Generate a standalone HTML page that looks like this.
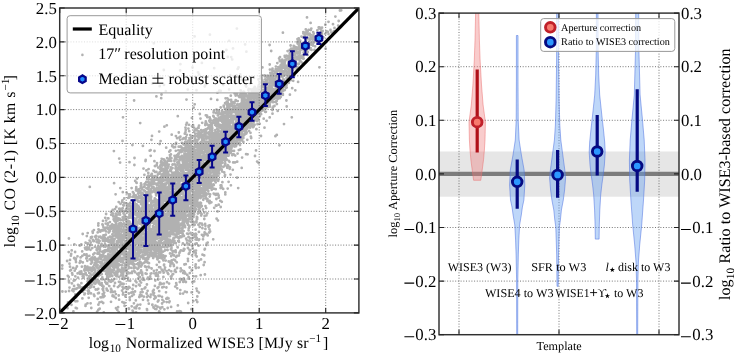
<!DOCTYPE html>
<html><head><meta charset="utf-8"><style>
html,body{margin:0;padding:0;background:#fff;width:735px;height:355px;overflow:hidden}
svg{display:block;will-change:transform}
text{font-family:"Liberation Serif", serif;fill:#000;text-rendering:geometricPrecision}
</style></head><body>
<svg width="735" height="355" viewBox="0 0 735 355">
<defs>
<clipPath id="cl"><rect x="59.7" y="8.0" width="299.2" height="304.9"/></clipPath>
<clipPath id="cr"><rect x="439.0" y="13.1" width="240.0" height="321.6"/></clipPath>
</defs>
<g clip-path="url(#cl)">
<path d="M339.9 10.5h0M341.2 10.3h0M335.4 16.6h0M307.0 17.4h0M338.7 21.0h0M328.5 21.8h0M310.6 22.9h0M325.3 24.7h0M333.0 24.2h0M338.2 25.6h0M341.0 27.0h0M318.7 27.4h0M319.5 27.5h0M322.0 27.7h0M334.5 27.9h0M236.9 28.6h0M311.3 28.6h0M319.0 28.4h0M320.1 28.1h0M305.8 29.4h0M308.7 29.9h0M320.6 29.0h0M330.5 30.0h0M307.8 30.9h0M310.8 30.0h0M317.3 30.3h0M321.5 30.9h0M306.7 31.4h0M322.1 31.7h0M322.6 31.0h0M326.5 31.4h0M326.6 31.8h0M327.9 31.8h0M333.9 31.2h0M282.9 32.7h0M303.3 32.1h0M305.8 32.3h0M307.6 32.6h0M313.2 32.2h0M320.1 32.9h0M331.4 32.4h0M303.4 33.4h0M305.9 33.1h0M309.7 33.7h0M313.7 33.6h0M320.5 33.8h0M325.3 33.8h0M333.1 33.2h0M209.9 34.7h0M305.5 34.3h0M307.3 34.4h0M310.8 34.8h0M322.0 34.1h0M328.5 34.0h0M309.6 35.2h0M313.2 35.5h0M319.1 36.0h0M194.6 36.4h0M301.5 36.6h0M304.7 36.0h0M304.5 36.4h0M303.2 37.3h0M307.8 38.0h0M310.7 37.1h0M311.6 37.4h0M312.7 37.8h0M313.6 37.6h0M313.5 37.4h0M315.8 37.7h0M315.3 37.6h0M316.6 37.1h0M323.4 37.5h0M298.8 38.5h0M305.9 38.6h0M306.8 38.3h0M311.4 39.0h0M317.4 38.2h0M320.1 39.0h0M321.2 38.5h0M297.5 39.1h0M297.8 39.4h0M305.6 39.0h0M309.7 39.9h0M309.5 39.2h0M312.7 39.7h0M312.9 39.0h0M229.1 40.8h0M300.2 40.6h0M306.2 40.1h0M315.6 40.1h0M318.8 40.1h0M298.5 41.3h0M309.4 41.8h0M319.0 41.6h0M318.8 41.6h0M297.3 42.0h0M300.4 42.9h0M305.1 42.5h0M309.8 42.6h0M312.5 42.5h0M314.2 42.3h0M317.7 42.6h0M153.8 43.3h0M297.6 43.5h0M299.4 43.3h0M299.6 43.1h0M301.4 43.7h0M303.9 43.6h0M305.2 43.5h0M308.7 43.6h0M312.8 43.9h0M245.1 44.4h0M269.6 45.0h0M298.8 44.8h0M301.0 44.8h0M304.2 44.4h0M308.8 44.7h0M311.3 44.7h0M321.2 44.7h0M290.6 45.5h0M293.7 45.9h0M300.6 45.6h0M300.3 45.3h0M303.0 45.2h0M303.3 45.5h0M304.8 45.2h0M308.8 45.8h0M313.0 45.5h0M294.7 46.7h0M300.8 46.4h0M300.7 46.4h0M302.1 46.4h0M305.6 46.1h0M308.8 46.9h0M315.1 46.3h0M295.6 47.4h0M296.6 47.4h0M299.0 47.1h0M299.6 48.0h0M308.4 47.4h0M233.0 48.4h0M291.1 48.6h0M292.9 49.0h0M293.1 48.5h0M295.7 48.3h0M295.2 48.5h0M298.4 48.0h0M299.8 48.6h0M300.6 48.8h0M302.0 48.8h0M309.7 49.0h0M310.5 48.1h0M325.6 48.7h0M289.8 49.8h0M294.8 49.9h0M297.5 49.0h0M297.0 49.4h0M299.5 49.9h0M303.4 49.7h0M304.8 49.5h0M306.0 49.8h0M306.6 49.8h0M311.5 49.9h0M226.4 50.0h0M271.2 51.0h0M291.0 50.9h0M292.4 50.5h0M294.6 50.4h0M295.1 50.6h0M296.5 50.4h0M299.9 50.8h0M300.6 50.3h0M304.7 50.4h0M305.1 50.6h0M305.5 50.2h0M314.5 50.0h0M246.4 51.7h0M287.6 51.1h0M294.7 51.4h0M305.1 51.9h0M295.2 52.2h0M295.2 52.7h0M297.8 52.2h0M298.8 53.0h0M300.0 52.9h0M303.6 52.5h0M305.7 52.7h0M305.9 52.1h0M307.8 52.0h0M289.7 53.5h0M290.3 53.5h0M292.0 53.7h0M294.8 53.4h0M297.3 53.6h0M299.3 53.8h0M219.2 54.9h0M289.7 54.6h0M292.6 54.6h0M293.8 54.8h0M306.6 54.5h0M307.7 54.9h0M176.6 55.5h0M286.5 55.7h0M291.0 55.7h0M295.1 55.3h0M300.6 55.9h0M302.6 55.3h0M303.6 55.5h0M284.9 57.0h0M284.7 56.0h0M288.3 56.3h0M296.9 57.0h0M298.3 56.5h0M298.5 56.9h0M298.7 56.4h0M299.3 56.7h0M300.9 56.9h0M302.8 56.2h0M302.5 56.6h0M227.8 57.0h0M231.2 57.1h0M280.0 57.1h0M285.4 57.4h0M288.4 57.1h0M289.8 57.3h0M290.9 57.8h0M292.7 57.7h0M294.6 57.6h0M297.4 58.0h0M300.5 57.2h0M302.7 57.2h0M279.1 58.5h0M286.7 58.6h0M289.5 58.7h0M290.3 58.3h0M292.8 58.2h0M292.7 58.5h0M293.3 58.7h0M300.6 58.1h0M302.0 58.1h0M303.0 58.5h0M303.6 58.5h0M232.2 59.4h0M282.2 59.6h0M289.0 59.7h0M291.9 60.0h0M291.9 59.6h0M292.5 59.4h0M293.4 59.9h0M293.3 59.4h0M295.8 59.9h0M296.5 59.3h0M297.2 59.2h0M298.8 59.3h0M299.3 59.5h0M279.8 60.5h0M281.7 60.6h0M283.4 60.8h0M284.4 60.7h0M285.7 60.1h0M288.6 60.6h0M289.2 60.1h0M291.0 60.1h0M291.4 60.6h0M299.8 60.9h0M279.8 61.2h0M285.0 61.8h0M289.7 61.1h0M289.7 61.5h0M300.7 61.4h0M201.9 62.9h0M282.0 62.7h0M283.3 62.5h0M288.6 62.8h0M288.9 62.8h0M290.8 62.9h0M292.9 62.7h0M295.4 62.5h0M302.0 62.6h0M277.3 63.1h0M284.7 63.3h0M284.2 63.4h0M288.4 63.9h0M288.4 63.7h0M289.0 63.7h0M290.0 63.4h0M289.2 63.6h0M292.0 63.6h0M294.5 63.9h0M295.3 63.1h0M297.6 64.0h0M299.0 63.8h0M298.9 63.7h0M180.4 64.2h0M269.7 64.5h0M280.8 64.9h0M282.4 64.1h0M283.0 64.8h0M284.6 64.7h0M288.1 64.7h0M289.4 64.3h0M292.3 65.0h0M298.3 64.3h0M283.6 65.4h0M283.2 65.4h0M284.9 65.3h0M285.2 65.9h0M285.9 65.7h0M290.1 66.0h0M291.4 65.6h0M293.3 65.6h0M275.9 66.6h0M279.4 66.8h0M281.7 66.6h0M282.2 67.0h0M286.5 66.9h0M286.8 66.4h0M289.1 66.5h0M290.7 66.7h0M291.2 66.4h0M292.2 66.6h0M296.1 66.8h0M192.5 67.5h0M238.5 67.5h0M262.4 67.4h0M278.4 67.1h0M281.1 67.4h0M284.2 67.7h0M284.0 67.2h0M284.2 67.9h0M289.9 67.4h0M290.3 67.5h0M290.5 67.7h0M293.3 67.6h0M294.1 67.4h0M297.7 67.5h0M319.4 67.3h0M214.2 68.2h0M237.7 68.9h0M272.5 68.7h0M278.0 68.8h0M279.2 68.1h0M279.6 68.8h0M281.4 68.9h0M282.3 68.1h0M287.5 68.4h0M287.8 68.0h0M287.3 68.3h0M288.0 68.8h0M290.5 68.9h0M290.1 68.8h0M293.0 68.9h0M163.8 70.0h0M269.9 69.6h0M275.7 69.2h0M276.4 69.3h0M278.1 70.0h0M278.9 69.7h0M280.4 69.1h0M285.3 69.1h0M290.8 69.3h0M293.2 69.8h0M296.6 69.2h0M180.1 70.5h0M272.4 70.4h0M272.7 71.0h0M273.2 70.9h0M280.0 70.2h0M280.2 70.7h0M281.9 70.8h0M281.6 70.7h0M285.0 70.8h0M289.5 70.2h0M292.5 70.5h0M272.7 71.1h0M273.5 71.1h0M275.4 71.9h0M277.2 71.1h0M277.7 71.1h0M280.5 71.7h0M282.7 71.9h0M283.7 71.5h0M283.4 71.9h0M283.0 71.6h0M284.2 71.9h0M286.3 71.2h0M286.0 71.2h0M286.8 71.8h0M288.7 71.2h0M289.9 71.7h0M290.6 71.8h0M198.0 72.3h0M270.3 72.8h0M275.1 72.8h0M276.7 72.1h0M280.6 72.8h0M281.7 72.7h0M283.3 72.0h0M288.0 72.7h0M289.6 72.2h0M270.8 73.4h0M270.7 74.0h0M271.3 73.0h0M272.2 73.7h0M279.9 73.5h0M280.4 73.8h0M280.4 73.6h0M282.4 73.2h0M286.9 73.4h0M286.7 73.4h0M287.2 73.9h0M288.5 73.6h0M290.6 73.5h0M291.4 73.6h0M199.1 74.3h0M240.3 74.3h0M270.7 74.9h0M272.0 75.0h0M273.5 74.4h0M273.4 74.4h0M277.4 74.9h0M277.4 74.4h0M278.9 75.0h0M279.9 74.5h0M280.4 74.2h0M280.6 74.9h0M283.1 74.2h0M284.9 74.4h0M284.9 74.4h0M286.7 74.4h0M287.2 74.5h0M288.0 74.1h0M289.8 74.7h0M290.9 74.3h0M292.1 74.3h0M230.2 75.2h0M236.5 75.5h0M261.8 75.3h0M264.4 75.5h0M265.8 75.9h0M267.8 75.7h0M272.8 75.9h0M276.3 75.4h0M277.7 75.1h0M277.8 75.2h0M284.3 75.5h0M289.3 75.2h0M289.9 75.2h0M291.2 75.1h0M293.6 75.6h0M238.3 76.3h0M260.1 76.4h0M264.9 76.4h0M266.8 76.8h0M267.2 76.1h0M268.1 76.1h0M269.6 76.4h0M269.1 77.0h0M270.7 76.6h0M274.1 76.1h0M277.5 76.1h0M277.8 76.2h0M282.1 76.5h0M288.2 76.2h0M288.7 76.5h0M261.6 78.0h0M267.8 77.5h0M268.9 77.9h0M268.0 78.0h0M271.9 77.8h0M272.4 77.9h0M276.2 77.0h0M276.6 77.3h0M278.5 77.4h0M279.2 77.4h0M282.5 77.0h0M286.6 78.0h0M288.5 77.2h0M289.5 77.9h0M290.3 77.5h0M261.5 78.8h0M269.5 78.2h0M269.4 78.8h0M270.1 78.1h0M270.5 78.9h0M273.7 78.6h0M273.5 78.2h0M274.9 78.6h0M278.2 78.1h0M278.6 78.9h0M287.0 78.6h0M288.5 78.2h0M290.8 78.5h0M212.8 79.0h0M241.4 79.7h0M258.5 79.5h0M262.3 79.8h0M265.3 79.4h0M265.3 79.3h0M266.3 79.6h0M267.5 79.8h0M269.1 79.5h0M269.1 79.6h0M270.3 79.1h0M270.7 79.4h0M271.5 80.0h0M278.4 79.6h0M278.7 79.5h0M282.9 80.0h0M283.4 79.2h0M284.0 79.8h0M289.8 79.8h0M266.6 80.3h0M270.4 80.5h0M271.1 80.3h0M273.8 80.2h0M275.9 80.3h0M276.3 80.8h0M279.7 80.8h0M283.2 80.2h0M285.1 80.9h0M287.5 80.1h0M287.6 80.6h0M290.7 80.2h0M293.2 80.8h0M234.3 81.5h0M244.1 81.0h0M262.5 81.5h0M265.9 81.7h0M265.5 81.7h0M271.5 81.7h0M273.3 81.3h0M275.8 81.9h0M277.5 81.7h0M278.5 81.6h0M279.8 81.8h0M280.5 81.6h0M281.1 81.6h0M281.5 81.1h0M282.3 81.7h0M283.5 81.4h0M286.0 81.1h0M288.6 81.2h0M298.1 81.9h0M259.5 82.7h0M264.1 82.7h0M265.9 82.3h0M265.3 82.1h0M265.8 82.5h0M268.0 82.3h0M269.2 83.0h0M272.2 82.6h0M274.2 82.3h0M282.8 82.7h0M282.3 82.1h0M285.6 82.5h0M285.1 82.5h0M288.8 82.9h0M152.2 83.7h0M250.3 83.6h0M264.6 84.0h0M265.6 83.2h0M269.4 83.8h0M271.1 83.2h0M275.7 83.6h0M278.6 83.1h0M280.5 83.3h0M281.7 83.8h0M164.0 84.9h0M262.7 84.5h0M264.4 84.1h0M264.5 84.6h0M266.5 84.5h0M273.3 84.1h0M274.0 84.1h0M274.1 84.2h0M275.6 84.2h0M278.3 84.2h0M282.1 84.3h0M283.9 84.5h0M284.8 84.4h0M284.8 84.3h0M285.8 84.5h0M286.6 84.9h0M205.3 85.2h0M223.3 85.1h0M245.6 85.4h0M258.8 85.2h0M262.8 85.3h0M263.5 85.4h0M264.9 85.4h0M269.7 85.5h0M272.3 85.4h0M274.6 85.7h0M279.7 85.5h0M281.0 85.8h0M281.2 85.9h0M283.5 85.3h0M284.6 85.4h0M159.7 86.2h0M204.7 86.5h0M246.2 86.5h0M254.8 86.8h0M258.4 86.6h0M259.9 86.6h0M260.0 86.4h0M260.6 86.5h0M263.0 86.8h0M263.4 86.7h0M265.0 86.7h0M269.6 86.5h0M269.1 86.5h0M269.8 86.1h0M270.3 86.9h0M275.1 86.0h0M275.4 86.6h0M280.9 86.7h0M283.0 87.0h0M284.7 86.6h0M254.4 87.7h0M258.3 87.5h0M260.0 87.8h0M263.8 87.1h0M268.1 87.9h0M268.2 87.3h0M271.7 87.3h0M271.2 87.1h0M276.2 87.1h0M276.2 87.6h0M277.0 87.8h0M277.0 87.6h0M282.4 87.0h0M282.3 87.7h0M286.7 87.5h0M286.0 87.9h0M248.8 88.9h0M253.4 88.8h0M255.6 88.6h0M257.8 88.7h0M265.3 88.6h0M266.4 88.4h0M266.8 88.4h0M270.0 88.7h0M272.2 88.5h0M277.0 88.7h0M277.0 88.1h0M280.5 88.0h0M280.4 88.6h0M281.0 88.6h0M282.1 88.8h0M282.8 88.6h0M282.7 88.1h0M292.2 88.2h0M187.8 89.6h0M229.1 89.4h0M248.4 89.9h0M250.7 89.3h0M255.5 89.4h0M256.0 89.4h0M258.3 89.8h0M258.0 89.7h0M259.0 89.2h0M261.5 89.4h0M261.5 89.6h0M264.2 90.0h0M267.2 89.8h0M273.7 89.4h0M273.7 89.5h0M273.7 89.6h0M273.2 89.9h0M273.3 89.1h0M275.0 90.0h0M276.0 89.2h0M276.0 89.7h0M278.8 90.0h0M279.9 89.7h0M282.0 89.9h0M283.9 90.0h0M284.8 90.0h0M196.5 90.2h0M219.3 90.7h0M220.7 90.8h0M240.7 90.4h0M253.5 90.4h0M253.1 90.1h0M256.1 90.2h0M258.5 90.9h0M258.3 90.4h0M258.2 90.4h0M259.3 91.0h0M265.6 90.4h0M265.3 90.3h0M265.3 90.1h0M269.1 90.4h0M269.8 90.2h0M270.2 90.2h0M271.0 90.8h0M272.4 90.6h0M273.7 91.0h0M274.9 90.6h0M277.3 90.3h0M278.7 90.4h0M279.2 90.2h0M283.0 90.8h0M283.3 90.6h0M295.3 90.3h0M165.8 91.2h0M243.5 92.0h0M243.1 92.0h0M244.1 92.0h0M251.9 91.7h0M251.7 91.6h0M252.8 91.0h0M252.8 91.9h0M254.4 91.2h0M260.1 91.8h0M263.6 91.6h0M264.5 91.1h0M270.6 91.8h0M272.0 91.5h0M276.0 91.9h0M276.3 91.3h0M276.3 91.9h0M277.9 91.6h0M278.6 91.9h0M279.4 91.1h0M280.8 91.5h0M217.4 92.7h0M240.8 92.6h0M243.6 92.8h0M243.1 92.8h0M248.8 92.6h0M254.2 92.1h0M255.5 92.7h0M256.9 92.4h0M257.9 92.6h0M257.4 93.0h0M257.7 92.4h0M258.1 92.3h0M258.3 92.5h0M259.5 92.6h0M262.4 92.4h0M262.5 92.3h0M264.3 92.6h0M264.2 92.9h0M266.0 92.1h0M266.1 92.1h0M268.4 92.8h0M269.3 92.0h0M270.9 92.3h0M270.2 92.8h0M271.1 92.7h0M272.5 92.7h0M274.7 92.8h0M275.1 92.7h0M278.0 92.8h0M278.1 92.2h0M281.0 92.2h0M234.6 93.4h0M235.5 93.6h0M237.1 93.3h0M241.1 94.0h0M241.6 93.3h0M255.6 93.1h0M259.0 93.8h0M262.4 93.7h0M263.2 93.7h0M264.5 93.2h0M265.6 93.2h0M266.5 93.8h0M266.6 93.9h0M267.7 93.6h0M268.6 93.2h0M268.3 93.4h0M270.5 93.1h0M271.3 93.5h0M273.3 93.9h0M273.1 93.4h0M278.2 93.7h0M282.8 93.8h0M161.5 94.5h0M240.3 94.4h0M241.4 94.8h0M243.0 94.5h0M244.9 94.0h0M244.8 94.2h0M246.1 94.4h0M249.3 95.0h0M249.7 94.4h0M250.4 94.1h0M252.3 94.1h0M253.9 94.2h0M254.7 94.9h0M254.6 95.0h0M255.8 94.5h0M255.1 94.8h0M264.9 94.9h0M266.0 95.0h0M266.4 94.1h0M268.7 94.5h0M268.7 94.6h0M269.6 94.9h0M273.5 94.2h0M274.1 95.0h0M276.7 95.0h0M278.3 95.0h0M279.9 94.2h0M279.4 94.1h0M282.6 94.8h0M282.9 94.9h0M289.9 94.7h0M230.8 95.7h0M235.6 95.6h0M237.1 95.2h0M242.7 95.2h0M244.5 95.2h0M245.8 95.6h0M246.0 95.3h0M248.6 95.5h0M250.5 95.2h0M250.2 95.6h0M250.6 95.1h0M251.9 95.7h0M251.3 95.9h0M256.9 95.7h0M257.9 95.5h0M258.2 96.0h0M259.2 95.8h0M260.0 95.5h0M261.9 95.0h0M263.3 96.0h0M263.9 96.0h0M265.3 95.1h0M268.4 95.8h0M271.2 95.3h0M272.3 95.6h0M274.2 95.5h0M274.5 95.9h0M278.5 95.7h0M278.1 95.7h0M279.1 95.5h0M156.4 96.4h0M238.9 96.2h0M239.2 97.0h0M240.4 96.9h0M240.2 96.1h0M241.4 96.4h0M243.1 96.9h0M247.1 96.3h0M249.5 97.0h0M251.0 96.2h0M253.2 96.1h0M253.4 96.6h0M254.2 96.3h0M256.7 96.7h0M256.7 96.9h0M257.6 96.2h0M259.5 96.1h0M261.0 96.5h0M262.1 96.9h0M262.1 96.9h0M263.3 96.5h0M264.8 96.6h0M266.5 96.1h0M267.7 96.6h0M269.5 96.6h0M271.4 96.6h0M271.4 96.5h0M278.4 96.2h0M278.7 96.0h0M280.7 96.9h0M241.8 97.9h0M244.2 97.5h0M247.5 97.5h0M248.1 97.1h0M248.7 97.9h0M250.0 97.8h0M251.6 97.9h0M252.6 97.1h0M253.0 97.7h0M255.3 97.9h0M256.9 97.3h0M256.7 97.9h0M257.5 97.0h0M259.3 97.8h0M260.4 97.0h0M264.0 98.0h0M263.5 97.9h0M264.4 97.9h0M265.9 97.4h0M268.9 97.7h0M273.7 97.5h0M275.9 97.5h0M276.5 97.9h0M277.7 97.6h0M278.1 97.0h0M161.2 98.2h0M211.0 98.9h0M225.6 98.3h0M227.3 98.3h0M244.6 98.0h0M247.6 98.7h0M247.7 98.7h0M249.3 98.8h0M249.6 98.1h0M249.4 98.8h0M250.2 98.8h0M250.3 98.8h0M251.3 98.7h0M251.2 99.0h0M254.4 98.1h0M255.8 98.1h0M256.7 98.2h0M257.2 98.8h0M258.3 98.9h0M259.2 98.5h0M259.0 98.3h0M261.7 99.0h0M261.9 98.2h0M264.8 98.7h0M264.2 99.0h0M265.9 98.6h0M266.8 98.6h0M268.3 98.9h0M269.4 98.2h0M269.6 98.8h0M269.4 98.5h0M270.5 98.9h0M270.8 98.5h0M270.5 98.0h0M273.1 98.2h0M273.6 98.8h0M273.4 98.0h0M274.4 98.7h0M274.3 98.3h0M277.2 98.3h0M279.8 98.2h0M186.5 99.6h0M217.3 99.9h0M228.7 99.8h0M231.1 99.8h0M242.0 99.3h0M242.5 99.7h0M244.6 99.1h0M244.1 99.9h0M248.0 99.0h0M248.6 99.5h0M248.2 99.6h0M257.0 99.5h0M257.5 99.3h0M258.6 99.3h0M258.1 99.8h0M258.8 99.1h0M261.4 99.4h0M261.0 99.5h0M264.0 99.9h0M266.0 99.2h0M266.1 99.6h0M266.6 99.6h0M267.9 99.8h0M268.6 99.8h0M270.7 100.0h0M270.2 99.4h0M271.0 99.6h0M272.3 100.0h0M277.6 99.0h0M134.1 100.5h0M235.7 100.1h0M242.6 100.7h0M243.0 100.7h0M243.8 101.0h0M246.8 100.2h0M247.1 100.2h0M247.1 100.3h0M252.7 100.7h0M253.2 100.5h0M253.9 100.3h0M253.3 100.8h0M254.1 101.0h0M255.4 100.9h0M258.5 100.7h0M258.5 100.5h0M263.8 100.2h0M265.3 100.3h0M266.1 100.3h0M267.3 100.5h0M268.7 100.4h0M270.6 100.4h0M276.7 100.9h0M286.4 100.5h0M226.8 101.7h0M231.4 101.6h0M235.5 101.1h0M237.7 101.1h0M241.9 101.1h0M246.5 101.3h0M248.4 101.8h0M249.5 101.2h0M250.1 101.3h0M250.3 101.5h0M250.3 101.9h0M252.5 101.0h0M253.2 101.4h0M254.5 101.0h0M255.7 101.2h0M255.7 101.4h0M256.9 101.4h0M256.7 101.5h0M258.0 101.2h0M259.0 101.4h0M259.4 101.1h0M259.4 101.1h0M259.2 101.4h0M260.1 101.2h0M262.8 101.2h0M262.1 101.7h0M263.1 101.7h0M264.7 101.6h0M265.1 101.7h0M266.1 101.2h0M267.8 101.2h0M268.2 101.2h0M269.5 101.2h0M270.8 101.2h0M272.4 101.2h0M273.0 101.9h0M275.2 101.9h0M276.1 101.5h0M227.8 102.5h0M233.2 102.2h0M234.1 102.9h0M243.7 102.0h0M243.4 102.7h0M245.0 102.8h0M249.5 102.4h0M249.9 102.9h0M250.1 102.1h0M250.5 102.9h0M250.7 102.1h0M252.2 102.2h0M254.7 102.8h0M260.2 102.1h0M260.1 102.3h0M265.6 102.3h0M266.0 102.1h0M266.1 102.9h0M266.5 102.1h0M266.5 102.4h0M266.8 102.3h0M266.8 102.5h0M267.4 102.6h0M267.9 102.8h0M268.8 102.8h0M270.1 102.7h0M273.0 102.2h0M225.1 103.2h0M231.9 103.4h0M231.3 103.6h0M234.5 103.2h0M241.1 103.3h0M241.5 103.7h0M242.4 103.1h0M243.3 103.4h0M244.0 103.1h0M244.4 103.4h0M245.8 103.6h0M245.2 103.6h0M245.6 103.4h0M246.5 103.7h0M247.5 103.0h0M249.9 103.2h0M251.2 103.2h0M253.7 103.1h0M254.1 103.6h0M255.3 103.3h0M257.8 103.4h0M258.4 103.4h0M258.8 103.8h0M260.6 103.9h0M262.0 103.1h0M263.3 103.8h0M264.8 103.2h0M266.5 103.4h0M268.6 103.3h0M269.1 103.4h0M194.7 104.3h0M226.6 104.4h0M228.2 104.5h0M229.3 104.3h0M231.9 104.7h0M231.6 104.8h0M237.0 104.6h0M237.5 104.3h0M239.3 104.5h0M243.0 104.7h0M243.6 104.7h0M243.8 104.0h0M243.7 105.0h0M246.5 104.6h0M247.0 104.3h0M248.1 104.2h0M249.2 104.3h0M249.4 104.9h0M252.2 104.2h0M253.3 104.1h0M254.2 104.2h0M254.8 104.6h0M255.8 104.2h0M256.2 104.8h0M256.6 105.0h0M258.4 104.3h0M262.3 104.5h0M262.4 104.7h0M263.3 104.5h0M267.7 104.1h0M269.7 104.7h0M276.9 104.1h0M223.7 105.7h0M231.2 105.2h0M231.2 105.1h0M232.3 105.7h0M232.1 105.9h0M233.7 105.7h0M238.5 105.9h0M239.2 105.4h0M239.4 106.0h0M241.9 105.6h0M241.6 105.0h0M242.1 105.7h0M244.6 105.1h0M246.3 105.2h0M247.3 106.0h0M251.0 105.0h0M250.3 105.3h0M250.1 105.5h0M252.6 105.7h0M253.3 105.1h0M254.2 105.8h0M257.5 105.2h0M257.4 105.5h0M258.9 105.4h0M259.8 105.1h0M260.5 105.7h0M263.0 106.0h0M263.9 106.0h0M266.2 105.3h0M266.8 105.3h0M269.0 105.9h0M269.1 105.9h0M274.5 106.0h0M223.7 106.5h0M227.3 106.0h0M229.2 106.3h0M229.9 106.2h0M232.2 106.3h0M235.4 106.5h0M242.0 106.5h0M243.3 106.6h0M245.1 107.0h0M246.8 106.6h0M247.3 106.0h0M247.6 106.8h0M248.4 106.1h0M251.5 106.6h0M253.8 106.8h0M253.2 106.6h0M253.9 106.7h0M257.2 106.7h0M258.0 106.4h0M258.8 106.5h0M258.9 106.4h0M258.3 106.9h0M260.9 106.9h0M260.7 106.3h0M262.5 106.8h0M262.5 106.9h0M263.9 106.3h0M264.5 106.4h0M270.0 106.5h0M273.5 106.4h0M286.7 106.5h0M193.7 107.6h0M220.7 107.5h0M228.8 107.2h0M233.4 107.7h0M233.3 107.0h0M234.5 107.0h0M236.6 107.8h0M239.4 107.7h0M239.5 107.8h0M241.4 107.6h0M243.7 107.9h0M243.3 107.0h0M244.4 107.5h0M246.9 107.8h0M247.7 107.7h0M249.6 107.5h0M251.3 107.3h0M253.8 108.0h0M255.3 107.3h0M256.1 107.2h0M257.1 107.8h0M263.8 107.6h0M265.1 107.2h0M267.8 107.0h0M272.7 107.9h0M224.8 108.9h0M225.9 108.8h0M227.1 108.1h0M228.6 108.2h0M230.2 108.8h0M233.1 108.1h0M237.0 108.4h0M236.2 108.0h0M236.7 108.5h0M239.1 108.0h0M241.0 108.2h0M242.4 108.8h0M243.2 108.6h0M243.4 108.5h0M244.3 108.7h0M245.1 108.4h0M249.7 108.6h0M250.2 108.6h0M252.4 108.6h0M255.8 109.0h0M255.2 108.4h0M255.8 108.8h0M257.0 108.2h0M256.5 108.0h0M257.5 108.3h0M258.0 109.0h0M258.0 108.9h0M258.5 108.2h0M259.4 108.6h0M261.2 108.9h0M261.7 108.2h0M262.5 108.5h0M265.0 108.1h0M264.1 108.3h0M265.7 108.6h0M216.5 109.6h0M228.8 109.7h0M228.1 109.9h0M229.6 109.8h0M232.5 109.5h0M233.4 109.6h0M234.8 109.7h0M236.6 110.0h0M240.5 109.7h0M243.3 109.8h0M244.3 109.4h0M248.1 109.3h0M249.5 109.2h0M251.3 109.9h0M252.4 109.1h0M253.4 109.0h0M253.3 109.9h0M254.5 109.8h0M254.3 109.6h0M256.2 110.0h0M256.8 109.3h0M256.2 109.0h0M256.7 109.5h0M258.0 109.5h0M257.4 110.0h0M258.5 109.8h0M213.9 110.9h0M216.9 110.6h0M218.7 110.3h0M222.0 110.8h0M226.1 110.4h0M228.3 110.0h0M231.4 110.1h0M232.8 110.6h0M232.8 111.0h0M233.8 110.6h0M235.8 110.4h0M238.0 110.6h0M238.1 110.5h0M238.6 111.0h0M241.2 110.3h0M241.7 110.5h0M241.4 110.9h0M242.9 110.5h0M244.0 111.0h0M244.1 111.0h0M244.8 110.2h0M246.0 110.9h0M253.9 110.4h0M254.1 110.0h0M255.6 110.1h0M256.0 110.3h0M255.9 110.7h0M256.3 110.4h0M256.9 110.1h0M257.6 110.4h0M261.2 110.3h0M261.9 110.7h0M263.4 110.1h0M272.4 110.0h0M277.7 110.9h0M218.9 111.4h0M225.6 111.8h0M226.6 111.1h0M227.4 112.0h0M230.6 111.1h0M230.3 111.8h0M231.9 111.9h0M233.1 111.7h0M234.9 111.9h0M236.8 112.0h0M237.6 111.0h0M241.0 111.1h0M241.7 111.1h0M244.0 111.2h0M245.0 111.3h0M244.2 111.1h0M246.0 111.5h0M245.8 111.8h0M248.2 111.8h0M248.5 111.3h0M249.4 111.4h0M249.7 111.7h0M256.7 111.5h0M257.4 111.5h0M260.9 111.4h0M265.2 111.8h0M265.9 111.8h0M213.6 112.4h0M215.9 113.0h0M221.8 112.9h0M223.4 112.1h0M224.7 112.1h0M227.9 112.6h0M229.5 112.2h0M230.1 112.6h0M231.1 112.1h0M232.4 112.3h0M234.5 112.2h0M238.2 112.6h0M238.4 112.0h0M239.6 112.9h0M242.1 112.5h0M242.2 112.2h0M243.2 113.0h0M244.6 112.8h0M244.9 112.4h0M247.6 112.3h0M247.6 112.8h0M250.0 112.9h0M251.3 112.8h0M253.7 112.2h0M256.7 112.4h0M258.7 112.5h0M258.9 112.3h0M259.9 112.5h0M259.7 112.5h0M199.8 114.0h0M218.1 113.1h0M219.1 113.9h0M219.0 113.4h0M220.3 113.9h0M221.2 113.9h0M225.7 113.1h0M226.4 114.0h0M227.3 113.5h0M236.7 113.5h0M241.7 113.9h0M241.4 113.9h0M242.0 113.4h0M244.0 113.7h0M244.6 113.3h0M244.3 113.5h0M248.8 113.0h0M249.9 113.7h0M249.3 113.3h0M253.1 113.6h0M253.7 114.0h0M255.9 113.1h0M255.8 113.1h0M255.4 113.0h0M256.4 113.7h0M259.2 113.4h0M272.5 113.7h0M220.4 114.3h0M221.3 114.2h0M222.6 115.0h0M222.7 114.9h0M223.5 114.4h0M228.0 114.3h0M228.5 114.1h0M231.2 114.4h0M231.2 114.7h0M236.1 114.4h0M236.2 114.0h0M238.9 114.6h0M238.1 114.6h0M240.2 114.6h0M241.4 114.1h0M241.3 114.9h0M243.4 114.6h0M246.1 114.0h0M247.3 114.3h0M248.8 114.9h0M252.6 114.9h0M253.9 114.2h0M255.3 114.7h0M256.2 114.6h0M258.9 114.2h0M261.1 114.2h0M205.8 115.3h0M207.0 115.6h0M213.3 115.9h0M217.8 115.3h0M226.8 115.6h0M227.6 115.1h0M229.4 115.8h0M231.1 115.7h0M234.8 115.9h0M238.8 115.1h0M240.1 115.7h0M242.8 115.8h0M243.7 115.7h0M243.0 115.9h0M246.7 115.8h0M247.6 115.1h0M248.7 115.2h0M253.2 115.1h0M256.0 115.8h0M256.5 115.7h0M256.4 115.2h0M177.8 116.2h0M213.7 116.7h0M222.0 117.0h0M222.4 116.3h0M222.7 116.1h0M223.4 116.6h0M224.4 116.4h0M225.9 116.1h0M226.5 116.3h0M226.0 116.3h0M228.1 116.1h0M228.6 116.9h0M228.7 116.0h0M232.6 116.2h0M232.7 116.7h0M232.3 116.4h0M233.6 116.0h0M233.0 116.9h0M234.9 116.9h0M235.3 116.6h0M235.7 116.8h0M235.8 116.4h0M237.7 116.5h0M239.7 116.3h0M244.5 116.4h0M244.8 116.9h0M246.0 116.8h0M245.9 116.4h0M247.9 116.9h0M247.6 116.3h0M247.9 117.0h0M248.8 116.4h0M248.1 116.9h0M249.7 116.8h0M252.0 116.3h0M252.0 116.7h0M255.0 116.2h0M254.3 116.6h0M255.0 116.1h0M256.8 116.8h0M256.0 116.0h0M256.1 116.3h0M259.8 116.3h0M123.0 117.3h0M191.9 117.9h0M207.3 117.2h0M209.7 117.5h0M218.8 118.0h0M220.4 117.5h0M220.5 117.4h0M226.7 117.3h0M228.7 117.3h0M231.0 117.6h0M231.1 117.9h0M233.4 117.7h0M237.1 117.6h0M238.4 117.2h0M238.1 117.2h0M239.3 117.7h0M239.6 117.9h0M241.8 117.1h0M243.0 117.1h0M242.2 117.4h0M243.2 117.6h0M245.0 117.4h0M244.1 117.8h0M246.5 117.4h0M247.0 117.4h0M246.4 117.2h0M247.8 117.6h0M251.2 117.6h0M252.2 117.4h0M252.3 117.4h0M256.7 118.0h0M258.0 117.8h0M269.7 117.4h0M291.8 117.3h0M200.5 118.6h0M215.9 118.7h0M215.8 118.7h0M218.6 118.4h0M222.0 118.2h0M221.0 118.8h0M223.6 118.9h0M224.6 118.3h0M227.7 118.8h0M231.4 118.6h0M233.3 118.5h0M235.5 118.4h0M237.9 118.3h0M238.4 118.3h0M239.3 118.5h0M239.2 118.7h0M240.7 118.2h0M241.8 118.1h0M242.4 118.7h0M243.1 118.7h0M243.8 118.1h0M244.9 118.1h0M244.0 118.7h0M245.4 118.4h0M246.0 118.8h0M248.1 118.7h0M251.9 118.9h0M252.4 118.9h0M252.4 118.9h0M255.5 118.4h0M263.7 118.7h0M210.1 119.1h0M210.3 119.1h0M214.3 119.7h0M215.6 119.9h0M216.6 119.9h0M220.3 119.6h0M223.9 119.7h0M224.9 119.3h0M224.1 119.2h0M225.2 120.0h0M226.5 119.2h0M227.3 119.2h0M231.6 119.8h0M231.4 119.4h0M232.5 119.3h0M232.5 119.7h0M232.8 119.0h0M233.6 119.6h0M235.6 119.0h0M237.1 119.0h0M240.0 119.4h0M239.7 119.1h0M242.4 119.9h0M245.9 119.7h0M245.8 119.0h0M246.5 119.8h0M246.1 119.3h0M246.5 119.7h0M251.4 119.3h0M252.8 119.2h0M253.1 119.7h0M256.2 119.9h0M256.7 119.3h0M256.6 119.8h0M209.3 120.8h0M209.7 120.4h0M209.8 120.2h0M211.0 120.7h0M213.7 120.9h0M213.5 120.5h0M218.9 120.6h0M219.0 120.6h0M220.9 120.7h0M220.5 120.2h0M221.8 120.3h0M221.6 120.3h0M224.0 120.4h0M225.7 120.4h0M225.8 120.3h0M226.3 120.9h0M227.6 120.8h0M227.0 120.2h0M230.0 120.2h0M229.6 120.3h0M231.4 120.7h0M231.3 120.7h0M241.1 120.1h0M243.4 120.6h0M248.0 120.6h0M247.9 120.2h0M249.2 120.9h0M250.4 121.0h0M251.9 120.0h0M252.4 120.9h0M254.4 120.4h0M254.1 120.8h0M258.8 120.1h0M266.6 120.8h0M205.8 121.4h0M209.4 121.1h0M209.8 121.8h0M209.9 121.0h0M210.1 121.7h0M213.4 121.5h0M218.0 121.6h0M218.1 121.1h0M224.0 121.5h0M223.6 121.8h0M225.4 121.2h0M226.3 121.1h0M226.5 121.8h0M228.4 121.1h0M229.2 121.3h0M230.0 121.1h0M230.9 121.3h0M231.6 121.7h0M232.7 121.8h0M236.2 121.2h0M236.2 121.7h0M237.2 121.2h0M237.4 121.8h0M238.2 121.5h0M239.5 121.1h0M240.4 121.2h0M240.5 121.6h0M242.0 121.6h0M242.7 121.0h0M242.9 121.0h0M243.6 121.2h0M243.1 121.4h0M244.5 121.5h0M244.7 121.2h0M247.7 121.3h0M253.8 121.8h0M256.9 121.0h0M186.9 122.8h0M202.2 122.8h0M206.2 122.9h0M213.5 122.6h0M216.2 122.1h0M217.0 122.5h0M222.3 122.1h0M224.6 122.4h0M224.1 122.5h0M225.6 122.6h0M226.7 122.8h0M226.2 122.3h0M228.7 122.1h0M228.2 122.7h0M231.3 122.5h0M233.3 122.9h0M236.5 122.4h0M237.0 122.3h0M238.1 122.7h0M239.5 122.1h0M242.3 122.8h0M243.0 122.2h0M245.9 122.4h0M245.6 122.9h0M246.6 122.1h0M248.8 122.5h0M249.2 122.1h0M250.5 122.8h0M251.3 122.3h0M140.2 123.1h0M205.5 123.3h0M206.3 124.0h0M211.6 123.2h0M214.9 123.2h0M215.4 123.9h0M215.7 123.1h0M218.4 123.6h0M224.5 123.1h0M225.1 123.5h0M229.1 123.8h0M229.8 123.0h0M236.1 123.6h0M237.8 123.4h0M239.7 123.9h0M240.0 123.2h0M241.2 123.9h0M244.0 123.8h0M244.3 123.0h0M244.6 123.8h0M245.8 123.1h0M245.6 123.4h0M246.4 123.9h0M249.5 123.7h0M259.7 123.8h0M186.2 124.7h0M189.0 124.8h0M205.3 125.0h0M205.8 124.7h0M207.2 124.4h0M212.0 124.1h0M215.1 124.9h0M216.8 124.7h0M219.7 124.9h0M223.3 124.1h0M224.7 124.0h0M226.7 124.4h0M228.4 124.5h0M228.8 124.8h0M228.4 124.2h0M233.3 125.0h0M234.7 124.4h0M239.2 124.2h0M242.1 124.6h0M242.9 124.8h0M245.0 124.6h0M247.9 124.0h0M247.1 124.1h0M248.8 124.5h0M248.6 124.1h0M251.6 124.1h0M252.8 124.6h0M254.6 124.8h0M254.3 124.5h0M257.5 124.2h0M284.0 124.1h0M166.8 125.3h0M193.1 125.2h0M199.0 125.6h0M208.4 125.4h0M209.8 125.2h0M209.8 125.8h0M210.3 125.1h0M211.8 125.7h0M211.3 125.7h0M211.4 125.2h0M216.4 125.9h0M218.6 125.6h0M220.8 125.1h0M221.9 125.5h0M221.3 125.2h0M222.4 125.1h0M226.6 125.3h0M230.4 125.7h0M233.3 125.6h0M234.5 125.8h0M234.0 125.6h0M234.7 125.1h0M235.8 125.9h0M239.6 125.8h0M240.7 125.4h0M241.3 125.6h0M241.6 126.0h0M247.8 125.3h0M247.0 125.8h0M249.9 125.8h0M164.4 126.7h0M192.0 126.3h0M209.5 126.8h0M211.0 126.8h0M217.0 126.4h0M218.3 126.1h0M220.1 126.0h0M222.8 126.4h0M223.7 126.1h0M224.1 126.3h0M226.6 126.2h0M227.9 126.4h0M227.3 126.6h0M228.5 126.7h0M228.2 126.2h0M230.3 126.2h0M233.0 126.7h0M235.5 126.5h0M237.0 126.4h0M237.3 126.1h0M239.3 126.5h0M248.2 126.7h0M249.7 126.9h0M249.0 126.9h0M249.2 126.1h0M250.5 126.4h0M250.0 126.8h0M251.4 126.2h0M253.7 126.6h0M185.5 127.7h0M194.0 127.6h0M198.6 127.9h0M198.1 127.6h0M210.6 127.9h0M210.8 127.2h0M211.3 127.7h0M212.1 127.3h0M219.4 127.3h0M221.9 127.9h0M222.3 127.5h0M222.2 127.9h0M223.4 127.8h0M224.9 127.4h0M225.8 127.2h0M226.2 127.0h0M226.4 127.0h0M230.7 127.2h0M231.2 127.4h0M231.5 127.6h0M233.7 127.5h0M234.2 127.6h0M235.3 127.4h0M236.2 127.8h0M239.8 127.2h0M239.2 128.0h0M243.0 127.6h0M243.9 127.8h0M244.6 127.4h0M244.9 127.5h0M245.1 127.6h0M247.3 127.3h0M247.5 127.5h0M249.4 127.4h0M250.1 127.7h0M253.0 127.2h0M264.5 127.7h0M188.4 128.6h0M207.0 129.0h0M208.0 128.2h0M212.0 128.6h0M212.1 128.6h0M212.3 128.6h0M221.1 128.2h0M223.3 128.7h0M223.3 128.6h0M226.7 128.9h0M227.3 128.5h0M230.0 128.8h0M230.9 128.0h0M230.0 128.6h0M230.4 128.7h0M232.2 128.1h0M235.3 128.8h0M236.7 128.8h0M237.6 128.0h0M237.5 128.3h0M238.1 128.8h0M238.3 128.9h0M242.0 128.3h0M242.7 128.4h0M243.1 128.6h0M244.7 128.8h0M246.7 128.9h0M246.7 128.7h0M246.8 128.8h0M196.1 129.1h0M204.8 129.8h0M205.3 129.6h0M205.8 129.7h0M210.1 129.8h0M210.6 129.0h0M217.3 129.0h0M218.5 130.0h0M222.3 129.4h0M222.6 129.5h0M223.7 129.0h0M223.2 129.1h0M225.3 129.5h0M225.8 129.9h0M225.2 129.6h0M226.0 129.7h0M226.3 129.9h0M227.7 129.7h0M227.8 129.7h0M228.8 129.7h0M229.2 129.6h0M231.7 129.0h0M233.3 129.8h0M234.5 129.8h0M235.3 129.8h0M237.1 129.2h0M239.5 129.7h0M240.4 129.2h0M242.1 129.3h0M243.2 129.7h0M244.4 129.0h0M244.6 129.8h0M246.4 129.3h0M256.4 129.2h0M185.7 130.0h0M194.7 130.3h0M196.9 130.4h0M201.2 130.1h0M203.6 130.5h0M203.5 130.6h0M203.4 130.7h0M206.1 130.6h0M212.3 130.5h0M215.3 130.1h0M221.9 130.5h0M222.4 130.3h0M225.0 130.9h0M226.5 130.9h0M227.9 130.4h0M227.9 130.8h0M228.1 130.8h0M228.5 130.9h0M229.3 130.1h0M230.3 130.4h0M231.0 130.9h0M230.6 130.8h0M232.7 130.3h0M232.3 130.8h0M240.7 130.8h0M241.0 130.5h0M241.3 130.5h0M242.6 130.0h0M242.2 130.1h0M242.9 130.5h0M244.4 130.5h0M249.0 130.9h0M249.0 130.8h0M159.2 131.6h0M189.2 131.2h0M194.3 131.9h0M198.7 131.3h0M201.4 131.8h0M202.8 131.6h0M204.7 131.6h0M205.0 131.0h0M205.7 131.3h0M218.3 131.2h0M219.5 131.3h0M222.0 131.5h0M225.3 131.5h0M225.5 131.5h0M229.2 131.5h0M230.5 131.5h0M232.5 131.7h0M233.3 131.1h0M233.8 131.4h0M235.2 131.4h0M237.9 131.7h0M237.8 131.7h0M238.4 131.8h0M239.0 131.6h0M238.9 131.8h0M240.4 131.4h0M240.1 131.7h0M241.9 131.1h0M241.7 131.3h0M241.6 132.0h0M244.1 131.0h0M244.9 131.1h0M245.9 131.2h0M245.7 131.9h0M178.8 132.5h0M185.5 132.2h0M204.6 132.0h0M205.3 132.6h0M208.5 132.6h0M209.7 132.1h0M212.1 132.3h0M215.9 132.6h0M215.2 132.9h0M215.1 132.3h0M216.1 132.0h0M217.8 132.9h0M221.3 132.5h0M221.8 132.6h0M222.1 132.4h0M224.6 132.1h0M224.9 132.5h0M225.2 132.9h0M226.7 132.6h0M229.8 132.1h0M230.5 132.7h0M233.9 132.4h0M235.8 132.7h0M239.0 132.2h0M238.0 132.3h0M239.3 132.4h0M239.7 132.5h0M241.9 132.2h0M241.3 132.6h0M246.7 132.7h0M250.5 132.8h0M184.8 133.7h0M195.2 133.8h0M197.6 133.3h0M200.6 133.2h0M200.2 133.0h0M206.0 133.7h0M206.5 133.0h0M208.5 133.7h0M209.1 133.9h0M210.6 133.2h0M211.4 133.8h0M212.3 133.1h0M213.0 133.2h0M215.0 133.5h0M215.4 133.9h0M216.3 133.3h0M217.1 133.9h0M217.3 133.5h0M217.2 133.1h0M221.6 133.3h0M223.3 133.3h0M225.1 133.4h0M226.4 133.3h0M226.5 133.4h0M226.5 133.8h0M232.3 133.3h0M234.1 133.4h0M235.1 133.2h0M236.2 133.7h0M237.5 133.6h0M238.3 133.9h0M239.7 133.6h0M240.8 133.0h0M241.6 133.9h0M244.7 133.8h0M245.6 133.0h0M245.1 133.9h0M246.3 133.5h0M171.7 134.7h0M186.8 134.8h0M198.2 134.4h0M198.5 134.1h0M200.1 134.9h0M202.7 134.7h0M204.0 134.4h0M214.9 134.4h0M214.3 134.0h0M215.6 134.3h0M216.2 134.3h0M217.9 134.9h0M217.4 134.4h0M219.8 134.8h0M219.5 134.5h0M219.1 134.6h0M220.3 134.4h0M220.7 134.9h0M222.4 134.2h0M223.8 134.8h0M228.2 134.4h0M229.9 134.8h0M231.1 134.1h0M231.8 134.1h0M231.4 134.0h0M235.0 134.4h0M235.1 134.9h0M237.9 134.8h0M239.7 134.4h0M242.6 134.4h0M276.8 134.9h0M152.0 135.9h0M190.2 135.1h0M197.3 135.9h0M198.1 135.7h0M198.9 135.7h0M201.1 135.2h0M202.0 135.1h0M202.8 135.2h0M209.3 136.0h0M210.5 135.7h0M211.5 135.3h0M211.6 135.1h0M213.0 135.7h0M213.3 135.4h0M215.2 135.8h0M217.2 135.6h0M218.5 135.3h0M218.4 135.3h0M218.3 135.8h0M218.7 135.5h0M218.4 135.5h0M219.5 135.2h0M220.5 135.7h0M220.1 135.4h0M220.9 135.9h0M220.4 135.9h0M221.3 135.1h0M223.1 135.3h0M225.3 135.1h0M227.6 135.0h0M236.9 135.9h0M238.0 135.6h0M237.7 135.6h0M242.9 135.1h0M242.6 136.0h0M242.4 135.7h0M243.2 135.7h0M244.3 135.0h0M261.0 136.0h0M175.9 136.1h0M180.4 136.7h0M191.2 136.3h0M192.7 136.5h0M194.7 136.1h0M195.4 136.4h0M201.7 137.0h0M202.9 136.9h0M203.4 136.1h0M205.7 136.1h0M208.1 136.4h0M208.7 136.5h0M208.3 137.0h0M209.5 136.6h0M209.3 136.8h0M209.7 136.4h0M211.3 136.2h0M211.3 136.6h0M213.4 136.7h0M214.2 136.5h0M214.2 136.7h0M214.3 136.6h0M215.8 136.9h0M216.2 136.8h0M218.1 136.9h0M218.7 136.7h0M220.5 136.0h0M222.6 136.8h0M225.8 136.4h0M226.7 136.8h0M226.4 136.1h0M230.5 136.8h0M231.7 136.0h0M232.8 136.3h0M233.4 136.8h0M234.9 136.4h0M235.6 136.2h0M235.7 136.5h0M239.2 137.0h0M241.8 136.1h0M250.9 136.7h0M275.4 136.2h0M179.4 137.5h0M186.1 137.2h0M198.3 137.1h0M200.3 137.3h0M202.9 137.4h0M205.6 137.9h0M206.8 137.4h0M207.1 137.5h0M211.2 137.6h0M215.2 137.4h0M217.7 137.5h0M218.5 137.5h0M220.3 137.5h0M221.3 137.2h0M222.7 137.0h0M222.3 137.5h0M223.0 137.6h0M222.6 137.7h0M222.3 137.7h0M223.6 137.4h0M223.0 137.1h0M223.0 137.1h0M225.0 138.0h0M225.5 137.6h0M226.4 137.8h0M227.6 137.7h0M227.3 137.0h0M228.1 137.0h0M229.5 137.1h0M229.1 138.0h0M230.9 137.6h0M231.2 137.1h0M232.0 137.8h0M233.7 137.6h0M234.9 137.4h0M234.9 137.7h0M235.6 137.7h0M236.9 137.7h0M238.7 137.1h0M240.5 137.9h0M240.3 137.2h0M241.5 137.6h0M243.4 137.9h0M243.2 137.3h0M177.1 138.2h0M183.6 138.2h0M185.6 139.0h0M189.4 138.1h0M191.8 138.1h0M195.2 138.7h0M198.7 138.1h0M204.5 138.3h0M204.6 138.6h0M206.8 138.6h0M206.5 138.5h0M208.5 138.0h0M211.5 138.9h0M212.8 138.3h0M212.2 138.4h0M213.7 138.5h0M213.2 138.5h0M214.2 138.4h0M215.1 138.5h0M215.4 138.3h0M216.5 138.5h0M218.3 138.7h0M222.0 138.1h0M222.2 138.0h0M225.5 138.6h0M225.3 138.6h0M226.8 138.9h0M233.8 138.4h0M233.0 138.4h0M237.7 138.6h0M239.6 138.5h0M240.5 138.5h0M242.7 138.5h0M251.2 138.1h0M151.4 139.8h0M180.1 139.8h0M182.7 139.1h0M190.0 139.7h0M198.5 139.3h0M202.2 139.7h0M202.8 139.5h0M203.1 139.9h0M203.5 139.7h0M203.8 139.6h0M203.1 139.1h0M203.9 139.8h0M203.3 139.2h0M209.8 139.8h0M211.7 139.6h0M212.3 139.4h0M215.7 139.7h0M218.3 139.2h0M218.6 139.4h0M218.7 139.5h0M219.3 139.3h0M220.4 139.2h0M222.3 139.5h0M226.8 139.5h0M226.5 139.2h0M226.6 139.7h0M227.6 139.8h0M227.9 139.6h0M228.2 139.9h0M230.9 139.2h0M231.8 139.6h0M232.2 139.2h0M232.6 139.7h0M233.3 139.4h0M233.9 139.4h0M236.8 139.3h0M237.4 139.4h0M238.4 139.4h0M238.5 139.7h0M240.1 139.1h0M240.2 140.0h0M247.3 139.8h0M122.5 140.9h0M188.6 140.3h0M194.7 140.2h0M196.0 140.1h0M197.3 140.1h0M202.5 140.3h0M210.4 140.2h0M210.1 140.6h0M211.2 140.5h0M212.3 140.5h0M213.8 140.6h0M214.1 140.4h0M216.7 140.3h0M216.8 140.9h0M217.2 140.3h0M218.9 140.8h0M219.1 140.0h0M222.6 140.8h0M223.6 140.9h0M224.7 140.1h0M224.5 140.0h0M225.2 140.7h0M226.5 140.5h0M226.0 140.8h0M226.6 140.9h0M227.9 140.7h0M227.8 140.2h0M229.0 140.4h0M228.1 140.5h0M229.5 140.4h0M229.8 140.7h0M231.6 140.5h0M231.1 140.2h0M236.7 140.0h0M241.8 140.4h0M160.6 141.1h0M185.2 141.9h0M187.2 141.6h0M191.1 141.3h0M192.8 141.6h0M195.7 142.0h0M197.1 141.5h0M201.3 141.9h0M204.3 141.0h0M206.1 142.0h0M206.7 141.6h0M207.6 142.0h0M209.7 141.0h0M209.8 141.2h0M211.8 141.9h0M215.3 141.1h0M216.5 141.7h0M216.8 141.9h0M218.6 141.4h0M220.2 141.5h0M221.4 141.6h0M221.7 141.2h0M223.6 141.8h0M224.9 141.3h0M228.1 141.3h0M228.4 141.4h0M230.5 141.2h0M230.9 141.2h0M233.9 141.1h0M235.6 141.2h0M236.8 142.0h0M237.2 141.7h0M243.4 142.0h0M176.1 143.0h0M181.9 142.8h0M190.3 142.0h0M190.1 142.4h0M190.7 142.1h0M192.0 142.2h0M196.8 142.4h0M199.9 142.9h0M201.6 142.6h0M201.6 142.1h0M206.9 142.0h0M209.4 142.1h0M210.4 142.9h0M212.7 142.6h0M213.6 142.1h0M214.5 142.6h0M214.6 142.8h0M215.2 142.8h0M216.9 142.2h0M216.7 142.8h0M218.6 142.9h0M219.6 142.2h0M220.2 142.9h0M221.3 142.7h0M224.3 142.3h0M224.5 142.7h0M225.1 142.3h0M225.1 142.3h0M226.2 142.3h0M228.0 142.5h0M228.2 142.8h0M229.5 143.0h0M229.1 142.1h0M231.2 142.0h0M231.5 142.4h0M233.3 142.2h0M234.9 142.3h0M239.5 142.7h0M183.9 143.9h0M186.3 143.9h0M187.6 143.6h0M188.3 143.5h0M190.9 143.6h0M195.7 143.1h0M195.3 143.4h0M199.9 143.5h0M201.0 143.4h0M202.3 143.3h0M203.6 143.5h0M209.4 143.6h0M210.1 143.8h0M211.6 143.1h0M212.2 143.5h0M215.0 143.5h0M215.6 143.0h0M216.0 143.7h0M219.3 143.6h0M221.4 143.0h0M222.7 143.6h0M223.1 143.9h0M224.3 143.8h0M224.1 143.3h0M225.3 143.4h0M226.2 143.8h0M226.8 144.0h0M227.7 143.7h0M228.3 143.1h0M230.4 143.8h0M233.0 143.4h0M233.8 143.8h0M236.7 143.9h0M237.6 143.8h0M159.6 144.0h0M175.7 144.2h0M176.1 144.1h0M183.5 144.4h0M185.3 144.8h0M194.6 144.6h0M195.9 144.2h0M197.3 144.1h0M199.0 144.7h0M199.8 144.9h0M200.7 144.1h0M200.2 144.7h0M202.6 144.8h0M207.9 144.9h0M208.7 145.0h0M209.8 144.3h0M210.3 144.7h0M210.9 144.2h0M213.8 144.4h0M214.1 144.2h0M214.9 144.8h0M215.6 144.5h0M215.4 144.4h0M217.4 144.5h0M217.0 144.7h0M218.8 144.9h0M225.7 144.4h0M226.9 144.0h0M228.4 144.9h0M229.6 144.3h0M230.9 144.7h0M231.8 144.8h0M231.5 144.2h0M235.2 144.2h0M237.1 144.2h0M132.4 145.1h0M142.9 145.9h0M172.5 145.1h0M185.9 146.0h0M186.4 145.3h0M188.8 145.6h0M190.0 145.8h0M191.1 145.4h0M195.7 146.0h0M196.9 145.2h0M198.2 145.4h0M200.8 145.2h0M203.1 145.5h0M205.5 145.0h0M208.2 145.5h0M209.4 146.0h0M211.0 145.6h0M212.6 145.6h0M213.3 145.7h0M214.0 145.5h0M215.2 145.2h0M215.1 145.2h0M215.9 145.8h0M217.9 145.1h0M217.0 145.6h0M217.4 145.8h0M218.4 145.3h0M218.3 145.5h0M220.8 145.6h0M220.3 145.6h0M221.5 145.3h0M222.7 145.8h0M224.9 145.3h0M224.8 145.7h0M226.3 145.4h0M227.3 145.6h0M229.9 145.2h0M229.5 145.7h0M230.2 145.0h0M232.8 145.1h0M232.0 145.1h0M235.2 145.4h0M240.0 145.1h0M279.4 145.3h0M172.2 146.2h0M178.7 146.7h0M180.0 146.7h0M180.7 146.4h0M189.3 146.2h0M195.8 146.7h0M195.3 146.1h0M198.9 146.6h0M198.6 146.5h0M198.4 146.3h0M199.8 146.2h0M199.6 146.9h0M199.4 147.0h0M200.3 146.5h0M203.3 146.5h0M203.6 146.2h0M208.7 146.7h0M208.8 146.0h0M210.5 146.6h0M211.2 146.2h0M211.1 146.5h0M211.6 146.5h0M212.7 146.6h0M213.2 146.2h0M219.5 147.0h0M220.4 146.5h0M222.7 146.0h0M225.8 146.3h0M227.6 146.4h0M228.5 146.4h0M230.3 146.4h0M230.5 146.6h0M231.3 146.9h0M231.1 146.9h0M232.4 146.6h0M234.8 146.5h0M236.0 146.2h0M166.2 147.7h0M173.6 147.3h0M175.1 147.1h0M181.2 147.2h0M185.4 147.4h0M187.8 147.4h0M188.6 147.3h0M189.8 147.9h0M191.5 147.2h0M193.4 147.4h0M197.8 147.5h0M200.9 147.2h0M200.1 147.8h0M201.6 147.0h0M204.4 147.4h0M205.5 147.7h0M205.8 147.5h0M206.2 147.7h0M206.2 147.5h0M207.6 147.0h0M207.5 147.7h0M208.6 147.3h0M209.2 147.6h0M209.6 147.7h0M212.0 147.2h0M213.4 147.4h0M215.7 147.9h0M216.2 147.9h0M217.2 147.9h0M217.8 147.9h0M219.6 147.5h0M221.5 147.4h0M223.9 147.5h0M224.4 147.4h0M226.4 147.4h0M226.9 147.1h0M226.6 147.6h0M227.2 147.0h0M227.8 147.6h0M227.4 147.7h0M228.6 147.8h0M228.8 147.2h0M229.8 147.2h0M229.1 147.9h0M231.3 147.5h0M182.6 148.2h0M182.5 148.7h0M184.6 148.5h0M190.2 148.9h0M191.5 148.6h0M191.0 148.5h0M192.1 148.9h0M194.0 148.3h0M197.6 148.3h0M198.5 148.8h0M199.8 148.1h0M202.2 148.8h0M202.9 149.0h0M203.5 148.3h0M205.6 148.5h0M205.3 148.1h0M207.5 148.4h0M209.2 148.9h0M211.0 148.1h0M212.3 148.0h0M212.0 148.7h0M212.1 148.1h0M215.6 148.2h0M215.6 148.0h0M217.1 148.6h0M219.9 148.8h0M219.5 148.6h0M224.5 148.5h0M224.2 148.0h0M226.2 148.1h0M228.9 148.4h0M231.4 148.5h0M183.7 149.2h0M185.3 149.8h0M185.9 149.2h0M188.5 149.9h0M194.4 149.5h0M194.4 149.5h0M196.9 149.8h0M199.4 149.4h0M200.4 149.5h0M200.3 149.3h0M202.2 149.3h0M203.8 149.0h0M205.4 149.8h0M213.2 149.3h0M214.6 149.2h0M215.8 149.7h0M216.8 149.7h0M216.9 149.2h0M218.0 149.7h0M223.7 149.5h0M224.5 149.1h0M226.0 149.6h0M225.3 149.7h0M228.2 149.4h0M231.1 149.8h0M240.4 149.5h0M149.7 150.7h0M150.6 150.2h0M154.5 151.0h0M170.4 150.5h0M175.8 150.8h0M178.3 150.3h0M180.8 150.1h0M182.2 150.1h0M182.8 150.7h0M184.9 150.8h0M186.9 150.7h0M192.7 150.6h0M192.9 150.9h0M198.8 150.1h0M199.1 150.8h0M200.9 150.6h0M200.3 150.5h0M201.7 150.5h0M205.1 150.8h0M205.1 150.6h0M209.2 150.5h0M209.6 150.1h0M211.2 150.3h0M212.8 150.7h0M212.6 150.3h0M218.3 150.3h0M219.4 150.6h0M219.2 150.7h0M220.6 150.3h0M221.5 150.4h0M222.1 150.2h0M225.9 150.4h0M225.8 150.2h0M226.5 150.1h0M226.2 150.4h0M226.1 150.9h0M227.0 150.5h0M231.7 151.0h0M234.0 150.9h0M238.8 150.1h0M256.0 150.4h0M113.9 151.1h0M169.3 151.7h0M180.4 151.9h0M181.3 152.0h0M182.5 151.4h0M187.3 151.0h0M188.9 151.4h0M191.0 151.2h0M192.2 151.4h0M193.1 151.4h0M194.3 152.0h0M194.9 151.3h0M198.3 151.6h0M198.4 151.1h0M207.6 151.1h0M209.7 151.8h0M210.8 151.2h0M212.2 151.9h0M213.9 151.2h0M213.2 151.2h0M218.0 151.9h0M218.6 151.7h0M218.8 151.8h0M220.2 151.0h0M220.8 151.8h0M221.8 151.1h0M222.2 151.2h0M222.2 151.6h0M224.6 151.3h0M224.2 151.4h0M225.9 151.4h0M226.0 151.7h0M227.2 151.0h0M229.7 151.1h0M229.8 151.8h0M188.5 152.8h0M189.8 152.7h0M189.3 152.1h0M190.1 152.4h0M190.0 152.2h0M193.4 152.2h0M195.3 152.3h0M195.5 152.5h0M195.2 152.7h0M197.3 152.4h0M198.7 152.2h0M199.9 152.1h0M201.3 153.0h0M202.4 152.1h0M203.9 152.4h0M204.1 152.1h0M206.5 152.3h0M208.7 152.5h0M209.4 152.1h0M209.6 152.8h0M209.8 152.8h0M213.7 152.4h0M215.4 152.5h0M216.7 152.7h0M218.2 152.6h0M219.4 152.5h0M220.8 152.7h0M220.1 152.5h0M222.2 152.7h0M223.0 152.3h0M227.2 152.6h0M228.4 152.6h0M230.7 152.5h0M178.9 153.6h0M178.4 153.7h0M184.9 153.3h0M184.5 153.7h0M187.4 153.8h0M188.9 153.5h0M192.5 153.8h0M193.8 153.9h0M195.3 153.9h0M196.4 154.0h0M196.1 153.3h0M197.6 153.7h0M198.6 153.6h0M199.5 153.4h0M201.9 153.3h0M203.7 153.4h0M207.3 153.4h0M209.4 153.4h0M212.8 153.0h0M212.1 153.3h0M213.6 153.2h0M214.7 153.6h0M215.8 153.1h0M215.2 153.1h0M215.8 153.5h0M216.3 153.5h0M217.3 153.6h0M220.5 153.7h0M220.2 153.2h0M220.9 153.1h0M220.5 153.8h0M223.6 153.5h0M223.9 153.8h0M224.8 153.4h0M225.9 153.3h0M226.0 153.5h0M230.0 153.1h0M237.6 153.6h0M170.9 154.4h0M178.5 154.2h0M184.4 154.8h0M186.1 154.0h0M187.7 154.4h0M187.8 155.0h0M189.3 154.7h0M191.1 154.3h0M191.1 154.8h0M192.2 154.5h0M194.1 155.0h0M194.1 154.5h0M196.2 154.7h0M197.5 154.0h0M197.4 154.2h0M199.9 154.9h0M205.9 154.6h0M208.2 155.0h0M209.1 154.5h0M210.0 154.2h0M213.2 154.3h0M215.2 154.5h0M215.6 154.1h0M215.1 154.3h0M216.9 154.4h0M217.4 154.5h0M217.1 154.4h0M218.5 154.1h0M218.9 154.0h0M220.9 154.6h0M221.3 154.1h0M222.9 154.0h0M228.9 154.1h0M232.5 154.4h0M233.7 154.3h0M246.1 154.2h0M247.6 154.3h0M150.7 155.8h0M169.9 155.1h0M170.0 155.3h0M174.5 155.8h0M176.9 155.2h0M177.3 155.6h0M181.9 155.8h0M185.9 155.9h0M187.7 155.2h0M191.1 155.4h0M193.7 155.3h0M194.2 155.5h0M194.6 155.4h0M196.5 155.1h0M197.9 155.7h0M203.8 155.4h0M204.5 155.7h0M208.4 155.7h0M208.2 155.8h0M208.7 155.7h0M211.5 155.7h0M212.4 155.9h0M212.9 156.0h0M213.1 155.9h0M213.9 155.6h0M214.0 155.6h0M215.9 155.4h0M216.3 155.2h0M219.4 155.1h0M219.4 155.2h0M219.9 155.5h0M220.3 155.6h0M222.1 155.9h0M224.6 155.4h0M225.3 155.7h0M227.2 155.1h0M227.4 155.7h0M228.7 155.6h0M232.3 155.2h0M235.2 155.6h0M170.2 156.5h0M175.9 156.6h0M177.0 156.0h0M177.7 156.5h0M179.3 156.7h0M180.3 157.0h0M180.1 157.0h0M183.8 156.8h0M184.5 156.7h0M184.9 156.4h0M184.7 156.1h0M184.6 156.3h0M188.4 156.8h0M189.8 156.4h0M189.3 156.5h0M196.6 156.4h0M196.5 156.5h0M198.9 156.2h0M199.8 156.3h0M200.9 156.7h0M202.5 156.2h0M202.4 156.8h0M204.0 156.9h0M203.3 156.8h0M204.1 156.9h0M204.6 156.2h0M205.5 156.8h0M206.1 156.4h0M207.0 156.4h0M207.7 156.2h0M207.7 156.5h0M210.9 156.8h0M214.5 156.4h0M216.9 156.9h0M217.1 156.6h0M217.9 156.9h0M218.8 156.8h0M219.5 156.3h0M219.0 156.5h0M220.1 156.3h0M221.3 156.3h0M221.2 156.2h0M223.0 156.6h0M224.2 156.0h0M255.0 156.0h0M176.3 157.4h0M178.9 157.0h0M181.9 157.3h0M181.3 157.4h0M183.9 157.4h0M184.8 157.7h0M184.8 157.4h0M184.9 157.6h0M185.4 157.4h0M188.0 157.9h0M188.1 157.7h0M189.9 157.5h0M191.4 157.4h0M192.5 157.1h0M194.3 157.6h0M194.1 157.7h0M203.3 157.8h0M205.0 157.8h0M204.6 157.6h0M206.9 157.6h0M207.7 157.3h0M208.3 157.0h0M210.1 157.4h0M210.9 157.6h0M212.3 157.8h0M213.2 157.7h0M215.2 157.3h0M215.8 157.3h0M215.6 157.8h0M221.2 157.9h0M221.1 157.0h0M221.9 157.8h0M223.8 157.8h0M223.5 157.5h0M223.2 157.5h0M224.2 157.5h0M225.8 157.7h0M242.1 157.6h0M119.2 158.6h0M134.5 158.0h0M161.7 158.8h0M167.1 158.2h0M169.3 158.7h0M171.4 158.2h0M175.0 158.3h0M180.5 158.6h0M189.2 158.1h0M189.1 158.5h0M190.0 158.9h0M191.1 158.6h0M193.1 158.8h0M194.7 158.4h0M194.9 158.3h0M195.7 158.6h0M195.6 158.6h0M198.7 158.4h0M200.4 158.6h0M200.7 159.0h0M202.5 158.8h0M202.6 158.3h0M202.8 158.5h0M203.2 158.3h0M205.4 158.1h0M205.6 158.9h0M206.0 158.4h0M208.0 158.3h0M209.1 158.1h0M212.3 158.2h0M212.8 158.8h0M215.7 158.0h0M215.7 158.6h0M216.7 159.0h0M218.0 158.6h0M217.5 158.0h0M219.6 158.0h0M219.4 158.8h0M221.8 158.6h0M222.3 158.2h0M223.2 158.9h0M223.1 158.4h0M226.1 159.0h0M145.7 159.9h0M163.8 159.5h0M176.9 159.6h0M180.0 159.4h0M179.8 159.3h0M181.5 159.4h0M182.9 159.9h0M182.4 159.4h0M183.1 159.6h0M184.0 159.3h0M186.5 159.3h0M186.6 159.2h0M189.5 159.2h0M189.9 159.2h0M192.9 159.7h0M195.0 159.8h0M196.7 159.0h0M197.5 159.3h0M197.2 160.0h0M198.9 159.8h0M199.7 159.3h0M199.9 159.4h0M199.5 159.1h0M200.7 160.0h0M204.5 159.6h0M206.1 159.5h0M206.8 159.2h0M208.7 159.8h0M209.1 159.6h0M209.9 159.6h0M211.7 159.9h0M215.0 159.1h0M214.4 159.0h0M214.7 159.2h0M214.9 159.1h0M215.6 159.8h0M216.1 159.4h0M219.5 159.4h0M219.6 159.6h0M220.4 159.7h0M221.7 159.0h0M222.3 159.4h0M222.6 159.6h0M223.6 159.9h0M224.8 159.3h0M226.8 159.6h0M164.6 160.3h0M164.5 161.0h0M168.1 160.9h0M170.0 160.1h0M169.6 160.7h0M171.2 160.9h0M174.4 160.3h0M179.4 160.7h0M179.6 160.3h0M187.8 160.4h0M190.7 160.3h0M197.7 160.4h0M199.4 160.6h0M201.1 160.3h0M202.6 160.7h0M202.1 160.8h0M203.4 160.8h0M206.1 160.2h0M206.8 160.8h0M209.9 160.9h0M210.1 160.3h0M211.6 160.9h0M211.8 160.3h0M214.1 160.8h0M214.5 160.9h0M216.0 160.1h0M216.2 160.7h0M220.1 160.1h0M228.8 160.8h0M145.5 161.0h0M154.4 161.2h0M161.3 161.1h0M165.3 161.0h0M174.5 161.3h0M182.7 161.5h0M185.3 161.2h0M185.5 161.2h0M186.4 161.9h0M186.4 161.7h0M189.1 161.3h0M189.9 161.6h0M190.3 161.4h0M191.9 161.1h0M191.6 161.8h0M196.5 161.2h0M197.0 161.8h0M198.6 161.2h0M206.6 161.3h0M208.6 161.1h0M210.4 161.8h0M214.5 161.7h0M216.0 161.7h0M216.8 161.2h0M219.6 161.5h0M219.1 161.5h0M221.0 161.0h0M225.1 161.1h0M229.5 161.8h0M237.2 161.7h0M257.1 161.6h0M120.1 162.6h0M129.5 162.2h0M160.9 162.4h0M161.5 162.5h0M161.9 162.5h0M165.4 162.0h0M177.3 162.3h0M179.0 162.8h0M183.1 162.4h0M183.3 162.2h0M184.3 162.7h0M186.9 162.6h0M189.9 162.1h0M190.3 162.5h0M192.0 162.7h0M192.7 162.8h0M193.4 162.1h0M195.9 162.3h0M201.2 162.4h0M207.1 162.3h0M209.8 162.9h0M211.8 162.8h0M212.1 162.9h0M213.0 162.0h0M213.5 162.6h0M215.2 162.8h0M215.2 162.0h0M218.0 163.0h0M219.2 162.7h0M220.3 162.4h0M221.7 162.1h0M222.6 162.8h0M233.2 162.4h0M235.0 162.4h0M258.6 163.0h0M157.0 163.1h0M163.2 163.3h0M164.6 163.5h0M165.2 163.9h0M166.8 163.1h0M177.6 163.2h0M183.7 163.5h0M184.6 163.0h0M185.6 163.7h0M185.2 163.5h0M185.7 163.1h0M189.4 163.8h0M191.6 163.7h0M192.2 163.5h0M192.2 163.9h0M194.6 163.0h0M194.4 163.8h0M196.2 163.9h0M199.5 163.7h0M201.9 163.9h0M201.5 163.7h0M201.5 163.3h0M203.3 163.4h0M204.1 163.1h0M206.7 163.9h0M208.1 163.1h0M208.8 163.9h0M208.5 163.7h0M208.0 163.8h0M210.1 163.8h0M210.9 163.8h0M210.7 163.7h0M210.3 163.4h0M211.9 163.9h0M213.8 163.8h0M214.2 163.8h0M214.7 163.5h0M214.3 164.0h0M214.8 163.6h0M214.8 163.6h0M215.8 163.7h0M216.7 163.3h0M220.4 163.6h0M220.4 163.2h0M225.3 163.4h0M134.4 165.0h0M162.0 165.0h0M165.1 164.4h0M166.3 164.7h0M166.2 164.3h0M168.8 164.7h0M172.5 164.8h0M172.8 164.3h0M174.8 164.4h0M177.5 164.6h0M180.4 164.8h0M182.9 164.7h0M185.1 164.8h0M186.2 164.7h0M188.0 164.8h0M188.0 164.6h0M188.1 164.1h0M194.4 164.8h0M196.4 165.0h0M197.4 165.0h0M198.4 164.3h0M198.9 164.2h0M199.1 164.6h0M201.5 164.3h0M202.3 164.1h0M203.2 164.6h0M204.7 164.8h0M204.4 164.7h0M205.7 164.5h0M208.0 164.5h0M209.4 164.6h0M210.1 164.9h0M214.7 164.3h0M214.6 164.1h0M218.6 164.6h0M220.6 164.8h0M155.3 166.0h0M156.8 165.2h0M160.7 165.1h0M162.5 165.5h0M165.2 165.2h0M165.1 165.8h0M179.8 165.9h0M181.5 165.3h0M185.2 165.7h0M189.1 165.7h0M191.2 165.2h0M192.1 165.1h0M192.7 165.5h0M196.8 165.2h0M198.6 165.2h0M198.0 165.2h0M199.5 165.3h0M201.3 165.2h0M202.7 165.6h0M203.5 165.0h0M206.9 165.1h0M206.5 165.8h0M209.7 165.1h0M209.8 165.8h0M211.6 165.2h0M212.5 165.7h0M213.8 165.9h0M215.7 165.6h0M216.9 165.4h0M218.6 165.6h0M218.5 165.4h0M224.8 165.5h0M227.7 165.2h0M228.3 165.8h0M154.9 166.1h0M160.1 166.3h0M168.3 166.4h0M175.8 166.3h0M179.4 166.6h0M180.3 166.6h0M181.1 166.9h0M182.4 166.6h0M183.4 166.2h0M184.8 166.5h0M185.6 166.2h0M185.1 166.8h0M186.1 166.7h0M186.6 166.7h0M187.3 166.4h0M189.0 166.9h0M190.9 166.8h0M190.4 166.0h0M191.7 166.7h0M191.8 166.9h0M194.0 166.2h0M194.3 166.1h0M195.8 167.0h0M196.9 166.9h0M196.2 166.5h0M198.0 166.8h0M198.8 166.3h0M199.5 166.9h0M199.3 166.0h0M199.5 167.0h0M200.7 166.3h0M201.4 166.5h0M202.6 166.0h0M204.2 166.8h0M208.8 166.5h0M209.0 166.8h0M209.1 166.2h0M209.1 166.2h0M209.7 167.0h0M212.8 166.3h0M212.3 166.6h0M213.1 166.3h0M213.7 166.8h0M215.0 166.6h0M215.3 166.0h0M216.8 166.4h0M217.0 166.1h0M217.9 166.7h0M218.8 166.4h0M221.0 166.0h0M220.2 166.5h0M223.4 166.9h0M227.2 166.7h0M158.2 167.6h0M161.3 168.0h0M165.5 167.5h0M166.8 167.6h0M167.7 167.9h0M170.9 167.5h0M171.2 167.9h0M177.4 167.8h0M178.3 167.4h0M181.1 167.3h0M181.7 167.7h0M182.2 167.6h0M183.7 167.1h0M184.4 167.5h0M184.6 167.9h0M187.2 167.9h0M188.3 167.9h0M189.1 167.3h0M189.4 167.0h0M193.7 167.5h0M195.6 167.9h0M203.7 168.0h0M203.0 167.5h0M203.1 167.8h0M204.2 168.0h0M205.1 167.0h0M205.4 167.4h0M206.3 167.7h0M208.0 167.7h0M209.2 167.9h0M210.7 168.0h0M214.7 167.7h0M217.8 167.5h0M220.5 168.0h0M227.2 167.8h0M230.0 167.5h0M241.7 167.9h0M143.5 168.6h0M163.0 169.0h0M166.5 168.2h0M172.5 168.1h0M175.5 168.5h0M179.6 168.1h0M180.0 168.7h0M180.8 168.9h0M185.1 168.1h0M188.1 168.9h0M191.9 168.5h0M194.0 169.0h0M196.2 168.3h0M198.0 168.2h0M198.4 168.5h0M201.2 168.4h0M201.5 168.5h0M202.0 168.9h0M203.4 168.7h0M205.4 168.3h0M206.7 168.3h0M208.6 168.4h0M209.7 168.4h0M215.1 168.4h0M218.4 168.6h0M229.7 168.8h0M148.6 169.1h0M160.2 169.3h0M162.0 169.8h0M165.5 169.2h0M165.2 169.5h0M166.7 169.1h0M167.1 169.2h0M170.5 169.4h0M171.3 169.1h0M176.8 169.9h0M176.2 169.2h0M176.9 169.1h0M178.8 169.1h0M179.6 169.3h0M180.0 169.7h0M181.7 169.1h0M182.7 169.3h0M182.5 169.3h0M186.1 169.9h0M187.2 169.8h0M188.1 169.1h0M189.6 169.9h0M190.9 169.3h0M191.2 170.0h0M192.8 170.0h0M195.4 169.7h0M195.7 169.6h0M196.9 169.5h0M196.3 169.1h0M197.1 169.9h0M199.7 169.1h0M199.8 169.2h0M200.6 169.1h0M200.5 169.8h0M204.0 169.1h0M203.2 169.3h0M204.9 169.6h0M205.0 169.6h0M204.7 169.1h0M206.7 169.3h0M206.1 169.0h0M208.0 169.1h0M208.1 169.8h0M209.5 169.4h0M210.5 169.4h0M212.5 169.0h0M212.2 169.1h0M215.9 169.2h0M216.4 169.1h0M219.8 169.6h0M221.7 169.5h0M232.8 169.8h0M146.4 170.4h0M153.5 170.7h0M161.3 170.8h0M163.4 170.1h0M164.3 170.8h0M166.1 170.6h0M166.8 170.2h0M170.2 170.5h0M176.3 170.7h0M180.6 170.3h0M181.6 170.3h0M183.3 171.0h0M183.2 170.1h0M188.8 170.0h0M188.4 170.7h0M189.4 170.5h0M196.0 170.2h0M195.4 170.0h0M198.3 170.3h0M200.2 170.1h0M200.1 171.0h0M201.2 170.3h0M202.3 170.5h0M202.7 170.2h0M202.2 171.0h0M204.9 170.9h0M205.6 171.0h0M206.2 170.3h0M207.9 170.4h0M208.3 170.5h0M208.9 171.0h0M208.9 170.8h0M208.3 170.4h0M212.4 170.2h0M214.6 170.6h0M216.9 170.3h0M217.9 170.8h0M218.3 170.7h0M155.0 171.9h0M156.4 171.8h0M163.7 171.2h0M171.0 171.1h0M177.4 171.5h0M177.3 171.2h0M181.8 171.1h0M181.9 171.4h0M181.2 171.2h0M183.5 171.8h0M191.0 171.5h0M190.5 171.5h0M191.7 171.7h0M193.1 171.9h0M194.5 171.3h0M195.9 171.7h0M195.1 171.3h0M196.1 171.9h0M199.2 171.8h0M201.0 171.0h0M203.0 171.2h0M203.2 171.3h0M204.1 171.6h0M205.5 171.5h0M205.7 171.8h0M206.3 171.4h0M208.5 171.3h0M209.8 171.9h0M209.7 171.7h0M212.8 171.1h0M212.9 171.9h0M213.8 171.9h0M213.8 171.3h0M218.6 171.2h0M222.2 171.6h0M159.6 172.5h0M164.5 172.6h0M166.9 172.6h0M166.8 172.2h0M168.2 172.0h0M172.2 172.6h0M174.4 172.6h0M175.9 172.5h0M176.0 172.3h0M176.2 172.6h0M178.9 172.8h0M190.2 172.3h0M190.5 173.0h0M190.4 172.6h0M196.0 172.7h0M197.4 172.7h0M198.5 172.9h0M199.1 173.0h0M200.3 172.6h0M200.6 172.4h0M200.1 172.5h0M201.9 172.7h0M201.5 172.0h0M201.6 172.7h0M201.8 172.6h0M201.1 172.3h0M205.5 173.0h0M205.3 172.4h0M206.3 172.0h0M206.3 172.9h0M207.3 172.5h0M211.3 172.6h0M214.6 172.1h0M215.7 172.9h0M215.7 172.1h0M217.6 172.2h0M224.2 172.4h0M224.2 172.3h0M148.3 173.0h0M151.8 173.8h0M158.5 173.7h0M159.4 173.7h0M165.3 173.4h0M173.8 173.7h0M175.9 173.2h0M177.4 173.4h0M180.5 173.8h0M182.8 174.0h0M184.0 173.2h0M185.2 173.5h0M185.7 173.9h0M186.5 173.3h0M187.5 173.3h0M188.6 173.2h0M190.0 173.5h0M190.9 173.6h0M191.7 173.3h0M193.3 173.0h0M194.1 173.2h0M194.7 173.3h0M194.4 173.7h0M195.8 173.7h0M195.3 173.6h0M196.5 173.4h0M196.4 173.8h0M196.9 173.7h0M197.3 173.7h0M199.7 173.0h0M199.0 173.6h0M200.2 173.0h0M201.7 173.1h0M201.7 173.7h0M201.1 173.4h0M201.3 173.2h0M202.6 173.5h0M204.2 173.7h0M204.0 173.2h0M205.3 173.3h0M205.8 173.5h0M205.1 173.4h0M207.3 173.3h0M210.2 173.9h0M210.3 173.3h0M210.3 173.2h0M213.8 173.6h0M214.1 173.1h0M216.9 173.8h0M219.2 173.4h0M144.4 174.8h0M157.9 174.5h0M161.8 174.5h0M161.9 175.0h0M162.8 174.0h0M163.6 174.0h0M164.2 175.0h0M165.6 174.3h0M166.6 174.7h0M168.9 174.6h0M172.3 174.7h0M173.9 174.9h0M174.1 174.2h0M174.2 174.1h0M175.1 174.8h0M179.5 174.2h0M179.5 174.6h0M180.3 174.3h0M183.6 174.8h0M184.9 174.9h0M184.9 174.4h0M184.1 174.3h0M185.3 174.8h0M190.5 174.2h0M192.5 174.0h0M193.1 175.0h0M196.6 174.9h0M196.2 174.8h0M197.9 174.6h0M197.9 174.7h0M198.1 174.7h0M204.8 174.3h0M205.1 174.2h0M206.9 174.1h0M206.6 174.3h0M206.7 174.9h0M206.5 174.1h0M207.3 174.5h0M208.6 174.6h0M210.3 175.0h0M225.1 174.9h0M230.5 174.6h0M148.0 175.9h0M150.5 175.7h0M152.4 175.8h0M163.9 175.1h0M163.2 175.6h0M163.8 175.6h0M167.4 175.4h0M168.3 175.9h0M168.2 175.5h0M168.8 175.5h0M168.7 175.4h0M170.2 175.2h0M178.5 175.6h0M178.0 175.7h0M179.4 175.7h0M180.6 175.4h0M185.8 175.1h0M186.4 175.3h0M186.2 175.6h0M187.2 175.0h0M190.9 175.9h0M192.0 175.8h0M195.2 175.4h0M195.6 175.1h0M196.4 175.1h0M198.1 175.6h0M198.3 175.7h0M199.6 175.6h0M201.3 175.7h0M201.9 175.0h0M201.6 175.4h0M204.2 175.2h0M207.4 175.3h0M211.3 175.8h0M212.8 175.7h0M213.3 175.5h0M213.5 175.5h0M215.6 175.7h0M216.1 175.6h0M218.3 175.8h0M224.8 175.9h0M153.5 176.6h0M155.1 176.2h0M156.8 176.7h0M161.4 176.5h0M163.6 176.3h0M163.3 176.1h0M165.8 176.6h0M166.5 176.4h0M168.0 176.6h0M171.9 176.5h0M176.8 176.2h0M177.1 176.9h0M177.1 176.8h0M179.0 176.7h0M180.3 176.5h0M181.8 176.1h0M184.0 176.1h0M185.8 176.5h0M186.8 177.0h0M188.2 176.3h0M192.9 176.0h0M192.2 176.8h0M194.6 176.2h0M195.5 176.1h0M196.3 176.1h0M197.8 176.9h0M198.6 176.9h0M198.5 176.8h0M200.3 176.6h0M200.2 176.9h0M200.6 176.8h0M203.5 176.4h0M205.0 176.3h0M204.2 176.5h0M204.6 176.7h0M204.9 176.4h0M207.0 176.3h0M207.9 176.8h0M209.5 177.0h0M209.4 177.0h0M210.2 176.0h0M211.7 176.3h0M212.5 176.2h0M214.9 176.7h0M147.3 177.2h0M148.4 177.7h0M160.6 177.3h0M165.6 177.5h0M167.7 177.9h0M171.3 178.0h0M172.6 177.3h0M173.4 178.0h0M174.4 177.2h0M174.7 177.9h0M175.9 177.1h0M175.8 177.9h0M176.4 177.4h0M176.9 177.4h0M176.7 177.4h0M177.3 177.4h0M180.7 177.1h0M183.4 177.2h0M187.5 177.9h0M192.7 177.6h0M192.6 177.3h0M196.2 177.2h0M197.6 177.8h0M199.5 177.2h0M200.6 177.7h0M200.5 177.3h0M201.1 177.8h0M201.3 177.9h0M202.3 177.6h0M203.8 177.3h0M205.9 177.9h0M206.1 177.3h0M210.2 177.7h0M211.8 177.5h0M213.0 177.8h0M216.3 177.3h0M237.1 177.7h0M137.1 178.6h0M147.2 179.0h0M152.4 178.4h0M153.8 178.3h0M156.8 178.9h0M158.3 178.1h0M161.5 178.4h0M163.0 178.3h0M163.1 178.3h0M168.5 178.4h0M170.9 178.7h0M172.2 178.7h0M172.8 178.7h0M173.6 178.5h0M173.3 178.7h0M174.7 178.5h0M177.6 178.1h0M177.3 178.6h0M177.8 178.9h0M177.9 178.0h0M181.0 178.7h0M183.4 178.8h0M185.4 178.8h0M188.6 178.1h0M189.5 178.6h0M190.0 178.9h0M190.2 179.0h0M192.0 178.7h0M198.6 178.9h0M199.4 178.5h0M202.9 178.7h0M204.7 178.1h0M206.4 178.6h0M207.0 178.5h0M206.8 178.9h0M207.7 178.6h0M208.8 179.0h0M212.8 178.3h0M213.7 178.9h0M148.6 179.6h0M151.0 179.6h0M153.9 179.6h0M153.0 179.9h0M153.4 179.9h0M156.5 179.5h0M159.2 179.1h0M160.3 179.2h0M163.2 179.6h0M169.5 179.4h0M172.1 179.6h0M172.4 179.6h0M174.5 179.3h0M177.8 179.2h0M178.3 179.1h0M178.4 179.9h0M178.5 179.9h0M179.3 179.2h0M179.6 179.9h0M181.0 179.5h0M181.3 179.0h0M182.8 179.6h0M187.7 179.5h0M191.3 179.2h0M192.3 179.1h0M193.1 179.7h0M194.5 179.5h0M194.5 179.3h0M194.8 179.6h0M195.6 179.8h0M197.4 179.5h0M198.1 179.6h0M202.4 179.4h0M203.8 179.5h0M203.0 179.5h0M211.4 179.0h0M214.6 179.5h0M216.9 179.4h0M218.6 179.3h0M135.2 180.9h0M154.7 180.3h0M158.2 180.2h0M159.2 180.8h0M160.7 180.9h0M161.1 180.5h0M162.8 180.1h0M163.1 180.6h0M163.9 180.5h0M163.3 180.1h0M164.0 180.2h0M165.6 180.3h0M167.1 180.0h0M169.8 180.6h0M170.4 180.4h0M171.1 180.7h0M171.6 180.6h0M172.5 180.6h0M174.3 180.3h0M174.1 180.3h0M175.9 180.8h0M175.4 180.7h0M177.8 180.6h0M177.1 180.0h0M178.8 180.4h0M178.7 180.0h0M178.1 180.4h0M178.6 180.1h0M180.4 180.2h0M181.4 180.0h0M182.6 180.3h0M184.0 180.0h0M185.0 180.1h0M184.3 180.3h0M186.0 181.0h0M188.2 180.8h0M191.8 180.4h0M193.8 180.3h0M193.8 180.6h0M196.8 180.1h0M196.3 180.9h0M203.0 180.6h0M205.0 180.8h0M204.6 180.2h0M206.8 180.1h0M206.4 180.7h0M208.7 180.8h0M209.8 180.6h0M210.3 180.7h0M210.4 180.6h0M212.0 180.2h0M211.8 180.8h0M211.3 180.9h0M212.4 180.2h0M214.3 180.2h0M218.2 180.8h0M146.3 181.8h0M151.7 181.6h0M153.6 181.8h0M160.4 181.1h0M168.8 181.2h0M168.3 182.0h0M171.2 181.2h0M172.6 181.9h0M172.2 181.0h0M174.5 181.2h0M178.4 181.7h0M179.6 181.2h0M179.9 181.5h0M182.7 181.3h0M183.6 181.1h0M184.0 181.6h0M187.7 181.8h0M187.3 181.9h0M192.6 181.4h0M192.2 181.8h0M193.8 181.1h0M196.3 181.6h0M196.3 181.6h0M199.4 181.3h0M202.8 181.8h0M202.4 181.0h0M208.4 181.5h0M209.2 181.3h0M210.6 181.4h0M215.2 181.1h0M228.6 181.8h0M136.3 182.3h0M136.6 182.9h0M148.5 182.2h0M149.3 182.3h0M150.8 182.5h0M153.0 182.5h0M158.4 182.9h0M160.9 182.2h0M160.6 182.2h0M161.8 183.0h0M167.5 182.6h0M168.2 182.7h0M168.6 182.7h0M174.8 182.6h0M185.0 182.0h0M185.7 182.2h0M187.2 182.1h0M188.1 182.2h0M191.5 183.0h0M191.3 182.3h0M193.2 182.9h0M193.3 182.0h0M194.2 182.1h0M196.8 182.5h0M200.1 182.7h0M201.7 182.1h0M203.7 182.5h0M204.7 182.5h0M204.5 182.9h0M209.0 182.4h0M208.8 182.7h0M210.9 182.7h0M215.7 182.4h0M222.4 182.2h0M114.1 183.2h0M141.0 183.5h0M145.2 183.5h0M149.4 183.9h0M150.8 183.7h0M153.5 183.0h0M154.3 183.4h0M155.9 183.6h0M160.6 183.4h0M164.2 184.0h0M165.8 183.3h0M166.9 183.0h0M168.9 183.5h0M170.3 183.4h0M172.3 183.3h0M173.8 183.3h0M176.5 183.8h0M177.2 183.5h0M178.1 183.4h0M184.8 183.2h0M187.7 183.7h0M187.9 183.7h0M187.2 183.9h0M187.7 183.4h0M188.7 183.5h0M188.1 183.9h0M189.2 183.3h0M192.0 183.4h0M192.3 183.9h0M192.7 183.1h0M194.0 183.1h0M194.6 183.5h0M195.4 183.6h0M197.9 183.4h0M197.7 183.2h0M198.0 183.8h0M199.1 183.2h0M199.9 183.7h0M202.3 183.5h0M202.9 183.4h0M203.4 183.1h0M205.6 184.0h0M206.0 183.5h0M206.8 183.7h0M206.4 183.5h0M207.7 183.6h0M208.9 183.2h0M144.6 184.6h0M144.5 184.1h0M152.3 184.1h0M153.7 184.0h0M156.5 184.4h0M161.5 184.3h0M162.7 184.4h0M163.3 184.9h0M163.8 184.2h0M165.9 184.3h0M169.1 184.4h0M170.7 184.8h0M170.5 184.3h0M172.5 184.9h0M174.6 184.5h0M174.2 184.4h0M176.3 184.6h0M176.2 184.2h0M177.3 185.0h0M178.6 184.6h0M178.4 184.1h0M179.1 184.2h0M179.4 184.7h0M181.3 184.9h0M181.1 184.7h0M183.8 184.0h0M183.0 184.5h0M183.4 184.0h0M187.5 184.7h0M188.5 184.3h0M190.5 184.7h0M191.2 184.6h0M193.8 184.6h0M194.5 184.9h0M195.3 184.8h0M195.9 184.1h0M196.1 184.4h0M197.6 184.8h0M198.6 184.1h0M198.1 184.5h0M199.1 184.6h0M201.6 184.4h0M204.5 184.3h0M205.7 184.2h0M209.4 184.4h0M210.5 185.0h0M211.3 185.0h0M211.9 184.8h0M213.4 184.4h0M140.8 185.9h0M141.4 185.0h0M147.4 185.0h0M149.7 185.5h0M151.4 185.5h0M156.9 185.3h0M158.6 185.7h0M161.9 185.7h0M161.1 185.5h0M162.1 185.3h0M163.1 185.6h0M164.8 185.9h0M165.3 185.8h0M169.3 185.9h0M169.0 185.9h0M171.9 185.0h0M172.4 185.2h0M173.2 185.8h0M174.6 185.8h0M176.5 185.5h0M178.8 185.8h0M180.3 185.9h0M183.4 185.4h0M183.1 185.1h0M183.8 185.0h0M184.4 185.0h0M188.0 185.4h0M192.1 185.1h0M194.4 185.2h0M195.0 186.0h0M196.1 185.9h0M199.3 185.1h0M200.6 185.1h0M203.8 185.2h0M203.9 185.6h0M203.6 185.6h0M206.1 185.3h0M208.0 185.8h0M208.2 185.6h0M212.0 185.0h0M213.8 185.1h0M220.6 185.5h0M221.4 185.5h0M230.9 185.3h0M89.8 186.9h0M144.6 186.1h0M144.1 187.0h0M148.8 187.0h0M162.0 186.7h0M165.3 186.7h0M176.8 186.6h0M178.1 186.5h0M179.3 186.9h0M183.7 186.6h0M184.8 186.7h0M184.2 186.2h0M191.4 186.1h0M194.9 186.5h0M197.0 186.1h0M198.9 186.5h0M198.9 186.1h0M199.7 186.1h0M203.4 186.2h0M207.5 186.7h0M209.3 186.0h0M212.1 186.4h0M220.9 186.3h0M221.4 186.3h0M136.3 187.2h0M140.7 187.7h0M141.4 187.7h0M142.4 187.6h0M148.4 187.4h0M151.9 187.9h0M152.1 187.9h0M153.5 187.1h0M159.7 187.8h0M160.3 187.4h0M161.8 187.9h0M162.3 187.8h0M164.0 187.9h0M165.5 187.9h0M166.2 187.5h0M168.5 187.6h0M168.4 187.1h0M169.4 187.5h0M170.9 187.4h0M171.4 187.8h0M171.6 187.4h0M175.7 187.4h0M176.2 187.5h0M177.6 187.3h0M180.5 187.8h0M182.4 187.0h0M190.1 187.6h0M193.6 187.8h0M193.6 187.8h0M194.0 187.5h0M193.8 187.7h0M195.8 187.8h0M195.8 187.9h0M196.9 187.1h0M196.1 187.2h0M200.8 187.8h0M204.5 187.2h0M205.2 187.1h0M208.8 187.8h0M208.7 187.3h0M211.2 187.2h0M211.3 187.5h0M222.1 187.8h0M120.3 188.1h0M131.6 188.1h0M136.2 188.7h0M146.4 188.3h0M153.9 188.3h0M156.6 188.1h0M158.0 188.4h0M158.9 188.1h0M161.4 188.5h0M163.5 188.7h0M163.1 188.8h0M164.3 188.6h0M166.5 188.4h0M167.9 188.9h0M168.9 188.6h0M171.4 188.3h0M174.7 188.4h0M178.1 188.7h0M180.4 188.2h0M181.5 188.4h0M184.6 188.7h0M185.6 188.0h0M187.9 188.9h0M190.7 188.0h0M190.5 188.0h0M191.9 188.1h0M193.2 188.8h0M196.0 188.1h0M196.9 188.5h0M197.9 188.6h0M198.7 188.3h0M200.5 189.0h0M200.1 188.3h0M202.8 188.5h0M203.8 188.3h0M206.0 188.1h0M207.5 188.9h0M208.5 188.3h0M210.9 188.0h0M213.7 188.7h0M220.6 188.1h0M223.2 188.9h0M227.7 188.6h0M238.2 188.1h0M138.8 189.3h0M138.1 189.8h0M141.7 189.2h0M148.1 189.0h0M150.7 189.1h0M150.7 189.9h0M153.8 189.3h0M155.6 189.1h0M157.3 189.3h0M160.0 189.3h0M159.7 189.3h0M163.1 189.1h0M165.8 190.0h0M167.3 189.7h0M170.5 189.1h0M171.3 189.4h0M173.0 189.8h0M172.8 189.3h0M172.1 189.3h0M175.6 189.7h0M179.5 189.2h0M182.4 189.3h0M184.4 189.8h0M185.4 189.1h0M186.0 189.8h0M186.3 189.0h0M186.5 189.4h0M188.8 189.8h0M192.9 189.6h0M195.0 189.3h0M197.0 189.0h0M196.8 189.9h0M198.7 189.9h0M198.8 189.7h0M200.0 189.3h0M200.9 189.4h0M200.9 189.7h0M201.6 189.1h0M201.3 189.0h0M202.9 189.9h0M203.6 189.2h0M205.2 189.2h0M211.7 189.8h0M215.7 189.2h0M136.0 190.3h0M137.7 191.0h0M143.9 190.4h0M153.9 190.2h0M154.4 190.7h0M155.9 190.6h0M159.4 190.7h0M159.6 190.8h0M161.6 190.9h0M163.7 190.9h0M168.5 190.5h0M171.7 190.2h0M172.4 190.1h0M180.7 190.9h0M181.3 190.1h0M181.9 190.8h0M184.2 190.2h0M185.0 190.2h0M186.3 190.4h0M186.9 190.2h0M188.8 190.2h0M189.8 190.4h0M190.8 190.0h0M191.3 190.4h0M191.6 190.3h0M191.3 190.9h0M192.0 190.6h0M192.0 190.2h0M192.7 190.5h0M195.9 190.8h0M198.6 190.4h0M199.3 190.6h0M201.1 190.7h0M203.0 190.2h0M205.3 190.3h0M205.1 190.6h0M207.4 190.3h0M140.4 191.3h0M145.2 191.4h0M148.9 191.3h0M148.1 191.8h0M148.7 191.8h0M150.9 191.1h0M152.9 191.5h0M154.7 191.8h0M158.8 191.4h0M159.7 191.0h0M160.2 191.4h0M161.4 191.7h0M163.9 191.8h0M164.3 191.8h0M164.6 191.7h0M168.1 191.0h0M168.8 191.6h0M170.5 191.8h0M171.7 191.9h0M171.1 191.9h0M176.6 191.7h0M177.2 191.9h0M179.6 191.9h0M181.2 191.5h0M185.4 191.0h0M187.3 191.0h0M188.4 191.7h0M188.4 191.7h0M190.0 191.5h0M190.6 191.5h0M191.4 191.2h0M196.4 191.1h0M196.1 191.2h0M197.7 191.0h0M199.0 191.3h0M199.7 191.1h0M200.1 191.7h0M200.7 191.5h0M201.1 191.6h0M204.8 191.2h0M208.3 191.1h0M122.8 192.2h0M126.7 192.7h0M132.9 192.1h0M139.4 192.1h0M139.9 192.2h0M140.3 192.8h0M142.4 192.8h0M145.8 192.2h0M146.2 192.1h0M146.3 192.8h0M148.2 192.7h0M149.6 192.7h0M152.1 192.2h0M158.9 192.2h0M162.1 192.0h0M163.4 192.5h0M164.4 192.1h0M165.1 193.0h0M165.7 192.1h0M167.9 192.7h0M169.3 192.4h0M169.2 192.6h0M171.0 192.7h0M174.2 192.5h0M174.9 192.8h0M174.1 192.8h0M177.1 192.5h0M178.9 192.8h0M183.2 192.6h0M186.4 192.8h0M187.9 193.0h0M187.6 192.9h0M194.0 192.4h0M196.4 192.5h0M197.2 192.7h0M201.7 192.1h0M203.0 192.5h0M204.1 192.1h0M225.3 192.5h0M133.7 193.3h0M138.1 193.6h0M141.1 193.4h0M142.8 193.6h0M146.4 193.4h0M147.5 193.7h0M148.0 193.3h0M150.3 193.3h0M156.0 193.9h0M156.5 194.0h0M162.6 193.5h0M167.9 193.8h0M172.2 193.8h0M173.7 193.1h0M173.2 193.0h0M174.2 193.3h0M176.5 194.0h0M177.9 194.0h0M180.0 193.9h0M180.4 193.6h0M182.8 193.4h0M182.1 193.2h0M182.0 193.8h0M182.7 194.0h0M187.4 193.7h0M188.3 193.3h0M188.4 193.8h0M189.9 193.8h0M193.2 193.8h0M195.7 193.7h0M195.1 193.1h0M198.2 193.5h0M198.5 194.0h0M199.0 193.9h0M200.3 193.6h0M202.3 193.2h0M203.0 193.4h0M203.2 193.9h0M205.6 193.2h0M206.1 193.4h0M208.5 193.6h0M213.7 193.6h0M216.1 193.9h0M217.9 194.0h0M115.6 194.3h0M128.7 194.5h0M130.0 194.4h0M150.1 194.6h0M150.4 194.9h0M160.1 194.1h0M162.0 194.9h0M165.5 194.2h0M165.9 194.6h0M170.0 194.3h0M171.3 195.0h0M174.8 194.5h0M176.5 194.4h0M178.8 194.8h0M178.6 194.6h0M185.8 194.1h0M189.1 195.0h0M190.5 194.9h0M193.7 194.6h0M196.6 194.1h0M197.8 194.2h0M198.8 194.9h0M200.2 194.4h0M204.8 194.6h0M206.3 194.9h0M210.1 194.4h0M214.4 194.2h0M215.9 194.9h0M216.2 194.8h0M225.3 194.4h0M129.1 195.8h0M133.6 195.7h0M135.8 195.4h0M139.1 195.7h0M141.5 196.0h0M144.7 195.2h0M146.7 195.7h0M147.8 195.7h0M150.0 195.0h0M156.2 195.4h0M160.5 195.2h0M163.4 195.9h0M164.5 195.3h0M165.4 195.6h0M165.8 195.4h0M168.0 195.2h0M169.8 195.2h0M173.6 195.7h0M174.9 195.9h0M177.1 195.1h0M178.2 195.1h0M178.0 195.8h0M183.9 195.7h0M183.7 195.8h0M186.6 195.7h0M187.4 195.8h0M190.3 195.1h0M191.0 195.6h0M191.9 195.5h0M193.8 195.3h0M194.3 195.4h0M194.9 195.2h0M195.9 195.4h0M195.2 195.2h0M196.9 195.0h0M203.4 195.5h0M203.3 195.8h0M205.7 195.7h0M205.4 195.9h0M218.6 195.5h0M129.8 196.8h0M132.5 196.9h0M134.2 196.9h0M135.4 196.8h0M135.6 196.7h0M146.9 196.4h0M150.4 196.1h0M151.2 196.7h0M159.3 196.5h0M160.8 196.8h0M167.8 196.3h0M167.5 196.9h0M172.8 196.8h0M174.7 196.2h0M174.5 196.2h0M178.3 196.8h0M179.8 196.1h0M179.5 196.6h0M184.8 196.4h0M190.0 196.3h0M190.0 196.1h0M191.1 196.9h0M193.0 196.5h0M195.9 196.5h0M197.1 196.9h0M198.5 197.0h0M198.7 196.6h0M202.1 196.1h0M209.7 196.6h0M128.1 197.9h0M129.3 197.5h0M137.2 197.1h0M139.4 197.8h0M141.1 197.7h0M141.9 197.3h0M145.6 197.0h0M148.3 197.5h0M150.1 197.3h0M151.0 197.8h0M163.2 197.3h0M163.7 197.6h0M165.9 197.1h0M166.6 197.8h0M168.0 197.8h0M168.4 197.6h0M169.7 197.8h0M174.0 197.7h0M177.9 197.2h0M179.7 197.6h0M181.3 197.1h0M182.7 197.5h0M183.3 197.1h0M184.9 197.3h0M187.9 197.5h0M189.6 197.9h0M189.4 197.5h0M190.9 197.7h0M192.7 197.1h0M193.8 197.4h0M195.4 197.1h0M196.3 197.8h0M201.0 197.0h0M201.2 197.2h0M206.0 197.9h0M218.8 197.7h0M124.2 198.5h0M135.7 198.8h0M136.0 199.0h0M137.1 198.7h0M140.9 198.5h0M142.3 198.3h0M142.0 198.9h0M143.7 198.4h0M148.1 198.3h0M149.5 198.1h0M154.8 198.4h0M160.7 198.1h0M162.6 198.6h0M164.8 198.8h0M168.0 198.6h0M168.8 198.5h0M168.2 198.4h0M169.1 198.7h0M172.0 198.8h0M172.6 198.9h0M175.7 198.7h0M176.0 199.0h0M180.2 198.4h0M183.3 198.6h0M185.8 198.5h0M186.5 198.6h0M187.2 198.1h0M188.4 199.0h0M188.4 198.7h0M190.6 198.6h0M190.2 198.6h0M190.0 199.0h0M190.9 198.2h0M191.3 198.4h0M192.3 198.0h0M194.5 198.2h0M195.6 198.3h0M196.7 198.2h0M196.2 198.7h0M197.9 198.7h0M200.5 198.1h0M203.8 198.4h0M136.1 199.3h0M142.2 199.0h0M149.1 199.6h0M150.4 199.4h0M155.7 199.3h0M155.4 199.9h0M161.9 200.0h0M161.2 199.9h0M162.2 199.1h0M162.5 199.7h0M166.0 199.6h0M166.4 199.7h0M168.3 199.2h0M168.6 199.6h0M173.0 199.2h0M173.1 199.6h0M173.4 199.8h0M173.7 199.5h0M174.3 199.6h0M174.5 200.0h0M175.2 199.1h0M176.4 199.8h0M177.2 199.8h0M177.5 199.1h0M179.7 199.1h0M180.2 199.4h0M182.4 199.2h0M183.4 199.7h0M183.5 199.2h0M185.1 199.3h0M185.7 199.9h0M188.6 199.2h0M190.5 199.3h0M191.2 199.5h0M192.5 199.2h0M194.6 199.1h0M196.7 199.2h0M197.3 200.0h0M197.2 199.5h0M203.3 199.8h0M206.5 199.1h0M207.5 199.1h0M216.4 199.0h0M122.4 200.4h0M132.9 200.3h0M132.5 200.6h0M133.1 200.7h0M134.5 200.7h0M137.5 200.6h0M142.4 200.3h0M145.1 201.0h0M145.5 200.5h0M147.1 200.8h0M149.8 200.5h0M150.1 200.4h0M151.9 200.8h0M154.1 200.6h0M155.9 200.7h0M155.8 200.2h0M157.7 200.4h0M159.6 200.5h0M160.1 200.8h0M160.6 200.2h0M161.7 200.9h0M163.6 200.1h0M163.9 200.8h0M165.3 200.8h0M167.2 200.3h0M169.0 200.7h0M174.4 200.3h0M175.3 200.3h0M177.4 200.8h0M177.7 200.7h0M177.6 200.8h0M178.0 200.8h0M179.8 200.5h0M179.3 200.2h0M180.9 200.2h0M180.7 200.6h0M180.8 200.6h0M181.9 201.0h0M181.0 200.1h0M182.4 200.2h0M184.6 200.6h0M184.7 201.0h0M186.4 200.8h0M186.1 200.6h0M190.4 200.2h0M191.7 200.5h0M193.8 200.7h0M193.4 200.3h0M194.1 200.9h0M196.5 200.6h0M209.7 200.8h0M220.3 200.8h0M122.1 202.0h0M138.6 201.7h0M138.1 201.6h0M138.6 201.0h0M141.2 201.1h0M141.0 201.6h0M143.5 201.6h0M144.7 201.3h0M146.1 201.3h0M148.7 201.0h0M152.5 201.8h0M156.1 201.6h0M157.4 201.7h0M157.4 201.5h0M158.6 201.6h0M158.3 201.8h0M160.7 201.8h0M161.8 201.3h0M167.3 201.2h0M169.3 201.8h0M170.6 201.8h0M171.6 201.8h0M175.8 201.0h0M176.6 201.1h0M179.7 201.6h0M180.4 201.9h0M181.7 201.8h0M181.1 201.6h0M181.1 201.2h0M182.5 201.4h0M185.1 201.7h0M185.2 201.7h0M186.1 201.2h0M188.6 201.5h0M188.7 201.5h0M188.0 201.3h0M193.7 201.3h0M194.6 202.0h0M195.7 201.1h0M195.4 201.4h0M197.4 201.9h0M207.4 201.2h0M209.2 201.2h0M221.8 201.8h0M118.7 202.1h0M124.3 202.9h0M140.8 202.3h0M142.1 202.5h0M144.7 202.5h0M144.1 202.4h0M145.8 202.9h0M147.1 202.4h0M151.9 202.0h0M152.8 202.4h0M152.2 202.1h0M153.2 202.1h0M155.0 202.4h0M157.9 202.9h0M158.9 202.3h0M163.1 202.5h0M168.9 202.2h0M168.8 202.8h0M169.9 202.3h0M171.0 202.6h0M171.2 202.3h0M172.8 202.5h0M177.0 202.7h0M179.9 202.8h0M180.2 202.9h0M184.8 203.0h0M188.1 202.7h0M190.2 203.0h0M191.4 202.2h0M191.4 202.8h0M191.7 202.5h0M192.0 202.7h0M191.9 202.8h0M192.6 202.2h0M192.1 202.9h0M192.6 202.3h0M193.1 202.2h0M193.4 202.4h0M195.6 202.4h0M200.3 202.6h0M200.5 202.9h0M209.3 202.8h0M211.4 202.3h0M120.5 203.8h0M126.4 203.5h0M130.2 203.0h0M134.1 203.5h0M135.0 203.4h0M142.9 203.9h0M144.2 203.8h0M145.5 203.0h0M145.5 203.2h0M146.9 203.8h0M151.2 203.1h0M156.2 203.5h0M157.0 203.5h0M158.9 203.5h0M158.8 203.9h0M159.8 203.7h0M160.6 203.9h0M160.9 203.2h0M161.9 203.4h0M167.7 203.3h0M169.4 203.6h0M171.5 203.8h0M171.5 203.4h0M171.6 203.8h0M172.0 203.4h0M171.7 203.6h0M177.0 203.6h0M178.0 203.7h0M178.1 203.2h0M180.9 203.1h0M181.7 203.7h0M183.7 204.0h0M183.2 203.3h0M183.3 203.3h0M186.0 203.2h0M186.1 203.3h0M187.3 203.7h0M188.0 203.6h0M189.7 203.7h0M191.4 203.3h0M192.6 203.7h0M192.3 203.8h0M192.6 203.3h0M193.1 203.3h0M193.3 203.6h0M195.6 203.5h0M196.4 203.7h0M198.0 203.1h0M198.6 203.9h0M201.0 203.1h0M209.6 203.2h0M127.4 204.2h0M128.4 204.1h0M129.4 204.5h0M132.6 204.3h0M134.5 204.4h0M136.6 204.5h0M141.0 204.0h0M142.6 204.3h0M145.3 204.6h0M147.9 204.6h0M147.6 204.8h0M155.5 204.6h0M156.6 204.7h0M156.7 204.9h0M158.6 204.1h0M161.6 204.9h0M165.1 204.9h0M165.8 204.3h0M168.2 204.3h0M169.2 204.9h0M170.7 204.7h0M171.5 204.6h0M172.3 204.6h0M172.1 204.9h0M173.8 204.8h0M179.3 204.5h0M179.5 204.7h0M180.2 204.2h0M186.4 204.5h0M187.0 204.2h0M188.9 204.1h0M190.8 204.4h0M192.7 204.4h0M192.6 204.2h0M192.7 204.3h0M194.0 204.6h0M194.3 205.0h0M195.4 204.2h0M196.0 204.3h0M196.2 204.6h0M200.2 204.2h0M218.7 204.7h0M123.3 205.1h0M123.7 205.5h0M128.0 205.8h0M133.6 205.2h0M136.0 205.8h0M136.1 205.2h0M138.2 205.8h0M142.4 205.1h0M143.3 205.4h0M146.2 206.0h0M150.2 205.1h0M150.1 205.8h0M151.4 205.4h0M151.6 205.9h0M152.0 205.9h0M153.8 205.0h0M154.9 205.8h0M154.2 205.5h0M158.9 205.3h0M162.0 205.8h0M161.9 205.4h0M162.6 205.4h0M164.6 205.0h0M166.7 205.4h0M168.4 205.8h0M170.4 205.7h0M171.5 205.3h0M172.9 205.4h0M172.9 205.4h0M174.5 205.7h0M176.7 205.1h0M176.0 205.2h0M180.1 205.8h0M180.3 205.1h0M182.1 205.3h0M183.4 205.5h0M184.7 205.4h0M185.0 205.5h0M187.6 205.6h0M194.0 205.9h0M193.5 205.6h0M196.6 205.2h0M215.9 205.5h0M216.5 205.7h0M116.3 206.9h0M127.0 206.8h0M127.1 206.7h0M129.7 206.1h0M130.7 206.8h0M130.4 206.0h0M131.1 206.9h0M134.0 206.3h0M133.5 206.0h0M138.8 207.0h0M142.7 206.5h0M143.0 206.1h0M145.2 206.9h0M146.8 206.1h0M147.9 207.0h0M150.8 206.7h0M152.2 206.5h0M155.3 206.4h0M156.3 206.5h0M159.5 206.2h0M159.2 207.0h0M165.1 206.4h0M165.6 206.8h0M170.1 206.3h0M170.4 206.1h0M173.2 206.8h0M176.1 206.8h0M177.1 206.8h0M177.2 206.4h0M179.0 206.4h0M179.8 206.8h0M181.4 206.1h0M182.8 206.3h0M182.8 206.7h0M185.5 206.2h0M185.7 206.5h0M185.4 206.8h0M187.5 206.4h0M188.0 206.3h0M191.7 206.8h0M193.4 206.1h0M195.9 206.3h0M197.7 206.5h0M198.7 206.4h0M200.9 206.2h0M201.4 206.6h0M201.8 206.0h0M205.5 206.2h0M127.2 207.7h0M132.7 207.4h0M134.5 207.7h0M136.0 207.5h0M141.9 207.6h0M142.8 208.0h0M142.9 207.1h0M144.2 207.8h0M146.5 207.4h0M147.4 207.4h0M147.3 207.6h0M157.0 207.6h0M158.6 207.5h0M163.2 207.9h0M165.1 208.0h0M166.6 207.9h0M166.2 207.2h0M167.4 207.9h0M167.7 207.9h0M168.3 207.8h0M168.1 207.7h0M170.6 207.5h0M171.5 207.1h0M172.4 207.7h0M175.0 207.4h0M176.9 207.2h0M178.2 207.6h0M179.6 207.2h0M183.2 207.5h0M183.7 207.9h0M184.5 207.5h0M187.0 207.2h0M188.1 207.5h0M188.2 207.8h0M190.9 207.2h0M190.7 207.9h0M191.7 207.9h0M198.5 207.1h0M214.2 207.8h0M220.7 207.0h0M119.4 209.0h0M119.1 208.8h0M120.4 208.9h0M122.7 208.2h0M126.7 208.9h0M131.7 208.8h0M132.3 208.9h0M134.7 208.1h0M138.4 208.1h0M140.0 208.6h0M140.1 208.6h0M141.1 208.9h0M142.8 208.4h0M144.3 208.1h0M146.1 209.0h0M146.7 208.5h0M150.2 208.3h0M152.2 208.6h0M155.0 208.1h0M156.7 209.0h0M157.6 209.0h0M158.8 208.8h0M161.0 208.5h0M160.7 208.0h0M161.1 208.7h0M166.8 208.9h0M166.1 208.5h0M167.2 208.9h0M171.5 208.6h0M172.5 208.7h0M173.2 208.3h0M173.2 208.4h0M173.1 208.4h0M174.6 208.3h0M175.8 208.7h0M175.3 208.7h0M178.1 208.7h0M178.4 208.3h0M179.8 208.4h0M179.9 208.8h0M181.8 208.4h0M185.0 208.9h0M190.1 208.2h0M190.1 208.9h0M192.5 208.4h0M195.1 208.3h0M199.7 208.3h0M206.2 208.1h0M115.0 209.1h0M125.9 209.7h0M128.8 209.2h0M128.6 209.0h0M130.0 209.1h0M130.9 209.1h0M132.1 209.2h0M132.5 209.3h0M133.4 209.8h0M133.2 209.4h0M134.1 209.7h0M135.4 209.0h0M137.3 209.2h0M138.9 209.4h0M138.2 209.3h0M142.2 209.2h0M143.4 209.5h0M148.2 209.4h0M149.3 209.3h0M151.1 209.1h0M152.8 209.8h0M155.3 209.2h0M158.8 209.4h0M160.2 209.0h0M167.0 209.3h0M168.3 209.6h0M168.7 210.0h0M169.6 209.6h0M171.8 209.2h0M172.3 209.2h0M173.6 209.5h0M173.7 209.9h0M173.2 209.2h0M173.8 210.0h0M174.1 209.2h0M180.4 209.7h0M181.9 209.3h0M182.3 209.0h0M186.3 209.1h0M188.4 209.7h0M190.2 209.9h0M191.6 209.6h0M193.3 209.6h0M196.2 209.2h0M199.0 209.9h0M199.3 209.1h0M203.0 209.5h0M112.7 210.0h0M120.5 210.9h0M122.4 210.9h0M122.7 210.9h0M125.9 210.9h0M126.2 210.0h0M130.3 210.8h0M136.7 210.3h0M136.4 210.6h0M138.9 210.3h0M141.5 210.2h0M142.0 210.6h0M146.8 210.4h0M147.9 210.4h0M150.3 210.3h0M152.0 211.0h0M155.1 210.7h0M155.8 210.6h0M156.0 210.6h0M157.1 210.4h0M158.1 210.2h0M160.0 210.9h0M162.2 211.0h0M163.1 210.2h0M164.5 210.7h0M165.3 210.3h0M167.0 210.1h0M170.2 210.5h0M173.5 210.5h0M174.6 210.8h0M175.4 210.6h0M175.7 210.6h0M177.6 210.2h0M179.3 210.5h0M180.6 210.4h0M180.7 210.5h0M183.1 210.6h0M184.8 210.9h0M186.3 210.8h0M186.2 210.1h0M188.8 210.9h0M192.3 210.8h0M195.4 210.3h0M117.4 211.3h0M123.2 211.6h0M124.7 211.3h0M129.6 211.1h0M130.8 212.0h0M131.5 211.4h0M134.4 211.8h0M140.3 211.8h0M141.5 211.9h0M143.6 211.3h0M144.6 211.0h0M145.2 211.8h0M146.4 211.9h0M148.0 211.0h0M149.9 211.6h0M151.6 211.5h0M151.4 211.7h0M153.9 211.5h0M153.3 211.8h0M155.8 211.9h0M155.8 211.2h0M157.8 211.4h0M158.1 211.6h0M162.1 211.7h0M163.1 211.6h0M164.2 211.4h0M167.4 211.1h0M167.6 211.3h0M168.4 211.8h0M168.8 211.9h0M173.5 211.6h0M174.6 211.5h0M176.7 211.2h0M176.7 211.8h0M177.4 211.5h0M177.7 211.2h0M178.7 211.1h0M179.3 211.3h0M181.3 211.2h0M182.9 211.4h0M182.3 211.9h0M183.7 211.3h0M187.4 211.7h0M189.3 211.6h0M192.7 211.8h0M194.6 211.6h0M199.9 211.4h0M217.6 211.4h0M111.0 212.0h0M120.2 212.1h0M127.5 212.4h0M133.4 212.8h0M133.2 212.9h0M139.7 212.5h0M141.8 212.9h0M144.6 212.5h0M146.9 212.1h0M147.1 212.9h0M148.8 212.5h0M151.4 212.5h0M151.6 212.8h0M152.9 212.2h0M152.2 212.4h0M153.4 212.8h0M159.6 212.3h0M160.1 212.1h0M167.7 212.8h0M170.2 212.2h0M171.4 212.1h0M173.8 212.3h0M174.3 212.9h0M175.6 212.0h0M178.9 212.1h0M184.2 212.1h0M190.5 212.9h0M193.3 212.8h0M194.7 212.1h0M198.5 212.4h0M204.3 212.5h0M106.1 214.0h0M112.7 213.4h0M112.5 213.5h0M115.7 213.7h0M118.5 213.0h0M119.6 213.7h0M123.5 213.4h0M130.4 213.3h0M131.9 213.0h0M133.3 213.7h0M134.3 213.9h0M135.1 213.1h0M135.3 213.2h0M137.7 213.7h0M137.7 213.1h0M139.9 213.6h0M139.9 213.5h0M140.9 213.4h0M141.7 213.4h0M141.8 213.7h0M144.4 214.0h0M145.4 213.5h0M145.0 213.4h0M146.8 213.6h0M150.7 213.9h0M153.8 213.6h0M157.4 213.7h0M159.2 213.1h0M160.0 213.6h0M160.4 213.7h0M163.2 213.2h0M164.6 213.8h0M164.5 213.8h0M166.6 213.7h0M167.9 213.8h0M167.4 213.9h0M167.0 213.6h0M168.5 213.8h0M168.5 213.4h0M169.5 213.2h0M171.4 213.5h0M172.2 213.5h0M173.0 213.3h0M173.8 213.1h0M175.2 213.5h0M176.4 213.4h0M178.2 213.7h0M180.3 213.5h0M182.7 213.6h0M183.5 213.1h0M184.2 213.1h0M185.4 213.3h0M185.0 213.6h0M191.0 213.1h0M192.9 213.8h0M193.0 213.8h0M193.8 213.9h0M197.9 213.6h0M198.3 213.3h0M200.9 213.2h0M207.3 213.3h0M111.2 214.8h0M115.9 214.3h0M116.6 214.9h0M118.7 214.4h0M120.0 214.7h0M129.4 215.0h0M132.2 214.8h0M132.9 214.1h0M137.8 214.2h0M138.6 214.3h0M138.9 214.2h0M144.1 214.6h0M145.4 214.6h0M146.2 214.9h0M147.0 214.6h0M151.3 214.4h0M152.9 214.5h0M157.3 214.7h0M157.3 214.4h0M158.7 214.2h0M158.1 214.1h0M159.5 214.6h0M160.3 214.2h0M160.3 214.7h0M163.4 214.8h0M164.6 214.5h0M165.8 214.2h0M168.5 214.4h0M169.1 214.8h0M170.6 214.9h0M171.9 214.8h0M173.8 214.6h0M174.1 214.9h0M176.5 214.7h0M177.0 214.6h0M178.3 214.2h0M180.6 214.0h0M182.6 214.7h0M185.4 214.9h0M188.6 214.7h0M188.3 214.6h0M191.1 214.9h0M193.0 214.2h0M194.1 214.6h0M194.0 214.5h0M201.6 214.2h0M113.3 215.7h0M124.9 215.6h0M124.6 215.0h0M130.5 215.1h0M133.2 215.5h0M136.3 215.3h0M140.4 215.9h0M143.1 215.4h0M143.4 215.1h0M144.0 215.2h0M148.3 215.4h0M150.5 215.6h0M150.9 215.1h0M153.7 215.8h0M161.6 215.0h0M163.5 215.3h0M164.6 215.6h0M164.0 215.5h0M166.7 215.3h0M170.0 215.5h0M170.3 215.7h0M171.9 215.8h0M172.9 215.2h0M173.3 215.3h0M175.8 215.4h0M176.7 215.3h0M177.9 215.8h0M180.3 215.8h0M180.2 215.6h0M181.7 215.1h0M184.3 215.4h0M185.7 216.0h0M188.0 215.2h0M188.1 215.8h0M189.4 215.4h0M191.8 215.6h0M191.5 215.6h0M192.0 215.4h0M201.2 215.6h0M204.6 215.9h0M206.4 215.4h0M113.3 216.5h0M114.5 216.6h0M125.0 216.3h0M131.7 216.8h0M133.0 216.3h0M137.8 216.9h0M139.9 216.3h0M139.1 216.7h0M139.3 216.9h0M142.6 216.6h0M143.8 216.8h0M145.0 216.8h0M146.7 216.2h0M149.5 216.2h0M153.1 216.1h0M155.1 216.4h0M159.6 216.7h0M159.1 216.7h0M161.7 216.2h0M161.1 216.7h0M161.7 216.8h0M163.1 216.5h0M164.7 216.2h0M164.1 216.2h0M165.5 216.8h0M166.4 216.8h0M167.2 216.9h0M170.2 216.9h0M170.6 216.1h0M173.5 217.0h0M173.5 216.7h0M175.1 216.6h0M176.7 216.8h0M177.2 216.5h0M182.4 216.2h0M184.5 216.6h0M189.3 216.5h0M191.7 216.6h0M191.4 216.8h0M193.3 216.0h0M196.8 216.9h0M105.2 217.8h0M116.4 217.2h0M122.7 217.5h0M122.9 217.1h0M123.9 217.4h0M128.1 217.5h0M128.8 217.7h0M130.2 217.5h0M131.7 217.1h0M131.6 217.3h0M141.6 217.7h0M143.3 217.2h0M146.9 217.9h0M149.3 217.2h0M151.8 217.1h0M151.7 217.4h0M152.8 217.2h0M153.2 217.5h0M154.4 217.8h0M157.7 217.6h0M162.1 217.6h0M165.7 217.8h0M167.6 217.4h0M168.4 217.8h0M168.4 217.6h0M170.4 217.3h0M170.9 217.7h0M171.9 217.2h0M172.2 217.0h0M174.1 217.2h0M175.1 217.2h0M179.5 217.3h0M179.7 217.5h0M179.9 217.3h0M180.4 217.3h0M181.7 217.8h0M182.0 217.6h0M183.1 217.8h0M184.1 217.7h0M185.7 217.3h0M193.5 217.0h0M197.2 217.5h0M108.4 218.4h0M108.0 218.3h0M115.3 218.2h0M117.7 218.2h0M119.5 218.6h0M122.9 218.6h0M125.5 218.2h0M132.4 218.3h0M133.5 218.2h0M133.9 218.1h0M136.4 218.4h0M141.1 218.3h0M143.7 218.5h0M145.1 218.6h0M146.0 218.9h0M147.2 218.8h0M151.3 218.2h0M153.5 218.7h0M154.5 218.6h0M157.5 218.7h0M159.5 218.5h0M163.7 218.6h0M163.2 218.7h0M165.8 218.8h0M165.5 218.3h0M166.0 218.8h0M167.9 218.5h0M167.7 218.5h0M168.3 218.6h0M170.1 218.0h0M170.9 218.8h0M171.2 218.8h0M173.4 218.1h0M175.6 218.9h0M175.5 218.7h0M176.9 218.5h0M177.3 218.3h0M182.1 218.6h0M184.0 218.3h0M183.9 218.7h0M184.2 218.6h0M184.5 218.7h0M185.5 218.9h0M185.2 218.2h0M189.7 218.8h0M190.8 218.9h0M191.0 218.2h0M196.9 218.5h0M204.3 219.0h0M216.6 218.7h0M113.7 219.3h0M113.6 219.3h0M114.8 219.5h0M115.7 219.1h0M116.7 219.4h0M119.1 220.0h0M123.6 219.1h0M125.8 219.2h0M125.2 219.3h0M125.7 219.1h0M135.0 219.5h0M134.8 219.6h0M136.3 219.6h0M139.8 219.3h0M139.2 220.0h0M140.4 219.4h0M140.6 219.4h0M142.1 219.8h0M144.2 219.9h0M145.1 219.1h0M147.9 219.2h0M150.0 219.3h0M153.0 219.7h0M158.7 219.4h0M161.6 219.3h0M162.9 219.8h0M163.2 219.1h0M164.9 220.0h0M166.3 219.4h0M172.4 219.9h0M172.8 219.9h0M177.8 219.8h0M177.4 220.0h0M179.9 219.1h0M179.7 219.5h0M180.0 219.7h0M184.1 219.2h0M185.1 219.9h0M186.8 219.5h0M187.3 219.7h0M187.3 219.8h0M188.5 219.3h0M188.4 219.2h0M191.8 219.4h0M196.7 219.1h0M197.2 219.0h0M103.0 220.9h0M106.2 220.6h0M114.1 220.4h0M116.4 220.6h0M117.1 220.9h0M118.1 220.4h0M120.4 220.1h0M120.9 220.1h0M123.3 220.0h0M123.3 220.5h0M127.8 220.7h0M128.2 220.8h0M141.7 220.4h0M142.1 221.0h0M143.4 220.2h0M148.3 220.7h0M155.3 220.8h0M156.8 220.8h0M157.6 220.9h0M161.9 220.6h0M161.3 220.8h0M161.1 220.8h0M162.6 220.9h0M165.9 220.7h0M165.2 220.9h0M166.2 220.3h0M167.6 220.1h0M167.3 220.5h0M169.1 220.8h0M169.8 220.9h0M169.1 220.4h0M170.5 220.7h0M171.6 220.4h0M172.0 220.8h0M174.1 220.8h0M176.2 220.5h0M178.4 220.3h0M178.3 220.7h0M182.7 220.7h0M185.5 220.7h0M217.9 220.4h0M115.0 221.3h0M114.7 221.1h0M115.2 221.5h0M126.5 221.6h0M127.5 221.2h0M129.5 221.6h0M133.1 221.3h0M133.4 222.0h0M134.3 221.4h0M134.9 221.4h0M135.6 221.0h0M137.2 221.7h0M140.2 221.9h0M141.3 221.3h0M145.8 221.2h0M145.2 221.3h0M146.7 221.5h0M147.9 221.0h0M149.1 221.6h0M150.5 221.2h0M152.1 221.1h0M153.5 221.9h0M153.4 221.6h0M155.4 221.0h0M156.2 221.6h0M159.5 221.5h0M159.5 221.1h0M162.1 221.3h0M163.5 221.6h0M164.8 221.7h0M166.7 221.9h0M167.1 221.7h0M168.8 221.7h0M168.8 221.9h0M169.6 221.4h0M169.4 221.0h0M169.3 221.1h0M170.6 221.8h0M170.3 221.2h0M171.5 221.5h0M175.5 221.8h0M177.1 221.3h0M183.1 221.5h0M183.4 221.7h0M185.4 221.4h0M186.8 221.5h0M188.5 221.5h0M191.2 221.9h0M192.8 221.3h0M196.5 221.3h0M196.0 221.3h0M109.9 222.1h0M115.7 222.3h0M128.3 222.8h0M129.5 222.4h0M129.6 222.8h0M129.1 223.0h0M136.3 222.0h0M137.0 222.5h0M138.4 222.2h0M138.2 222.1h0M141.7 223.0h0M142.2 222.6h0M143.2 222.0h0M147.8 222.2h0M150.7 222.5h0M152.0 222.5h0M151.9 222.3h0M152.6 222.7h0M154.2 222.2h0M159.4 222.2h0M166.4 222.6h0M167.1 222.9h0M168.5 222.5h0M171.6 222.3h0M172.4 222.8h0M172.4 222.5h0M173.5 222.7h0M175.8 222.9h0M176.8 222.4h0M178.5 222.5h0M182.9 222.1h0M183.4 222.4h0M183.5 222.5h0M187.7 222.3h0M187.5 222.8h0M193.6 222.4h0M196.4 222.4h0M98.4 223.4h0M105.7 223.6h0M107.8 223.4h0M118.7 223.7h0M119.3 223.6h0M119.6 223.5h0M121.0 223.1h0M120.1 223.3h0M123.9 223.5h0M124.3 223.6h0M127.3 223.8h0M132.0 224.0h0M135.5 223.6h0M137.4 223.5h0M139.9 223.8h0M140.5 223.4h0M141.2 223.6h0M144.1 223.4h0M147.2 223.9h0M149.5 223.0h0M150.0 223.6h0M153.9 223.8h0M153.6 223.3h0M156.0 223.1h0M158.0 223.6h0M160.3 223.8h0M161.9 223.4h0M164.9 223.4h0M165.8 223.3h0M165.9 223.6h0M167.8 223.7h0M167.1 223.7h0M168.1 223.1h0M170.0 223.6h0M173.1 223.7h0M174.2 223.5h0M174.0 223.9h0M174.9 224.0h0M176.5 223.2h0M178.3 223.4h0M181.3 223.7h0M183.8 223.3h0M183.9 223.8h0M187.1 223.2h0M187.6 223.4h0M199.9 223.3h0M201.8 223.7h0M205.1 223.9h0M102.4 224.3h0M107.7 225.0h0M112.2 224.3h0M115.9 224.0h0M118.9 224.4h0M121.6 224.3h0M123.2 224.2h0M125.4 224.6h0M126.9 224.3h0M126.7 224.9h0M129.8 224.2h0M131.7 224.1h0M132.2 224.6h0M132.3 224.6h0M133.1 224.8h0M135.0 224.3h0M135.3 224.6h0M141.9 224.5h0M141.7 224.7h0M144.2 224.6h0M145.9 224.3h0M147.9 224.9h0M155.8 224.0h0M156.8 224.5h0M157.8 224.5h0M159.3 224.8h0M163.1 224.7h0M163.8 224.1h0M165.6 224.3h0M165.5 224.9h0M171.8 224.2h0M172.6 224.9h0M176.2 224.1h0M177.5 224.7h0M178.6 224.2h0M179.1 224.4h0M182.9 224.8h0M184.1 224.9h0M188.0 224.8h0M192.4 224.9h0M194.7 224.8h0M198.4 224.8h0M98.3 225.5h0M102.8 225.2h0M110.4 226.0h0M114.0 225.3h0M116.1 225.9h0M120.4 225.6h0M129.3 225.7h0M132.0 225.2h0M133.5 225.1h0M133.7 225.9h0M134.6 225.7h0M137.2 225.3h0M143.0 225.9h0M143.2 225.8h0M146.5 225.2h0M149.6 225.8h0M156.3 225.5h0M158.6 225.6h0M158.2 225.9h0M159.4 225.4h0M160.7 225.9h0M162.6 225.7h0M164.1 225.5h0M170.0 225.5h0M169.4 225.1h0M170.3 225.4h0M171.0 225.8h0M171.3 225.7h0M172.6 225.4h0M173.5 225.1h0M175.6 225.9h0M175.7 225.9h0M176.8 225.4h0M180.2 225.4h0M180.3 225.2h0M182.8 225.4h0M182.5 225.6h0M182.8 225.5h0M184.9 225.7h0M189.5 225.8h0M193.8 225.2h0M202.4 225.1h0M205.4 225.8h0M208.5 225.8h0M209.7 225.5h0M110.2 226.4h0M112.0 226.2h0M113.7 226.1h0M115.2 226.2h0M116.2 226.1h0M117.5 226.2h0M117.7 226.3h0M118.3 226.2h0M121.8 226.3h0M125.1 226.2h0M126.0 226.1h0M126.5 226.6h0M129.8 226.1h0M130.4 226.1h0M130.5 226.5h0M131.8 226.3h0M135.1 226.5h0M142.4 226.3h0M144.9 226.7h0M147.1 226.6h0M147.1 226.1h0M147.7 226.9h0M153.0 226.1h0M154.0 226.7h0M156.8 226.7h0M156.4 226.8h0M156.3 226.4h0M158.9 226.6h0M159.3 226.7h0M159.9 226.4h0M160.5 226.7h0M161.0 226.7h0M162.1 226.2h0M166.2 226.7h0M167.0 226.2h0M168.7 226.1h0M171.6 226.6h0M172.9 226.5h0M173.8 226.4h0M173.6 226.1h0M176.1 226.1h0M177.4 226.5h0M178.6 226.4h0M179.7 226.1h0M183.8 226.1h0M199.8 226.9h0M103.4 227.1h0M106.2 227.7h0M106.9 227.9h0M107.7 227.7h0M108.2 227.7h0M110.8 227.6h0M111.5 227.1h0M113.1 227.5h0M115.7 227.2h0M119.3 227.1h0M123.6 227.1h0M131.9 227.9h0M133.3 227.3h0M139.8 227.9h0M142.3 227.0h0M144.2 228.0h0M145.4 227.9h0M146.4 227.1h0M149.4 227.3h0M153.4 227.6h0M154.8 227.1h0M154.7 228.0h0M154.5 227.4h0M159.3 227.2h0M161.5 227.2h0M162.9 227.6h0M165.1 227.3h0M167.1 227.3h0M169.2 227.1h0M171.1 228.0h0M171.8 227.9h0M172.8 227.2h0M173.1 227.7h0M176.5 227.4h0M179.5 227.7h0M182.4 227.7h0M185.1 227.2h0M189.3 227.1h0M208.6 227.1h0M104.9 228.6h0M108.0 228.8h0M111.5 228.5h0M113.1 228.7h0M115.3 228.3h0M116.0 228.6h0M118.1 228.7h0M120.8 228.7h0M127.5 228.9h0M128.2 228.7h0M128.8 228.7h0M131.0 228.9h0M130.5 228.0h0M133.8 228.9h0M136.4 228.7h0M136.3 228.7h0M137.2 228.2h0M138.5 228.2h0M138.6 229.0h0M139.8 229.0h0M141.3 228.7h0M141.2 228.1h0M143.8 228.3h0M145.3 228.2h0M146.5 228.2h0M153.2 228.3h0M153.3 228.1h0M153.8 228.2h0M157.3 228.9h0M158.2 228.1h0M160.7 228.3h0M161.8 228.2h0M161.8 228.7h0M162.0 228.5h0M163.3 229.0h0M164.9 228.7h0M165.7 228.3h0M166.6 229.0h0M168.6 228.3h0M172.3 228.8h0M175.4 228.5h0M176.3 228.8h0M178.1 228.3h0M179.0 228.5h0M179.4 228.6h0M182.0 228.3h0M182.6 228.8h0M188.7 228.4h0M202.4 228.2h0M205.4 229.0h0M98.5 229.5h0M99.0 229.9h0M102.7 229.8h0M105.1 229.2h0M109.0 229.7h0M108.9 229.7h0M109.5 229.4h0M113.6 229.3h0M115.2 229.4h0M115.6 229.4h0M118.3 230.0h0M119.8 230.0h0M122.7 229.7h0M122.7 229.5h0M123.5 229.3h0M125.3 229.7h0M130.7 229.7h0M130.5 229.8h0M133.4 229.0h0M133.3 229.5h0M135.5 229.9h0M139.1 229.6h0M139.0 229.6h0M140.5 229.8h0M141.0 229.2h0M141.9 229.3h0M144.0 229.8h0M144.1 229.9h0M147.7 229.3h0M147.3 229.2h0M148.6 229.2h0M150.2 229.4h0M151.5 229.2h0M152.3 229.1h0M152.6 229.2h0M152.3 229.3h0M154.8 229.7h0M155.2 229.9h0M155.1 229.8h0M157.3 229.6h0M157.2 229.4h0M158.6 230.0h0M159.1 229.7h0M161.8 229.1h0M163.5 229.4h0M164.9 229.7h0M165.6 229.6h0M165.5 229.0h0M166.3 229.9h0M168.2 229.2h0M170.7 230.0h0M170.9 229.6h0M173.0 229.6h0M177.0 229.4h0M178.3 229.0h0M195.6 229.7h0M209.5 229.3h0M93.9 230.1h0M101.3 230.4h0M102.9 230.5h0M105.0 230.3h0M109.8 230.5h0M114.3 230.3h0M115.8 230.5h0M116.9 230.1h0M123.8 230.6h0M125.3 230.5h0M128.6 230.1h0M130.4 230.8h0M131.5 230.9h0M137.9 230.5h0M138.3 230.7h0M143.0 230.1h0M143.3 230.7h0M145.1 230.6h0M151.5 230.6h0M151.5 230.1h0M155.7 230.2h0M157.5 230.9h0M158.5 230.1h0M159.8 230.2h0M162.1 230.0h0M163.3 230.7h0M165.4 230.3h0M165.7 230.1h0M166.2 231.0h0M166.9 230.4h0M167.3 230.5h0M173.5 230.3h0M173.6 230.3h0M175.7 230.8h0M177.0 230.6h0M179.5 230.8h0M181.4 230.6h0M188.6 230.3h0M92.6 231.5h0M100.3 231.7h0M106.1 231.4h0M109.6 231.4h0M113.1 231.4h0M113.6 231.7h0M116.4 231.7h0M118.1 231.9h0M119.0 231.9h0M119.1 231.3h0M121.4 231.4h0M121.8 231.8h0M124.4 231.9h0M126.7 231.7h0M129.0 231.2h0M129.2 231.0h0M130.3 231.3h0M132.8 231.1h0M132.2 231.7h0M138.3 231.3h0M139.7 231.4h0M141.9 231.7h0M143.0 231.5h0M148.8 231.5h0M151.2 231.7h0M151.5 231.2h0M151.3 231.8h0M151.8 231.9h0M154.3 231.4h0M157.6 231.1h0M158.4 231.5h0M159.6 231.5h0M161.3 231.2h0M162.8 231.7h0M162.1 231.4h0M165.3 231.5h0M166.8 231.2h0M170.5 231.7h0M172.8 231.4h0M173.4 231.4h0M175.8 231.3h0M179.8 231.8h0M179.1 232.0h0M181.4 231.5h0M182.8 231.7h0M183.6 231.1h0M198.9 231.9h0M210.1 231.5h0M92.8 232.8h0M97.7 232.4h0M108.7 232.5h0M113.8 232.4h0M119.2 232.1h0M124.6 233.0h0M125.4 232.4h0M129.4 232.8h0M129.5 232.7h0M131.8 232.1h0M133.9 232.6h0M133.9 232.6h0M135.9 232.2h0M139.1 232.6h0M141.0 232.6h0M142.2 232.6h0M147.9 232.1h0M151.5 232.5h0M154.3 232.1h0M155.4 232.0h0M157.4 232.5h0M159.1 232.4h0M161.3 232.5h0M161.4 232.3h0M162.0 232.5h0M164.5 232.9h0M165.9 232.9h0M169.4 232.3h0M170.6 232.1h0M171.3 232.9h0M173.1 232.5h0M179.3 232.2h0M180.6 232.7h0M181.7 232.7h0M182.2 232.8h0M204.6 232.5h0M209.2 232.5h0M87.7 233.1h0M115.6 233.6h0M118.0 233.3h0M119.2 233.5h0M124.2 233.7h0M125.9 233.0h0M128.9 233.6h0M128.2 233.5h0M131.8 233.6h0M133.8 233.1h0M135.5 233.1h0M136.3 233.9h0M138.4 233.3h0M138.3 233.5h0M138.3 233.2h0M138.7 234.0h0M138.8 233.5h0M140.3 233.5h0M140.9 233.2h0M142.5 233.7h0M142.3 233.9h0M143.3 233.2h0M144.4 233.6h0M145.0 233.9h0M149.7 233.7h0M150.2 233.9h0M152.8 233.1h0M153.4 233.4h0M154.2 233.3h0M155.9 233.4h0M155.2 233.8h0M157.7 233.7h0M159.4 233.3h0M163.8 233.2h0M166.0 233.3h0M165.8 233.9h0M166.7 233.0h0M167.8 233.5h0M167.2 233.7h0M170.7 233.2h0M171.7 233.4h0M172.3 233.4h0M173.5 233.5h0M177.0 233.0h0M177.9 233.9h0M178.7 233.7h0M182.7 233.8h0M182.4 233.6h0M187.1 233.6h0M188.4 233.8h0M190.6 233.0h0M195.6 233.9h0M195.8 233.8h0M195.8 234.0h0M206.4 233.9h0M82.7 234.0h0M105.8 234.7h0M112.4 234.4h0M115.6 234.3h0M116.4 234.9h0M117.1 234.5h0M119.8 234.1h0M120.3 234.2h0M121.8 234.8h0M126.6 234.3h0M126.7 234.9h0M126.4 234.4h0M130.9 234.4h0M135.8 234.4h0M136.8 234.5h0M141.1 234.6h0M142.2 234.2h0M144.3 234.7h0M146.8 234.2h0M148.0 234.0h0M149.6 234.1h0M152.6 234.4h0M152.0 234.5h0M154.0 234.5h0M157.7 234.1h0M160.7 234.8h0M160.7 234.4h0M161.2 234.4h0M162.4 234.6h0M164.8 234.5h0M166.8 234.2h0M166.2 234.7h0M167.7 234.6h0M167.9 234.3h0M168.0 234.3h0M170.7 234.0h0M172.1 234.1h0M173.7 234.4h0M173.5 234.1h0M174.7 234.5h0M191.6 234.6h0M193.7 234.2h0M196.3 234.6h0M201.9 234.8h0M204.4 234.7h0M206.9 234.3h0M96.1 235.8h0M103.4 235.3h0M104.4 235.3h0M113.2 235.4h0M115.0 235.7h0M118.7 235.1h0M121.6 236.0h0M122.1 235.3h0M122.5 235.1h0M124.7 235.8h0M128.7 235.9h0M130.7 235.6h0M132.3 235.3h0M132.9 235.4h0M134.5 235.2h0M137.9 235.3h0M140.0 236.0h0M141.3 235.8h0M144.7 235.9h0M146.5 235.9h0M147.2 235.8h0M152.5 235.3h0M155.3 235.3h0M155.1 235.3h0M157.9 235.4h0M158.7 235.7h0M161.6 235.9h0M162.2 235.7h0M163.0 235.9h0M164.7 235.8h0M164.7 235.8h0M167.4 235.8h0M168.1 235.5h0M168.6 235.2h0M168.7 235.8h0M170.0 235.0h0M175.4 235.3h0M176.4 235.4h0M182.7 235.6h0M183.9 235.7h0M207.7 235.4h0M86.8 236.1h0M91.9 237.0h0M95.0 236.6h0M98.7 236.8h0M100.3 236.6h0M104.0 236.8h0M110.1 236.6h0M112.8 236.1h0M116.9 236.7h0M120.4 236.4h0M120.5 236.6h0M124.9 236.4h0M129.1 236.6h0M131.9 236.2h0M132.0 236.6h0M131.8 237.0h0M132.4 237.0h0M132.4 236.7h0M134.3 236.8h0M135.9 236.1h0M136.4 236.5h0M138.3 236.8h0M138.1 236.9h0M140.7 236.1h0M145.6 236.7h0M150.0 236.7h0M149.6 236.2h0M150.8 236.3h0M150.0 236.8h0M153.1 236.2h0M154.0 236.6h0M153.1 236.2h0M154.0 236.6h0M155.5 236.4h0M164.0 236.5h0M164.8 236.6h0M169.8 236.3h0M170.0 236.2h0M180.2 236.3h0M183.9 236.1h0M188.5 236.9h0M194.7 236.7h0M195.8 236.5h0M203.3 236.4h0M90.9 237.9h0M91.0 237.2h0M95.6 237.2h0M100.8 237.5h0M102.7 237.5h0M102.2 238.0h0M105.0 237.7h0M104.6 237.7h0M108.3 237.7h0M111.7 237.5h0M116.6 237.3h0M118.1 237.2h0M119.1 237.0h0M121.0 237.9h0M122.4 237.8h0M124.0 237.8h0M123.4 237.5h0M128.2 237.9h0M128.4 237.9h0M130.3 237.5h0M130.8 237.1h0M130.6 237.7h0M132.7 237.2h0M134.0 237.3h0M134.6 237.1h0M135.1 237.8h0M136.3 237.1h0M140.6 237.5h0M141.4 237.6h0M142.2 237.5h0M143.4 237.3h0M146.0 237.2h0M145.2 237.7h0M146.8 237.6h0M147.7 237.2h0M147.4 237.1h0M149.6 237.7h0M152.6 237.6h0M153.3 237.3h0M156.6 237.8h0M156.5 237.6h0M156.0 237.7h0M159.7 237.9h0M161.1 237.9h0M162.5 237.5h0M162.4 237.8h0M164.8 237.3h0M165.3 237.8h0M165.6 237.5h0M165.1 237.7h0M166.9 237.1h0M167.1 237.7h0M173.6 237.8h0M175.6 237.1h0M177.6 237.0h0M181.5 237.0h0M192.6 237.9h0M68.9 238.5h0M102.1 238.3h0M103.9 238.9h0M103.8 238.4h0M106.2 238.9h0M112.4 238.1h0M114.6 238.9h0M118.4 238.5h0M120.6 238.1h0M121.0 239.0h0M121.9 238.1h0M122.0 239.0h0M122.9 238.9h0M126.8 238.1h0M126.3 238.1h0M128.1 238.8h0M128.6 238.7h0M132.6 238.2h0M132.0 238.7h0M135.0 238.8h0M135.5 238.6h0M136.3 238.4h0M138.8 238.8h0M139.3 238.5h0M140.8 238.9h0M141.2 238.2h0M144.2 238.4h0M151.9 239.0h0M151.4 238.9h0M152.7 238.3h0M154.5 238.7h0M154.1 238.7h0M155.4 238.6h0M156.8 238.3h0M157.0 238.6h0M157.3 238.5h0M162.1 238.7h0M162.1 238.2h0M163.2 238.3h0M165.8 238.5h0M174.0 238.1h0M178.4 238.0h0M179.3 238.1h0M186.1 238.7h0M190.0 238.2h0M192.2 238.5h0M196.8 238.0h0M96.3 239.3h0M98.1 239.6h0M107.6 239.3h0M108.9 239.8h0M111.1 239.3h0M112.7 239.0h0M112.6 239.1h0M113.8 239.4h0M114.4 239.1h0M121.4 239.9h0M122.7 239.5h0M123.6 239.8h0M123.2 239.3h0M127.8 239.9h0M128.6 239.3h0M128.5 239.3h0M129.2 239.4h0M129.0 239.7h0M131.0 239.6h0M133.1 239.2h0M134.4 239.5h0M137.1 239.3h0M137.0 239.8h0M138.8 239.4h0M142.8 239.4h0M143.1 239.8h0M145.3 239.7h0M145.1 239.9h0M148.7 239.4h0M148.4 239.3h0M149.8 239.5h0M150.8 239.6h0M155.7 239.3h0M155.7 239.3h0M160.9 239.3h0M162.1 239.8h0M164.6 239.3h0M165.8 239.5h0M166.4 239.8h0M168.7 239.7h0M169.0 240.0h0M169.9 239.8h0M173.0 239.4h0M195.6 239.4h0M196.5 239.7h0M199.2 239.3h0M203.0 239.3h0M213.2 239.3h0M89.6 240.6h0M92.9 240.0h0M93.3 241.0h0M93.1 240.1h0M98.7 240.3h0M99.6 241.0h0M102.8 240.7h0M105.9 240.9h0M109.1 240.3h0M113.9 240.2h0M118.4 240.5h0M118.9 240.3h0M121.4 241.0h0M122.3 240.4h0M126.2 240.8h0M127.3 240.1h0M130.4 240.6h0M131.2 240.0h0M132.1 240.7h0M132.8 240.7h0M135.2 240.1h0M138.1 240.4h0M138.6 240.6h0M140.4 240.6h0M141.2 240.6h0M141.6 240.8h0M143.7 240.2h0M143.3 240.3h0M143.5 240.4h0M145.4 240.5h0M147.2 240.3h0M153.7 240.3h0M153.2 240.2h0M153.9 240.6h0M158.9 240.9h0M160.8 240.9h0M165.7 240.5h0M167.5 240.3h0M168.1 240.3h0M168.2 240.3h0M168.8 240.9h0M169.8 240.6h0M171.2 241.0h0M174.5 241.0h0M186.9 240.5h0M189.8 240.9h0M189.2 240.7h0M198.7 240.0h0M94.0 241.0h0M97.1 241.8h0M98.5 241.8h0M98.8 241.5h0M104.8 241.4h0M108.4 241.8h0M110.5 241.3h0M111.8 241.5h0M111.6 241.6h0M113.7 241.1h0M116.8 241.3h0M117.9 241.4h0M120.1 241.5h0M120.4 241.8h0M122.0 241.3h0M125.3 241.5h0M131.2 241.2h0M132.4 241.5h0M136.1 241.2h0M138.3 241.7h0M139.5 241.7h0M139.3 241.7h0M147.3 241.6h0M147.8 242.0h0M149.4 242.0h0M152.3 241.5h0M153.4 241.8h0M154.1 241.7h0M154.0 241.2h0M158.8 241.4h0M159.5 241.6h0M160.5 241.4h0M166.1 241.9h0M167.3 241.8h0M168.6 241.7h0M170.0 241.6h0M172.9 241.8h0M178.3 241.2h0M178.8 241.0h0M178.1 241.1h0M179.0 241.9h0M190.7 241.9h0M190.7 241.6h0M85.6 242.7h0M90.7 242.3h0M96.7 242.1h0M98.8 242.2h0M110.1 242.0h0M112.6 242.4h0M117.4 242.8h0M117.7 242.4h0M119.2 242.2h0M120.6 242.6h0M122.3 242.0h0M126.4 242.6h0M126.1 242.1h0M129.8 242.0h0M132.3 242.1h0M134.1 242.6h0M137.4 242.4h0M145.1 242.8h0M145.4 242.4h0M145.0 242.7h0M146.1 242.3h0M148.3 242.4h0M148.9 242.9h0M150.8 242.3h0M151.5 242.6h0M151.8 242.8h0M153.1 242.9h0M155.7 242.1h0M155.1 242.3h0M155.0 242.2h0M158.5 242.5h0M159.2 242.7h0M161.7 242.8h0M164.3 242.5h0M164.6 242.2h0M166.8 242.8h0M169.1 242.7h0M170.8 242.6h0M174.5 242.0h0M174.0 242.8h0M207.7 242.6h0M87.8 244.0h0M87.9 243.4h0M98.7 243.2h0M101.6 243.9h0M111.4 243.8h0M112.4 243.2h0M114.4 243.3h0M124.6 243.7h0M127.2 243.6h0M129.6 243.9h0M129.1 244.0h0M132.6 243.9h0M133.9 243.0h0M133.5 243.1h0M133.1 243.7h0M136.0 243.7h0M136.7 243.1h0M137.2 243.2h0M139.0 243.2h0M141.4 243.1h0M143.3 243.4h0M143.2 243.3h0M144.4 243.7h0M147.3 243.3h0M147.2 243.7h0M147.9 243.0h0M150.0 243.7h0M150.8 243.8h0M151.8 243.3h0M153.4 243.3h0M154.1 244.0h0M154.1 243.6h0M155.4 243.4h0M156.0 243.1h0M157.6 243.8h0M157.5 243.2h0M160.2 243.3h0M162.1 243.4h0M164.1 243.8h0M166.0 243.5h0M167.3 243.4h0M170.1 243.8h0M173.9 243.0h0M175.8 243.1h0M182.9 243.5h0M187.2 243.1h0M195.3 243.9h0M196.7 243.4h0M206.7 243.5h0M74.4 244.4h0M81.3 244.4h0M90.5 244.7h0M91.2 244.8h0M105.0 244.2h0M109.6 245.0h0M112.5 244.0h0M114.4 244.6h0M115.8 244.6h0M117.7 244.4h0M121.0 244.2h0M120.8 245.0h0M122.7 244.2h0M123.0 244.6h0M124.3 244.9h0M124.4 244.2h0M126.5 244.1h0M129.3 244.5h0M131.5 244.8h0M132.8 244.1h0M133.1 244.5h0M134.6 244.1h0M134.7 244.9h0M136.3 244.1h0M139.9 244.9h0M141.4 244.4h0M142.3 244.7h0M143.9 244.4h0M143.3 244.2h0M147.6 244.8h0M148.8 244.3h0M148.7 244.2h0M150.7 244.1h0M151.0 244.5h0M151.4 244.6h0M155.1 244.2h0M159.4 244.8h0M168.2 244.3h0M169.7 244.6h0M172.1 244.8h0M184.9 244.8h0M188.9 244.6h0M188.9 244.2h0M206.5 245.0h0M79.7 245.5h0M80.2 245.4h0M90.2 245.2h0M102.1 245.7h0M107.7 245.7h0M109.5 245.2h0M110.5 245.2h0M111.1 245.1h0M112.8 245.0h0M115.4 245.4h0M116.6 245.2h0M124.3 245.6h0M130.3 245.5h0M131.8 245.3h0M134.9 245.9h0M134.5 245.1h0M134.8 245.2h0M139.2 245.1h0M139.2 245.7h0M139.2 245.8h0M139.5 246.0h0M140.6 245.6h0M141.3 245.2h0M142.1 245.4h0M143.7 245.9h0M144.8 245.4h0M149.8 245.6h0M152.5 245.8h0M155.1 245.5h0M157.5 245.0h0M158.4 245.9h0M165.8 245.8h0M168.6 245.1h0M171.6 245.8h0M191.8 245.6h0M192.6 245.3h0M198.6 245.7h0M95.0 246.8h0M98.1 246.7h0M98.7 246.6h0M100.3 246.9h0M103.7 246.5h0M105.3 246.8h0M107.9 246.6h0M114.6 246.2h0M117.5 246.5h0M117.8 246.9h0M120.0 246.1h0M120.5 246.6h0M121.5 246.1h0M124.7 246.6h0M125.7 246.4h0M127.6 246.1h0M128.0 246.5h0M128.4 246.4h0M129.4 247.0h0M131.6 246.5h0M132.4 246.2h0M134.3 246.9h0M134.3 247.0h0M135.3 246.9h0M138.4 246.4h0M141.6 246.7h0M142.2 246.9h0M144.2 246.8h0M144.0 246.8h0M146.7 246.1h0M148.0 246.1h0M150.2 246.7h0M156.3 246.6h0M157.5 246.2h0M160.3 246.7h0M162.6 246.6h0M166.8 246.7h0M166.7 246.8h0M167.3 246.9h0M169.2 246.0h0M85.4 247.6h0M85.0 247.8h0M87.0 247.3h0M89.1 247.5h0M99.2 247.2h0M109.0 247.4h0M113.1 247.1h0M116.3 247.3h0M118.2 247.0h0M119.9 247.4h0M122.0 247.8h0M122.7 247.3h0M124.8 247.7h0M130.3 247.9h0M132.0 247.4h0M134.8 247.8h0M135.4 247.7h0M137.4 247.5h0M140.9 247.2h0M144.0 247.1h0M145.6 247.5h0M148.3 248.0h0M150.7 247.1h0M151.2 247.6h0M153.1 247.3h0M153.7 247.9h0M155.6 247.3h0M156.0 247.5h0M158.3 247.4h0M158.1 247.8h0M158.1 247.9h0M160.1 247.2h0M164.2 247.0h0M171.5 248.0h0M177.7 247.4h0M177.5 247.1h0M187.9 248.0h0M85.4 248.1h0M86.2 248.2h0M92.3 248.1h0M97.0 248.5h0M99.8 248.2h0M111.0 248.2h0M112.0 248.4h0M113.8 248.1h0M114.2 248.8h0M115.5 248.4h0M120.8 248.1h0M121.5 248.5h0M122.3 248.5h0M122.0 248.9h0M124.0 248.3h0M124.5 248.9h0M126.8 248.5h0M129.0 248.3h0M136.0 248.6h0M135.0 248.5h0M135.9 248.8h0M137.3 248.3h0M138.6 248.1h0M146.1 249.0h0M147.8 248.4h0M147.4 248.2h0M147.9 248.3h0M151.2 248.7h0M156.0 248.3h0M155.7 248.2h0M155.1 248.1h0M155.3 248.4h0M156.9 248.2h0M157.8 248.8h0M158.5 248.2h0M159.6 248.7h0M161.0 248.4h0M160.1 248.9h0M183.9 249.0h0M192.7 248.3h0M85.5 249.2h0M86.7 249.5h0M88.0 249.3h0M90.5 249.8h0M96.7 249.6h0M97.5 249.2h0M97.2 249.9h0M99.9 249.6h0M108.3 249.2h0M108.1 249.5h0M108.4 249.2h0M112.6 249.9h0M113.2 249.1h0M116.7 249.3h0M121.0 249.3h0M121.9 249.9h0M121.3 249.6h0M122.6 249.4h0M128.6 249.1h0M130.2 249.0h0M131.8 249.1h0M132.7 249.2h0M135.8 249.5h0M138.0 249.7h0M139.5 249.9h0M141.1 250.0h0M143.8 249.2h0M143.8 249.4h0M144.3 249.6h0M145.9 250.0h0M145.5 249.0h0M148.8 249.7h0M150.3 249.4h0M152.8 249.2h0M153.3 249.3h0M153.7 249.5h0M157.8 249.6h0M157.5 249.7h0M159.7 249.7h0M160.3 249.4h0M165.3 249.9h0M167.6 250.0h0M170.9 249.4h0M184.4 249.2h0M189.5 249.8h0M204.6 249.6h0M204.9 249.0h0M71.7 250.4h0M96.7 250.0h0M104.8 250.5h0M105.7 250.5h0M107.6 250.3h0M107.5 250.0h0M108.7 250.1h0M111.4 250.6h0M114.5 250.2h0M121.2 250.8h0M123.0 250.4h0M131.4 250.8h0M132.2 250.5h0M132.4 250.4h0M136.4 250.0h0M138.9 250.5h0M139.6 250.1h0M150.9 250.8h0M154.4 250.6h0M155.1 250.5h0M155.8 250.5h0M156.1 250.3h0M161.4 250.5h0M164.6 250.8h0M172.2 250.6h0M175.6 250.4h0M180.9 250.3h0M183.0 250.7h0M183.8 250.5h0M190.3 250.1h0M196.0 250.6h0M82.2 251.4h0M99.8 251.5h0M102.2 251.7h0M102.3 251.8h0M103.6 251.3h0M104.7 251.0h0M104.0 251.9h0M104.0 251.0h0M105.4 251.5h0M107.7 251.1h0M108.4 251.2h0M110.1 251.8h0M111.6 251.4h0M113.8 251.3h0M115.1 251.4h0M118.3 251.3h0M122.1 252.0h0M124.1 251.7h0M124.7 251.7h0M125.8 251.2h0M129.4 251.9h0M130.1 251.5h0M130.1 251.9h0M130.9 251.3h0M134.4 251.0h0M134.0 251.6h0M138.4 251.7h0M140.1 251.3h0M142.6 251.9h0M144.1 251.7h0M146.1 251.7h0M147.2 252.0h0M147.3 251.1h0M151.2 251.8h0M157.9 251.1h0M159.0 251.2h0M160.0 251.7h0M161.3 252.0h0M162.7 251.9h0M172.8 251.3h0M173.8 251.4h0M180.1 251.6h0M194.3 251.0h0M194.1 251.9h0M68.7 252.1h0M75.1 252.0h0M97.8 252.6h0M103.5 252.9h0M104.1 252.5h0M113.8 252.2h0M113.5 252.4h0M115.9 252.9h0M116.1 252.7h0M118.0 252.7h0M119.4 252.9h0M119.3 252.7h0M120.1 252.9h0M120.3 252.3h0M122.1 252.4h0M125.6 252.6h0M128.4 252.4h0M129.6 252.3h0M131.0 252.4h0M134.4 253.0h0M135.2 252.0h0M140.2 252.1h0M142.7 252.2h0M144.3 252.6h0M146.1 252.2h0M147.7 252.3h0M150.0 252.3h0M153.7 252.8h0M154.5 252.3h0M155.5 252.2h0M161.2 252.3h0M175.8 252.2h0M179.4 252.9h0M189.6 252.6h0M193.6 252.3h0M71.2 253.9h0M94.6 253.2h0M97.4 253.7h0M99.2 253.7h0M112.7 253.0h0M112.7 253.7h0M114.8 253.5h0M116.7 253.9h0M120.3 253.9h0M121.8 253.7h0M123.3 253.4h0M123.8 253.6h0M128.6 253.3h0M129.4 253.4h0M129.2 253.4h0M129.4 253.2h0M130.9 253.7h0M132.6 253.0h0M133.6 253.3h0M136.1 253.7h0M137.8 253.2h0M137.4 253.6h0M137.9 253.2h0M139.1 254.0h0M140.2 253.2h0M146.1 253.8h0M146.1 253.7h0M149.6 253.2h0M151.4 253.4h0M152.8 253.8h0M155.3 253.1h0M156.0 253.5h0M158.5 253.5h0M161.3 253.0h0M161.3 253.4h0M170.0 253.5h0M172.2 253.7h0M188.8 253.9h0M195.8 253.2h0M84.2 254.5h0M85.1 254.6h0M86.6 254.3h0M93.3 254.5h0M100.2 255.0h0M102.6 254.8h0M103.3 254.8h0M108.2 254.5h0M109.5 254.9h0M110.3 254.3h0M113.4 254.6h0M113.5 254.8h0M114.0 254.1h0M116.5 254.5h0M116.1 254.3h0M119.0 254.8h0M120.5 254.5h0M122.3 254.1h0M122.9 254.3h0M123.1 254.2h0M124.7 254.6h0M124.8 254.2h0M125.4 254.1h0M126.0 254.7h0M125.5 255.0h0M125.9 254.3h0M126.9 254.1h0M128.0 254.1h0M133.4 254.8h0M134.2 254.4h0M135.0 254.5h0M135.5 254.4h0M142.7 254.8h0M145.4 254.6h0M146.9 254.1h0M153.8 254.9h0M160.8 254.5h0M173.4 254.8h0M202.5 254.7h0M70.9 255.7h0M82.3 255.9h0M89.4 255.8h0M109.1 255.2h0M110.8 255.1h0M111.5 255.4h0M112.9 255.8h0M115.1 255.0h0M117.7 255.6h0M118.8 255.4h0M119.9 255.5h0M124.4 255.5h0M130.1 255.5h0M132.5 255.1h0M133.2 255.9h0M138.6 255.0h0M143.6 255.7h0M148.0 255.8h0M148.3 255.3h0M149.0 255.9h0M149.7 255.6h0M151.7 255.5h0M153.0 255.3h0M152.3 256.0h0M153.4 255.7h0M154.4 255.3h0M155.8 255.3h0M158.5 255.5h0M161.1 255.4h0M163.3 255.5h0M174.1 255.5h0M177.0 255.8h0M178.9 255.5h0M192.0 255.3h0M195.7 255.3h0M204.2 255.4h0M77.5 256.3h0M86.8 256.2h0M87.3 256.5h0M99.8 256.9h0M100.9 256.4h0M101.9 256.3h0M102.3 257.0h0M102.4 256.3h0M104.6 256.5h0M104.8 256.9h0M104.9 257.0h0M105.6 256.3h0M105.2 256.9h0M105.8 256.4h0M108.8 256.2h0M109.2 256.7h0M111.8 256.9h0M117.0 257.0h0M117.2 256.1h0M118.7 256.9h0M118.6 256.8h0M119.3 256.6h0M124.6 256.8h0M125.8 256.6h0M125.2 256.3h0M127.1 256.4h0M127.6 256.0h0M130.9 256.0h0M130.2 256.3h0M131.9 256.8h0M133.0 256.7h0M136.1 256.1h0M138.7 256.3h0M140.8 256.3h0M140.7 256.9h0M141.9 256.6h0M153.9 256.6h0M158.6 256.6h0M159.7 256.2h0M164.6 256.9h0M165.6 256.1h0M171.2 256.2h0M196.7 256.5h0M74.3 257.9h0M80.6 257.4h0M91.5 257.9h0M92.4 257.5h0M94.8 257.4h0M99.9 257.2h0M106.3 257.1h0M107.4 257.2h0M107.6 257.1h0M109.5 257.1h0M114.9 257.4h0M114.5 257.6h0M116.3 257.1h0M118.1 257.2h0M119.4 257.1h0M120.9 257.8h0M120.0 257.5h0M122.3 257.8h0M127.0 257.7h0M128.2 257.3h0M128.6 257.6h0M132.5 257.1h0M135.7 257.1h0M135.2 257.8h0M149.1 257.1h0M156.6 257.1h0M159.7 257.6h0M161.5 257.3h0M162.1 257.5h0M164.5 257.9h0M176.2 257.1h0M74.1 258.3h0M75.9 258.7h0M75.0 258.3h0M86.7 258.3h0M86.3 258.4h0M92.4 258.9h0M92.2 258.5h0M94.3 258.4h0M97.0 258.9h0M98.0 258.9h0M98.9 258.4h0M104.8 258.8h0M106.8 258.6h0M109.0 258.5h0M116.3 258.2h0M117.9 258.4h0M117.5 258.2h0M117.6 258.1h0M120.2 258.5h0M122.9 258.8h0M127.2 258.4h0M128.6 258.5h0M128.7 258.2h0M128.5 258.6h0M129.3 258.1h0M130.8 258.6h0M130.3 258.4h0M134.3 258.7h0M137.3 258.0h0M142.9 258.1h0M143.1 258.5h0M144.6 258.4h0M146.9 258.0h0M153.2 258.1h0M158.0 258.2h0M161.5 258.3h0M161.9 258.2h0M187.9 258.8h0M70.0 259.9h0M89.7 259.3h0M90.9 259.9h0M94.5 259.6h0M94.6 259.1h0M100.8 259.2h0M103.9 259.7h0M105.4 259.1h0M105.3 259.3h0M106.9 259.1h0M107.1 259.3h0M108.3 260.0h0M110.6 259.2h0M110.1 259.1h0M114.0 259.3h0M123.5 259.4h0M123.1 259.3h0M123.4 259.7h0M124.3 259.3h0M125.9 259.0h0M126.3 259.4h0M127.5 259.3h0M133.5 259.0h0M134.4 259.4h0M136.6 259.2h0M137.6 259.7h0M139.7 259.3h0M145.8 259.9h0M145.3 259.2h0M147.5 259.4h0M148.1 259.0h0M157.6 259.4h0M157.3 259.1h0M173.8 259.6h0M174.6 259.8h0M201.0 259.4h0M75.7 260.1h0M80.3 260.9h0M87.3 260.8h0M91.2 260.7h0M94.7 260.1h0M95.6 260.4h0M96.1 261.0h0M97.6 260.8h0M102.8 260.4h0M104.7 260.1h0M106.0 260.1h0M108.2 260.2h0M112.7 260.1h0M112.8 260.9h0M112.4 260.4h0M113.0 260.7h0M114.3 260.4h0M116.4 260.2h0M118.8 260.4h0M119.4 260.7h0M121.5 260.7h0M127.3 260.1h0M127.4 260.1h0M128.2 260.7h0M130.6 260.8h0M133.3 261.0h0M135.6 260.7h0M163.4 260.4h0M165.7 260.6h0M171.7 260.5h0M175.2 260.6h0M198.8 260.6h0M67.1 261.0h0M80.8 261.6h0M91.9 261.3h0M96.4 261.2h0M97.6 261.5h0M99.3 261.9h0M106.8 261.8h0M111.4 261.5h0M113.0 261.5h0M113.4 261.2h0M113.6 261.2h0M114.4 261.4h0M114.7 261.9h0M117.1 261.6h0M120.7 261.8h0M120.7 261.3h0M126.5 261.9h0M128.4 262.0h0M130.9 262.0h0M139.9 262.0h0M145.1 261.6h0M168.7 261.5h0M169.3 261.8h0M170.9 261.3h0M188.0 261.1h0M76.0 262.1h0M79.7 262.8h0M82.8 262.4h0M92.0 262.5h0M100.8 262.7h0M101.5 262.2h0M105.2 262.6h0M107.0 262.5h0M112.9 262.7h0M113.2 262.5h0M114.1 262.2h0M114.6 262.8h0M117.1 262.3h0M122.9 262.1h0M123.5 262.6h0M127.9 262.7h0M130.0 262.5h0M133.1 262.2h0M140.5 262.2h0M145.2 262.2h0M145.1 262.2h0M147.7 262.6h0M147.1 262.1h0M159.2 262.0h0M171.3 263.0h0M176.8 262.3h0M204.6 262.2h0M69.5 263.7h0M91.0 263.7h0M94.9 263.0h0M96.4 263.2h0M100.7 263.5h0M102.0 263.3h0M101.9 263.5h0M102.3 263.6h0M104.6 263.4h0M111.2 263.6h0M113.9 263.1h0M113.6 263.5h0M114.9 263.6h0M116.6 263.7h0M117.7 263.5h0M130.0 263.6h0M132.6 263.9h0M132.4 263.9h0M138.2 263.2h0M139.5 263.1h0M141.1 263.4h0M143.6 263.2h0M149.0 263.2h0M170.6 264.0h0M172.4 263.1h0M94.4 264.7h0M95.3 264.9h0M102.5 265.0h0M106.6 264.1h0M109.5 264.5h0M109.1 264.8h0M110.8 264.8h0M112.3 265.0h0M113.5 264.1h0M114.9 265.0h0M118.0 264.4h0M119.0 264.5h0M121.9 265.0h0M125.1 264.5h0M126.7 264.8h0M128.4 264.6h0M132.3 264.1h0M134.5 264.5h0M137.9 264.2h0M137.1 264.1h0M138.6 264.4h0M156.8 264.8h0M164.1 264.6h0M173.6 264.6h0M184.4 264.5h0M185.8 264.2h0M195.7 264.5h0M62.3 265.5h0M96.1 265.4h0M97.6 265.0h0M101.9 265.6h0M104.6 266.0h0M109.9 266.0h0M110.9 265.8h0M110.5 265.4h0M113.4 265.0h0M113.9 265.7h0M113.1 265.3h0M115.5 265.8h0M118.3 265.7h0M119.7 265.1h0M124.7 265.7h0M126.0 265.3h0M133.9 266.0h0M138.9 265.9h0M140.1 265.8h0M141.7 265.1h0M164.0 265.3h0M170.3 266.0h0M173.9 266.0h0M203.7 265.0h0M70.0 266.7h0M76.9 266.5h0M81.9 266.7h0M85.0 266.2h0M87.5 266.7h0M93.0 267.0h0M95.7 266.3h0M95.9 266.0h0M96.3 266.5h0M100.1 266.3h0M104.7 266.1h0M113.3 266.9h0M115.7 266.8h0M116.6 266.2h0M125.9 266.2h0M128.7 266.6h0M141.0 266.6h0M145.0 266.3h0M145.2 266.7h0M146.1 267.0h0M148.6 266.7h0M195.4 266.4h0M73.1 267.8h0M86.9 267.8h0M87.0 267.8h0M89.8 267.6h0M92.0 267.9h0M96.8 267.3h0M99.3 267.5h0M101.6 267.3h0M101.1 267.1h0M104.0 267.8h0M107.5 267.0h0M110.0 268.0h0M109.3 267.7h0M113.6 267.2h0M113.1 267.3h0M114.4 267.9h0M117.9 267.2h0M122.1 267.6h0M129.4 267.6h0M131.2 267.8h0M135.6 267.6h0M138.5 267.9h0M149.1 267.4h0M159.1 267.2h0M160.3 267.3h0M165.1 267.6h0M189.7 267.5h0M198.7 267.6h0M62.2 268.6h0M75.7 268.7h0M84.9 268.5h0M88.0 269.0h0M93.9 268.1h0M98.3 268.2h0M104.8 268.5h0M105.6 268.0h0M108.0 268.5h0M109.8 268.5h0M117.5 268.6h0M124.8 268.0h0M128.6 268.3h0M133.8 268.3h0M151.6 268.5h0M177.1 268.0h0M180.7 268.4h0M196.0 268.0h0M84.4 269.6h0M88.6 269.2h0M89.7 269.6h0M90.2 269.5h0M92.7 269.8h0M95.2 269.3h0M107.5 269.4h0M109.1 269.2h0M109.3 269.9h0M117.7 269.3h0M119.1 269.7h0M119.4 270.0h0M120.8 270.0h0M122.9 269.0h0M125.5 269.1h0M137.6 269.1h0M161.7 269.7h0M164.6 269.4h0M175.1 269.9h0M192.0 269.8h0M70.1 270.6h0M71.0 270.0h0M74.7 270.7h0M84.4 270.3h0M84.7 270.7h0M85.3 270.0h0M86.6 270.1h0M88.0 270.4h0M97.8 270.9h0M98.7 270.1h0M103.9 270.9h0M104.5 270.7h0M107.1 270.8h0M110.3 270.0h0M111.5 270.0h0M113.1 270.2h0M114.0 270.0h0M122.7 270.3h0M124.2 270.0h0M125.3 270.8h0M126.7 270.2h0M141.1 270.5h0M146.9 270.0h0M153.9 270.8h0M156.8 270.1h0M162.7 270.8h0M169.0 270.2h0M181.9 270.3h0M191.7 270.5h0M79.7 271.9h0M81.3 271.4h0M91.7 271.4h0M94.9 271.2h0M105.3 271.1h0M106.0 271.6h0M106.3 271.8h0M107.1 272.0h0M108.4 271.2h0M112.2 271.7h0M116.4 271.7h0M116.7 271.3h0M117.9 271.6h0M118.6 271.4h0M120.4 271.1h0M122.5 271.6h0M126.2 271.3h0M132.1 271.6h0M134.3 271.1h0M166.6 271.1h0M171.3 271.3h0M174.7 271.2h0M175.9 271.9h0M180.6 271.3h0M183.8 271.1h0M184.5 271.9h0M89.3 272.9h0M94.8 272.2h0M109.8 272.4h0M114.3 272.9h0M116.4 272.3h0M117.5 272.6h0M121.8 272.4h0M121.3 272.7h0M123.4 272.7h0M127.9 272.5h0M135.2 272.3h0M142.1 272.4h0M156.3 272.9h0M159.1 272.4h0M160.2 272.4h0M163.6 272.7h0M163.9 272.4h0M72.1 273.2h0M77.6 273.4h0M80.1 273.9h0M81.9 273.7h0M85.7 273.2h0M94.0 273.4h0M96.8 273.5h0M97.7 273.1h0M101.4 273.6h0M107.1 273.0h0M109.2 273.6h0M111.3 273.7h0M116.1 273.8h0M129.7 273.2h0M132.0 273.0h0M138.4 273.4h0M139.6 273.0h0M139.1 273.4h0M142.2 273.4h0M145.6 273.5h0M146.6 273.8h0M150.7 273.7h0M151.5 273.3h0M154.3 273.3h0M167.7 273.1h0M183.2 273.1h0M185.0 273.5h0M185.3 273.4h0M189.8 273.1h0M72.4 274.7h0M83.0 274.4h0M84.4 274.1h0M90.7 274.3h0M93.5 274.1h0M93.8 274.9h0M100.6 274.5h0M100.3 274.6h0M101.8 274.2h0M106.1 274.1h0M108.0 274.3h0M107.7 274.5h0M108.8 274.0h0M109.9 274.8h0M111.3 274.4h0M114.7 274.5h0M117.3 274.2h0M123.1 274.6h0M127.2 274.2h0M137.4 274.0h0M157.7 274.8h0M168.3 274.1h0M172.5 274.5h0M173.2 274.1h0M187.3 274.9h0M204.9 274.5h0M67.8 275.8h0M83.4 275.8h0M86.6 275.1h0M91.4 275.1h0M97.1 275.5h0M97.0 275.8h0M116.1 275.8h0M117.1 275.1h0M121.0 275.4h0M122.9 275.8h0M126.2 275.8h0M138.4 275.1h0M142.3 275.0h0M155.9 275.7h0M200.7 275.2h0M75.3 276.3h0M82.7 276.2h0M89.0 276.3h0M94.5 276.1h0M95.7 276.7h0M95.5 276.4h0M98.4 276.0h0M107.2 276.7h0M108.1 277.0h0M109.9 276.4h0M112.2 276.0h0M116.9 276.3h0M119.0 276.8h0M123.4 276.4h0M139.4 276.9h0M150.2 276.3h0M158.1 276.4h0M163.4 276.9h0M170.8 276.6h0M171.6 276.1h0M193.5 276.3h0M196.1 276.3h0M68.8 277.0h0M78.0 277.6h0M83.3 277.3h0M83.7 277.1h0M83.0 277.9h0M90.7 277.4h0M102.3 277.3h0M123.0 277.9h0M128.0 277.9h0M139.9 277.2h0M143.1 277.9h0M147.9 277.7h0M188.7 277.2h0M87.9 278.3h0M88.9 278.9h0M89.1 278.2h0M106.6 278.9h0M122.0 278.6h0M123.6 279.0h0M124.7 278.3h0M138.1 278.5h0M150.6 278.7h0M171.4 278.5h0M180.4 279.0h0M183.8 278.5h0M188.9 278.7h0M89.2 279.6h0M96.0 279.7h0M96.5 279.7h0M101.7 279.1h0M102.1 279.3h0M104.7 279.8h0M107.5 279.1h0M114.4 279.0h0M142.8 279.7h0M144.2 279.9h0M148.5 279.2h0M158.1 279.5h0M181.3 279.1h0M181.7 279.8h0M68.9 281.0h0M73.7 280.8h0M74.9 280.2h0M97.6 280.4h0M97.0 280.2h0M109.8 280.5h0M112.7 280.8h0M112.7 280.2h0M128.2 280.4h0M130.2 280.8h0M135.5 281.0h0M139.9 281.0h0M155.3 280.5h0M184.2 280.0h0M87.6 281.5h0M92.0 281.7h0M94.1 281.3h0M97.3 281.4h0M99.1 281.4h0M99.1 281.7h0M99.1 281.2h0M109.0 281.1h0M111.0 281.8h0M110.4 281.5h0M118.9 281.8h0M183.3 281.9h0M194.2 281.4h0M69.1 282.4h0M96.0 282.5h0M105.3 282.1h0M120.2 282.1h0M136.5 282.3h0M141.1 282.6h0M160.1 282.8h0M167.0 282.2h0M179.8 282.0h0M185.9 282.0h0M192.4 282.2h0M71.9 283.4h0M81.4 283.2h0M90.7 283.6h0M94.0 283.3h0M95.3 283.7h0M98.7 283.3h0M99.6 283.9h0M101.1 283.8h0M101.7 283.1h0M106.2 283.6h0M107.2 283.2h0M107.3 283.9h0M115.0 283.0h0M122.1 283.6h0M161.2 283.9h0M161.6 283.9h0M163.9 283.6h0M169.1 283.6h0M176.2 283.2h0M78.0 284.8h0M91.5 284.6h0M91.7 284.8h0M100.4 284.7h0M120.4 284.6h0M123.6 284.0h0M133.2 285.0h0M138.9 284.7h0M146.9 284.5h0M159.7 284.4h0M176.5 284.9h0M74.1 285.9h0M79.5 285.6h0M86.2 286.0h0M89.8 285.7h0M90.3 285.8h0M91.4 285.1h0M102.1 285.8h0M102.2 285.1h0M114.1 286.0h0M119.3 285.9h0M139.9 285.5h0M154.9 285.9h0M78.7 286.6h0M93.9 286.9h0M103.5 286.5h0M109.3 286.1h0M128.9 286.9h0M136.0 286.2h0M163.7 286.9h0M175.2 286.6h0M69.5 287.6h0M78.7 287.4h0M80.6 287.5h0M82.3 287.7h0M83.9 287.1h0M87.4 287.6h0M89.9 287.7h0M91.1 287.1h0M117.9 287.1h0M122.6 287.0h0M125.2 287.7h0M125.8 287.3h0M126.5 287.3h0M129.7 287.6h0M145.4 287.4h0M158.5 287.1h0M162.3 287.4h0M166.4 287.5h0M75.3 288.9h0M76.1 288.9h0M77.1 288.3h0M98.3 288.8h0M103.2 288.2h0M106.6 288.6h0M111.0 288.9h0M123.4 288.5h0M132.6 289.0h0M144.5 288.4h0M157.6 288.0h0M177.2 288.3h0M196.5 288.6h0M73.0 289.1h0M84.1 289.9h0M84.1 289.5h0M84.5 289.8h0M84.1 289.8h0M95.7 289.5h0M97.3 289.5h0M102.6 289.1h0M106.8 289.9h0M111.4 289.9h0M127.8 289.0h0M141.9 289.4h0M153.7 289.9h0M72.3 290.4h0M72.9 290.0h0M87.8 290.6h0M88.6 290.5h0M103.2 290.4h0M107.7 290.7h0M122.0 290.6h0M147.6 290.8h0M180.3 290.1h0M197.1 290.9h0M62.4 291.5h0M65.7 291.6h0M69.1 291.0h0M73.5 291.3h0M82.7 291.7h0M82.6 291.3h0M88.4 291.5h0M89.0 291.4h0M110.9 292.0h0M111.5 291.6h0M112.9 292.0h0M114.9 291.6h0M126.0 291.9h0M135.0 291.5h0M152.9 291.2h0M159.2 291.2h0M184.9 291.6h0M104.2 292.6h0M123.2 292.8h0M131.3 292.7h0M132.7 292.2h0M140.7 292.4h0M142.6 292.1h0M153.1 292.7h0M154.0 292.9h0M166.0 292.3h0M186.8 292.2h0M191.6 292.4h0M198.9 292.6h0M84.9 293.6h0M88.3 293.7h0M91.0 293.4h0M98.0 293.3h0M98.9 293.0h0M128.8 293.5h0M146.6 293.5h0M180.2 293.7h0M183.1 293.6h0M75.3 294.3h0M84.4 294.4h0M93.9 294.7h0M102.7 294.1h0M102.9 294.9h0M103.6 294.3h0M115.8 294.1h0M122.9 294.6h0M133.8 294.4h0M140.0 294.9h0M150.9 294.6h0M94.4 296.0h0M112.7 295.3h0M118.7 295.5h0M125.4 295.3h0M132.0 295.9h0M140.0 295.7h0M141.1 296.0h0M141.6 295.4h0M153.6 295.1h0M158.5 295.8h0M159.6 295.9h0M104.5 296.1h0M112.5 296.1h0M113.9 296.5h0M125.4 296.5h0M143.8 296.7h0M147.0 297.0h0M147.9 296.0h0M150.4 297.0h0M155.2 296.3h0M162.0 296.8h0M197.3 296.5h0M74.9 297.3h0M76.1 297.3h0M88.7 297.8h0M100.5 297.3h0M101.8 297.3h0M103.5 297.0h0M129.7 297.5h0M139.3 297.0h0M155.8 297.5h0M167.4 297.8h0M82.4 298.4h0M97.7 298.9h0M115.8 298.0h0M154.3 298.8h0M166.3 298.7h0M167.4 298.5h0M168.5 298.4h0M72.9 300.0h0M73.4 299.9h0M119.1 299.7h0M129.8 300.0h0M143.0 299.8h0M162.4 299.8h0M135.8 300.4h0M148.0 300.4h0M158.5 300.5h0M196.3 300.1h0M70.7 301.1h0M75.4 301.3h0M77.3 301.2h0M101.6 301.8h0M111.0 301.8h0M157.8 301.6h0M163.9 301.6h0M169.6 301.4h0M193.3 301.1h0M197.3 302.0h0M68.0 302.3h0M99.5 302.3h0M103.2 303.0h0M122.4 302.1h0M124.6 302.8h0M166.7 302.1h0M169.2 302.3h0M87.5 303.3h0M90.6 303.3h0M124.1 303.0h0M133.9 303.3h0M148.8 303.7h0M162.1 303.5h0M188.2 303.0h0M71.5 304.8h0M85.7 304.6h0M98.4 304.7h0M137.7 304.8h0M140.3 304.6h0M152.4 305.0h0M152.4 304.6h0M85.5 305.9h0M124.6 305.9h0M155.5 305.6h0M177.9 305.4h0M131.7 306.3h0M136.7 306.2h0M157.5 306.7h0M171.1 306.9h0M75.8 307.9h0M91.3 308.0h0M118.1 307.2h0M134.5 307.7h0M153.5 307.5h0M159.9 307.6h0M162.3 307.2h0M167.7 308.0h0M67.5 308.2h0M76.9 308.3h0M99.7 308.7h0M116.0 308.2h0M116.0 308.3h0M128.8 308.5h0M129.0 308.9h0M134.8 308.1h0M136.2 308.3h0M139.4 308.4h0M155.0 308.8h0M156.4 309.0h0M160.4 308.5h0M98.3 310.0h0M117.3 309.9h0M146.9 309.1h0M164.4 309.3h0M191.4 309.2h0M132.6 310.6h0M147.1 310.1h0M73.4 311.5h0M97.1 311.6h0M133.1 312.0h0M159.1 311.4h0M177.1 311.5h0M179.7 311.3h0M179.4 311.2h0M180.9 311.7h0M103.8 312.3h0M118.7 312.1h0M136.1 312.5h0M159.7 312.5h0" stroke="#b1b1b1" stroke-width="2.80" stroke-linecap="round" fill="none"/>
<path d="M126.2 8.0V312.9M192.7 8.0V312.9M259.2 8.0V312.9M325.7 8.0V312.9M59.7 41.9H358.9M59.7 75.8H358.9M59.7 109.6H358.9M59.7 143.5H358.9M59.7 177.4H358.9M59.7 211.3H358.9M59.7 245.1H358.9M59.7 279.0H358.9" stroke="#666" stroke-width="0.9" stroke-dasharray="1 1.7" fill="none"/>
<path d="M57.7 314.9L360.9 6.0" stroke="#000" stroke-width="3.2" fill="none"/>
<path d="M133.0 200.3V258.6M130.5 200.3h5M130.5 258.6h5M145.9 195.2V245.9M143.4 195.2h5M143.4 245.9h5M159.2 192.4V234.6M156.7 192.4h5M156.7 234.6h5M172.7 183.4V215.8M170.2 183.4h5M170.2 215.8h5M185.9 175.5V200.3M183.4 175.5h5M183.4 200.3h5M199.2 159.9V183.0M196.7 159.9h5M196.7 183.0h5M212.1 145.8V167.5M209.6 145.8h5M209.6 167.5h5M225.6 131.7V152.5M223.1 131.7h5M223.1 152.5h5M238.9 116.8V137.3M236.4 116.8h5M236.4 137.3h5M252.0 102.3V120.8M249.5 102.3h5M249.5 120.8h5M265.4 84.2V105.9M262.9 84.2h5M262.9 105.9h5M279.2 74.1V93.8M276.7 74.1h5M276.7 93.8h5M292.3 51.3V77.2M289.8 51.3h5M289.8 77.2h5M305.4 37.5V54.4M302.9 37.5h5M302.9 54.4h5M318.9 32.7V43.9M316.4 32.7h5M316.4 43.9h5" stroke="#06068a" stroke-width="2.0" fill="none"/>
<polygon points="133.00,225.25 129.75,227.12 129.75,230.88 133.00,232.75 136.25,230.88 136.25,227.12" fill="#2090ff" stroke="#06068a" stroke-width="2.3"/>
<polygon points="145.90,216.85 142.65,218.72 142.65,222.47 145.90,224.35 149.15,222.47 149.15,218.72" fill="#2090ff" stroke="#06068a" stroke-width="2.3"/>
<polygon points="159.20,209.75 155.95,211.62 155.95,215.38 159.20,217.25 162.45,215.38 162.45,211.62" fill="#2090ff" stroke="#06068a" stroke-width="2.3"/>
<polygon points="172.70,196.25 169.45,198.12 169.45,201.88 172.70,203.75 175.95,201.88 175.95,198.12" fill="#2090ff" stroke="#06068a" stroke-width="2.3"/>
<polygon points="185.90,182.45 182.65,184.32 182.65,188.07 185.90,189.95 189.15,188.07 189.15,184.32" fill="#2090ff" stroke="#06068a" stroke-width="2.3"/>
<polygon points="199.20,168.05 195.95,169.93 195.95,173.68 199.20,175.55 202.45,173.68 202.45,169.93" fill="#2090ff" stroke="#06068a" stroke-width="2.3"/>
<polygon points="212.10,153.05 208.85,154.93 208.85,158.68 212.10,160.55 215.35,158.68 215.35,154.93" fill="#2090ff" stroke="#06068a" stroke-width="2.3"/>
<polygon points="225.60,138.05 222.35,139.93 222.35,143.68 225.60,145.55 228.85,143.68 228.85,139.93" fill="#2090ff" stroke="#06068a" stroke-width="2.3"/>
<polygon points="238.90,122.85 235.65,124.72 235.65,128.47 238.90,130.35 242.15,128.47 242.15,124.72" fill="#2090ff" stroke="#06068a" stroke-width="2.3"/>
<polygon points="252.00,108.45 248.75,110.33 248.75,114.08 252.00,115.95 255.25,114.08 255.25,110.33" fill="#2090ff" stroke="#06068a" stroke-width="2.3"/>
<polygon points="265.40,91.75 262.15,93.62 262.15,97.38 265.40,99.25 268.65,97.38 268.65,93.62" fill="#2090ff" stroke="#06068a" stroke-width="2.3"/>
<polygon points="279.20,80.15 275.95,82.03 275.95,85.78 279.20,87.65 282.45,85.78 282.45,82.03" fill="#2090ff" stroke="#06068a" stroke-width="2.3"/>
<polygon points="292.30,60.15 289.05,62.02 289.05,65.78 292.30,67.65 295.55,65.78 295.55,62.02" fill="#2090ff" stroke="#06068a" stroke-width="2.3"/>
<polygon points="305.40,42.15 302.15,44.02 302.15,47.77 305.40,49.65 308.65,47.77 308.65,44.02" fill="#2090ff" stroke="#06068a" stroke-width="2.3"/>
<polygon points="318.90,34.55 315.65,36.42 315.65,40.17 318.90,42.05 322.15,40.17 322.15,36.42" fill="#2090ff" stroke="#06068a" stroke-width="2.3"/>
</g>
<rect x="67.1" y="15.7" width="194.3" height="77.2" rx="3" fill="#fff" fill-opacity="0.75" stroke="#999" stroke-width="1"/>
<path d="M72.8 29H91.8" stroke="#000" stroke-width="3.2"/>
<circle cx="82.4" cy="54.9" r="1.3" fill="#b1b1b1"/>
<polygon points="82.40,75.45 79.15,77.33 79.15,81.08 82.40,82.95 85.65,81.08 85.65,77.33" fill="#2090ff" stroke="#06068a" stroke-width="2.3"/>
<text font-size="16"><tspan x="98.6" y="34.9">Equality</tspan><tspan x="98.2" y="58.8">17</tspan><tspan x="113.2" y="58.8" font-size="16.5" font-style="italic">″</tspan><tspan x="124.3" y="58.8">resolution point</tspan><tspan x="98.6" y="83.9">Median</tspan><tspan x="168.6" y="83.9">robust scatter</tspan></text>
<path d="M152.4 78.2H163.3M157.85 72.9V83.3M152.4 83.2H163.3" stroke="#000" stroke-width="0.95"/>
<rect x="59.7" y="8.0" width="299.2" height="304.9" fill="none" stroke="#303030" stroke-width="1.45"/>
<path d="M59.7 312.9v-5M59.7 8.0v5M126.2 312.9v-5M126.2 8.0v5M192.7 312.9v-5M192.7 8.0v5M259.2 312.9v-5M259.2 8.0v5M325.7 312.9v-5M325.7 8.0v5M59.7 8.0h5M358.9 8.0h-5M59.7 41.9h5M358.9 41.9h-5M59.7 75.8h5M358.9 75.8h-5M59.7 109.6h5M358.9 109.6h-5M59.7 143.5h5M358.9 143.5h-5M59.7 177.4h5M358.9 177.4h-5M59.7 211.3h5M358.9 211.3h-5M59.7 245.1h5M358.9 245.1h-5M59.7 279.0h5M358.9 279.0h-5M59.7 312.9h5M358.9 312.9h-5" stroke="#222" stroke-width="1.1" fill="none"/>
<text x="56.8" y="13.7" font-size="16.8" text-anchor="end">2.5</text>
<text x="56.8" y="47.6" font-size="16.8" text-anchor="end">2.0</text>
<text x="56.8" y="81.5" font-size="16.8" text-anchor="end">1.5</text>
<text x="56.8" y="115.3" font-size="16.8" text-anchor="end">1.0</text>
<text x="56.8" y="149.2" font-size="16.8" text-anchor="end">0.5</text>
<text x="56.8" y="183.1" font-size="16.8" text-anchor="end">0.0</text>
<text x="56.8" y="217.0" font-size="16.8" text-anchor="end">0.5</text>
<text x="56.8" y="250.8" font-size="16.8" text-anchor="end">1.0</text>
<text x="56.8" y="284.7" font-size="16.8" text-anchor="end">1.5</text>
<text x="56.8" y="318.6" font-size="16.8" text-anchor="end">2.0</text>
<text x="60.3" y="328.7" font-size="16.8">2</text>
<text x="126.8" y="328.7" font-size="16.8">1</text>
<text x="192.7" y="328.7" font-size="16.8" text-anchor="middle">0</text>
<text x="259.2" y="328.7" font-size="16.8" text-anchor="middle">1</text>
<text x="325.7" y="328.7" font-size="16.8" text-anchor="middle">2</text>
<text font-size="15.8" y="348.4"><tspan x="88.8">log</tspan><tspan x="109.7" y="352.4" font-size="11.2">10</tspan><tspan x="125.8" y="348.4" textLength="182.8" lengthAdjust="spacing">Normalized WISE3 [MJy sr</tspan><tspan x="309.2" y="342.3" font-size="11.2">−1</tspan><tspan x="322.9" y="348.4">]</tspan></text>
<g transform="translate(15.2,247.2) rotate(-90)"><text font-size="15.8" y="0"><tspan x="0">log</tspan><tspan x="20.6" y="4" font-size="11.2">10</tspan><tspan x="36.6" y="0" textLength="119" lengthAdjust="spacing">CO (2-1) [K km s</tspan><tspan x="156.6" y="-6.2" font-size="11.2">−1</tspan><tspan x="166.9" y="0">]</tspan></text></g>
<g clip-path="url(#cr)">
<rect x="439.0" y="151.5" width="240.0" height="45.2" fill="#e6e6e6"/>
<path d="M439.0 173.9H679.0" stroke="#7c7c7c" stroke-width="4.2"/>
<path d="M459.0 13.1V334.7M559.0 13.1V334.7M659.0 13.1V334.7M439.0 66.7H679.0M439.0 120.3H679.0M439.0 227.5H679.0M439.0 281.1H679.0" stroke="#666" stroke-width="0.9" stroke-dasharray="1 1.7" fill="none"/>
<polygon points="475.9,0.0 475.6,13.0 475.0,40.0 474.3,60.0 472.9,85.0 471.3,105.0 469.0,122.0 469.4,140.0 470.0,150.0 470.9,160.0 472.2,170.0 473.6,180.3 480.8,180.3 482.2,170.0 483.5,160.0 484.4,150.0 485.0,140.0 485.4,122.0 483.1,105.0 481.5,85.0 480.1,60.0 479.4,40.0 478.8,13.0 478.5,0.0" fill="rgba(240,120,120,0.38)" stroke="rgba(235,110,110,0.55)" stroke-width="0.9" stroke-linejoin="round"/>
<polygon points="516.4,35.5 516.4,80.0 516.2,120.0 515.3,140.0 513.0,155.0 510.3,170.0 509.6,185.0 510.5,200.0 512.0,207.0 513.1,215.0 514.8,225.0 515.6,240.0 516.1,255.0 516.6,280.0 516.7,334.7 517.7,334.7 517.8,280.0 518.3,255.0 518.8,240.0 519.6,225.0 521.3,215.0 522.4,207.0 523.9,200.0 524.8,185.0 524.1,170.0 521.4,155.0 519.1,140.0 518.2,120.0 518.0,80.0 518.0,35.5" fill="rgba(100,160,240,0.42)" stroke="rgba(80,115,225,0.6)" stroke-width="0.9" stroke-linejoin="round"/>
<polygon points="556.7,0.0 556.6,60.0 556.1,100.0 555.4,125.0 554.4,140.0 552.4,155.0 550.4,170.0 549.6,178.0 550.6,190.0 551.9,200.0 553.8,210.0 554.8,220.0 555.8,227.0 556.7,255.0 557.0,286.3 558.2,286.3 558.5,255.0 559.4,227.0 560.4,220.0 561.4,210.0 563.3,200.0 564.6,190.0 565.6,178.0 564.8,170.0 562.8,155.0 560.8,140.0 559.8,125.0 559.1,100.0 558.6,60.0 558.5,0.0" fill="rgba(100,160,240,0.42)" stroke="rgba(80,115,225,0.6)" stroke-width="0.9" stroke-linejoin="round"/>
<polygon points="596.4,0.0 596.3,50.0 595.7,75.0 594.7,95.0 592.6,115.0 590.9,130.0 589.7,142.0 589.2,152.0 590.0,165.0 591.2,175.0 592.6,185.0 593.7,195.0 594.6,210.0 595.1,225.0 595.3,239.1 599.1,239.1 599.3,225.0 599.8,210.0 600.7,195.0 601.8,185.0 603.2,175.0 604.4,165.0 605.2,152.0 604.7,142.0 603.5,130.0 601.8,115.0 599.7,95.0 598.7,75.0 598.1,50.0 598.0,0.0" fill="rgba(100,160,240,0.42)" stroke="rgba(80,115,225,0.6)" stroke-width="0.9" stroke-linejoin="round"/>
<polygon points="635.8,0.0 635.5,50.0 634.3,95.0 631.9,120.0 630.2,140.0 629.4,160.0 629.7,180.0 630.9,200.0 632.7,225.0 634.7,245.0 636.0,262.0 636.5,280.0 636.7,334.7 637.7,334.7 637.9,280.0 638.4,262.0 639.7,245.0 641.7,225.0 643.5,200.0 644.7,180.0 645.0,160.0 644.2,140.0 642.5,120.0 640.1,95.0 638.9,50.0 638.6,0.0" fill="rgba(100,160,240,0.42)" stroke="rgba(80,115,225,0.6)" stroke-width="0.9" stroke-linejoin="round"/>
<path d="M477.2 69.5V152.5" stroke="#b01018" stroke-width="3.2"/>
<path d="M517.2 159.6V208.7M557.6 150.1V197.8M597.2 115.0V175.6M637.2 89.3V191.7" stroke="#050a82" stroke-width="3.2"/>
<circle cx="477.2" cy="122.2" r="4.8" fill="#f77a6e" stroke="#c0202a" stroke-width="2.9"/>
<circle cx="517.2" cy="181.8" r="4.8" fill="#2c97ff" stroke="#050a82" stroke-width="2.9"/>
<circle cx="557.6" cy="174.9" r="4.8" fill="#2c97ff" stroke="#050a82" stroke-width="2.9"/>
<circle cx="597.2" cy="151.5" r="4.8" fill="#2c97ff" stroke="#050a82" stroke-width="2.9"/>
<circle cx="637.2" cy="166.0" r="4.8" fill="#2c97ff" stroke="#050a82" stroke-width="2.9"/>
</g>
<text font-size="12" y="270.5"><tspan x="447.8" textLength="63.6" lengthAdjust="spacingAndGlyphs">WISE3 (W3)</tspan><tspan x="531.2" textLength="55.1" lengthAdjust="spacingAndGlyphs">SFR to W3</tspan><tspan x="605.6" font-style="italic">l</tspan><tspan x="618">disk to W3</tspan></text>
<g transform="translate(612.3,269.8) scale(1.45)"><path d="M0,-1.9 L0.45,-0.6 L1.8,-0.6 L0.7,0.25 L1.1,1.55 L0,0.75 L-1.1,1.55 L-0.7,0.25 L-1.8,-0.6 L-0.45,-0.6Z" fill="#000"/></g>
<text font-size="12" y="296.9"><tspan x="484.9" textLength="68.7" lengthAdjust="spacingAndGlyphs">WISE4 to W3</tspan><tspan x="555.2" textLength="34.3" lengthAdjust="spacingAndGlyphs">WISE1</tspan><tspan x="597.5">ϒ</tspan><tspan x="614">to W3</tspan></text>
<g transform="translate(607.4,296.0) scale(1.45)"><path d="M0,-1.9 L0.45,-0.6 L1.8,-0.6 L0.7,0.25 L1.1,1.55 L0,0.75 L-1.1,1.55 L-0.7,0.25 L-1.8,-0.6 L-0.45,-0.6Z" fill="#000"/></g>
<path d="M590.1 292.6H597.1M593.6 289.1V296.1" stroke="#000" stroke-width="0.9"/>
<rect x="540.7" y="18.6" width="134.1" height="32.8" rx="3" fill="#fff" fill-opacity="0.75" stroke="#999" stroke-width="1"/>
<circle cx="550.3" cy="27.3" r="4.8" fill="#f77a6e" stroke="#c0202a" stroke-width="2.9"/>
<circle cx="550.3" cy="42.2" r="4.8" fill="#2c97ff" stroke="#050a82" stroke-width="2.9"/>
<text font-size="10.2"><tspan x="561.1" y="30.5">Aperture correction</tspan><tspan x="561.1" y="45.4">Ratio to WISE3 correction</tspan></text>
<rect x="439.0" y="13.1" width="240.0" height="321.6" fill="none" stroke="#303030" stroke-width="1.45"/>
<path d="M459.0 334.7v-5M459.0 13.1v5M559.0 334.7v-5M559.0 13.1v5M659.0 334.7v-5M659.0 13.1v5M439.0 13.1h5M679.0 13.1h-5M439.0 66.7h5M679.0 66.7h-5M439.0 120.3h5M679.0 120.3h-5M439.0 173.9h5M679.0 173.9h-5M439.0 227.5h5M679.0 227.5h-5M439.0 281.1h5M679.0 281.1h-5M439.0 334.7h5M679.0 334.7h-5" stroke="#222" stroke-width="1.1" fill="none"/>
<text x="436.3" y="18.8" font-size="16.8" text-anchor="end">0.3</text>
<text x="681.0" y="18.8" font-size="16.8">0.3</text>
<text x="436.3" y="72.4" font-size="16.8" text-anchor="end">0.2</text>
<text x="681.0" y="72.4" font-size="16.8">0.2</text>
<text x="436.3" y="126.0" font-size="16.8" text-anchor="end">0.1</text>
<text x="681.0" y="126.0" font-size="16.8">0.1</text>
<text x="436.3" y="179.6" font-size="16.8" text-anchor="end">0.0</text>
<text x="681.0" y="179.6" font-size="16.8">0.0</text>
<text x="436.3" y="233.2" font-size="16.8" text-anchor="end">0.1</text>
<text x="692.3" y="233.2" font-size="16.8">0.1</text>
<text x="436.3" y="286.8" font-size="16.8" text-anchor="end">0.2</text>
<text x="692.3" y="286.8" font-size="16.8">0.2</text>
<text x="436.3" y="340.4" font-size="16.8" text-anchor="end">0.3</text>
<text x="692.3" y="340.4" font-size="16.8">0.3</text>
<path d="M24.9 213.3H34.7M24.9 247.1H34.7M24.9 281.0H34.7M24.9 314.9H34.7M49.0 324.5H58.8M115.5 324.5H125.3M404.4 229.5H414.2M681.0 229.5H690.8M404.4 283.1H414.2M681.0 283.1H690.8M404.4 336.7H414.2M681.0 336.7H690.8" stroke="#000" stroke-width="1.05"/>
<text x="559.2" y="350.2" font-size="12.2" text-anchor="middle">Template</text>
<g transform="translate(397,237.5) rotate(-90)"><text font-size="12.4" y="0"><tspan x="0">log</tspan><tspan x="15.9" y="2.8" font-size="8.7">10</tspan><tspan x="27.6" y="0">Aperture Correction</tspan></text></g>
<g transform="translate(730.3,300) rotate(-90)"><text font-size="16" y="0"><tspan x="0">log</tspan><tspan x="20.8" y="3.8" font-size="11.2">10</tspan><tspan x="36.6" y="0" textLength="215" lengthAdjust="spacing">Ratio to WISE3-based correction</tspan></text></g>
</svg></body></html>
